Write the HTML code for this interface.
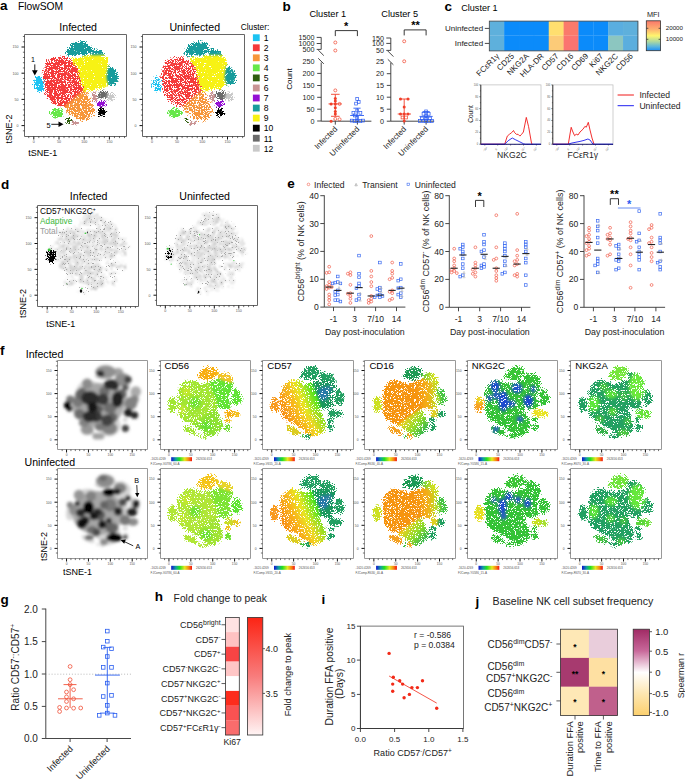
<!DOCTYPE html>
<html><head><meta charset="utf-8"><title>Figure</title>
<style>html,body{margin:0;padding:0;background:#fff;}svg{display:block;}
text{font-family:"Liberation Sans", sans-serif;}</style></head>
<body><svg width="685" height="780" viewBox="0 0 685 780" font-family='"Liberation Sans", sans-serif'>
<defs><filter id="spA" filterUnits="userSpaceOnUse" x="0" y="0" width="685" height="780" color-interpolation-filters="sRGB"><feGaussianBlur in="SourceGraphic" stdDeviation="0.8" result="b"/><feColorMatrix in="b" type="matrix" values="1 0 0 0 0  0 1 0 0 0  0 0 1 0 0  0 0 0 0 1" result="col"/><feTurbulence type="fractalNoise" baseFrequency="1.71" numOctaves="2" seed="4" result="t"/><feColorMatrix in="t" type="matrix" values="0 0 0 0 0  0 0 0 0 0  0 0 0 0 0  1 0 0 0 0" result="tn"/><feComposite in="b" in2="tn" operator="arithmetic" k1="0" k2="7.286" k3="-25" k4="8.314" result="m"/><feComposite in="col" in2="m" operator="in" result="d"/><feComponentTransfer in="b" result="bm"><feFuncA type="linear" slope="20" intercept="-0.4"/></feComponentTransfer><feComposite in="d" in2="bm" operator="in"/></filter><filter id="spA2" filterUnits="userSpaceOnUse" x="0" y="0" width="685" height="780" color-interpolation-filters="sRGB"><feGaussianBlur in="SourceGraphic" stdDeviation="0.8" result="b"/><feColorMatrix in="b" type="matrix" values="1 0 0 0 0  0 1 0 0 0  0 0 1 0 0  0 0 0 0 1" result="col"/><feTurbulence type="fractalNoise" baseFrequency="1.71" numOctaves="2" seed="9" result="t"/><feColorMatrix in="t" type="matrix" values="0 0 0 0 0  0 0 0 0 0  0 0 0 0 0  1 0 0 0 0" result="tn"/><feComposite in="b" in2="tn" operator="arithmetic" k1="0" k2="7.964" k3="-25" k4="10.161" result="m"/><feComposite in="col" in2="m" operator="in" result="d"/><feComponentTransfer in="b" result="bm"><feFuncA type="linear" slope="20" intercept="-0.4"/></feComponentTransfer><feComposite in="d" in2="bm" operator="in"/></filter><filter id="spA3" filterUnits="userSpaceOnUse" x="0" y="0" width="685" height="780" color-interpolation-filters="sRGB"><feGaussianBlur in="SourceGraphic" stdDeviation="0.8" result="b"/><feColorMatrix in="b" type="matrix" values="1 0 0 0 0  0 1 0 0 0  0 0 1 0 0  0 0 0 0 1" result="col"/><feTurbulence type="fractalNoise" baseFrequency="1.71" numOctaves="2" seed="6" result="t"/><feColorMatrix in="t" type="matrix" values="0 0 0 0 0  0 0 0 0 0  0 0 0 0 0  1 0 0 0 0" result="tn"/><feComposite in="b" in2="tn" operator="arithmetic" k1="0" k2="6.429" k3="-25" k4="8.071" result="m"/><feComposite in="col" in2="m" operator="in" result="d"/><feComponentTransfer in="b" result="bm"><feFuncA type="linear" slope="20" intercept="-0.4"/></feComponentTransfer><feComposite in="d" in2="bm" operator="in"/></filter><filter id="spF" filterUnits="userSpaceOnUse" x="0" y="0" width="685" height="780" color-interpolation-filters="sRGB"><feGaussianBlur in="SourceGraphic" stdDeviation="0.8" result="b"/><feColorMatrix in="b" type="matrix" values="1 0 0 0 0  0 1 0 0 0  0 0 1 0 0  0 0 0 0 1" result="col"/><feTurbulence type="fractalNoise" baseFrequency="1.71" numOctaves="2" seed="7" result="t"/><feColorMatrix in="t" type="matrix" values="0 0 0 0 0  0 0 0 0 0  0 0 0 0 0  1 0 0 0 0" result="tn"/><feComposite in="b" in2="tn" operator="arithmetic" k1="0" k2="7.286" k3="-25" k4="8.789" result="m"/><feComposite in="col" in2="m" operator="in" result="d"/><feComponentTransfer in="b" result="bm"><feFuncA type="linear" slope="20" intercept="-0.4"/></feComponentTransfer><feComposite in="d" in2="bm" operator="in"/></filter><filter id="spF2" filterUnits="userSpaceOnUse" x="0" y="0" width="685" height="780" color-interpolation-filters="sRGB"><feGaussianBlur in="SourceGraphic" stdDeviation="0.8" result="b"/><feColorMatrix in="b" type="matrix" values="1 0 0 0 0  0 1 0 0 0  0 0 1 0 0  0 0 0 0 1" result="col"/><feTurbulence type="fractalNoise" baseFrequency="1.71" numOctaves="2" seed="8" result="t"/><feColorMatrix in="t" type="matrix" values="0 0 0 0 0  0 0 0 0 0  0 0 0 0 0  1 0 0 0 0" result="tn"/><feComposite in="b" in2="tn" operator="arithmetic" k1="0" k2="7.000" k3="-25" k4="10.450" result="m"/><feComposite in="col" in2="m" operator="in" result="d"/><feComponentTransfer in="b" result="bm"><feFuncA type="linear" slope="20" intercept="-0.4"/></feComponentTransfer><feComposite in="d" in2="bm" operator="in"/></filter><filter id="spD" filterUnits="userSpaceOnUse" x="0" y="0" width="685" height="780" color-interpolation-filters="sRGB"><feGaussianBlur in="SourceGraphic" stdDeviation="0.8" result="b"/><feColorMatrix in="b" type="matrix" values="1 0 0 0 0  0 1 0 0 0  0 0 1 0 0  0 0 0 0 1" result="col"/><feTurbulence type="fractalNoise" baseFrequency="1.71" numOctaves="2" seed="11" result="t"/><feColorMatrix in="t" type="matrix" values="0 0 0 0 0  0 0 0 0 0  0 0 0 0 0  1 0 0 0 0" result="tn"/><feComposite in="b" in2="tn" operator="arithmetic" k1="0" k2="4.786" k3="-25" k4="7.089" result="m"/><feComposite in="col" in2="m" operator="in" result="d"/><feComponentTransfer in="b" result="bm"><feFuncA type="linear" slope="20" intercept="-0.4"/></feComponentTransfer><feComposite in="d" in2="bm" operator="in"/><feGaussianBlur stdDeviation="0.9"/></filter><filter id="spD2" filterUnits="userSpaceOnUse" x="0" y="0" width="685" height="780" color-interpolation-filters="sRGB"><feGaussianBlur in="SourceGraphic" stdDeviation="0.8" result="b"/><feColorMatrix in="b" type="matrix" values="1 0 0 0 0  0 1 0 0 0  0 0 1 0 0  0 0 0 0 1" result="col"/><feTurbulence type="fractalNoise" baseFrequency="1.71" numOctaves="2" seed="13" result="t"/><feColorMatrix in="t" type="matrix" values="0 0 0 0 0  0 0 0 0 0  0 0 0 0 0  1 0 0 0 0" result="tn"/><feComposite in="b" in2="tn" operator="arithmetic" k1="0" k2="1.536" k3="-25" k4="6.989" result="m"/><feComposite in="col" in2="m" operator="in" result="d"/><feComponentTransfer in="b" result="bm"><feFuncA type="linear" slope="20" intercept="-0.4"/></feComponentTransfer><feComposite in="d" in2="bm" operator="in"/></filter><filter id="spK" filterUnits="userSpaceOnUse" x="0" y="0" width="685" height="780" color-interpolation-filters="sRGB"><feGaussianBlur in="SourceGraphic" stdDeviation="0.8" result="b"/><feColorMatrix in="b" type="matrix" values="1 0 0 0 0  0 1 0 0 0  0 0 1 0 0  0 0 0 0 1" result="col"/><feTurbulence type="fractalNoise" baseFrequency="1.71" numOctaves="2" seed="2" result="t"/><feColorMatrix in="t" type="matrix" values="0 0 0 0 0  0 0 0 0 0  0 0 0 0 0  1 0 0 0 0" result="tn"/><feComposite in="b" in2="tn" operator="arithmetic" k1="0" k2="9.250" k3="-25" k4="8.200" result="m"/><feComposite in="col" in2="m" operator="in" result="d"/><feComponentTransfer in="b" result="bm"><feFuncA type="linear" slope="20" intercept="-0.4"/></feComponentTransfer><feComposite in="d" in2="bm" operator="in"/></filter><filter id="spK2" filterUnits="userSpaceOnUse" x="0" y="0" width="685" height="780" color-interpolation-filters="sRGB"><feGaussianBlur in="SourceGraphic" stdDeviation="0.8" result="b"/><feColorMatrix in="b" type="matrix" values="1 0 0 0 0  0 1 0 0 0  0 0 1 0 0  0 0 0 0 1" result="col"/><feTurbulence type="fractalNoise" baseFrequency="1.71" numOctaves="2" seed="5" result="t"/><feColorMatrix in="t" type="matrix" values="0 0 0 0 0  0 0 0 0 0  0 0 0 0 0  1 0 0 0 0" result="tn"/><feComposite in="b" in2="tn" operator="arithmetic" k1="0" k2="6.714" k3="-25" k4="6.511" result="m"/><feComposite in="col" in2="m" operator="in" result="d"/><feComponentTransfer in="b" result="bm"><feFuncA type="linear" slope="20" intercept="-0.4"/></feComponentTransfer><feComposite in="d" in2="bm" operator="in"/></filter><filter id="blurD" x="-10%" y="-10%" width="120%" height="120%"><feGaussianBlur stdDeviation="1.5"/></filter><filter id="blurT" x="-50%" y="-50%" width="200%" height="200%"><feGaussianBlur stdDeviation="2.2"/></filter><linearGradient id="gMFI" x1="0" y1="0" x2="0" y2="1"><stop offset="0" stop-color="#fa786a"/><stop offset="0.28" stop-color="#fdb070"/><stop offset="0.5" stop-color="#fff56e"/><stop offset="0.7" stop-color="#acd8a0"/><stop offset="0.86" stop-color="#5cb6dc"/><stop offset="1" stop-color="#1a8ef8"/></linearGradient><linearGradient id="gCD57a" gradientUnits="userSpaceOnUse" x1="20" y1="70" x2="100" y2="105"><stop offset="0" stop-color="#f88e14"/><stop offset="0.35" stop-color="#f8b81c"/><stop offset="0.6" stop-color="#e8e620"/><stop offset="1" stop-color="#3ee21e"/></linearGradient><linearGradient id="gCD57b" gradientUnits="userSpaceOnUse" x1="65" y1="25" x2="120" y2="55"><stop offset="0" stop-color="#f8a416"/><stop offset="0.45" stop-color="#f0d820"/><stop offset="1" stop-color="#70e020"/></linearGradient><linearGradient id="gCD16a" gradientUnits="userSpaceOnUse" x1="95" y1="100" x2="145" y2="100"><stop offset="0" stop-color="#f6940f"/><stop offset="0.55" stop-color="#f4ae18"/><stop offset="1" stop-color="#b8e022"/></linearGradient><linearGradient id="gCD16b" gradientUnits="userSpaceOnUse" x1="75" y1="50" x2="118" y2="15"><stop offset="0" stop-color="#e8d020"/><stop offset="0.5" stop-color="#90dc28"/><stop offset="1" stop-color="#28b050"/></linearGradient><linearGradient id="gCD16c" gradientUnits="userSpaceOnUse" x1="108" y1="140" x2="134" y2="135"><stop offset="0" stop-color="#50cc3c"/><stop offset="1" stop-color="#d0e020"/></linearGradient><linearGradient id="gFJ" x1="0" y1="0" x2="1" y2="0"><stop offset="0" stop-color="#1010d0"/><stop offset="0.22" stop-color="#10a0a0"/><stop offset="0.4" stop-color="#20e020"/><stop offset="0.65" stop-color="#e8e820"/><stop offset="0.85" stop-color="#f88010"/><stop offset="1" stop-color="#f01010"/></linearGradient><clipPath id="tclip" clipPathUnits="userSpaceOnUse"><path d="M39.0,127.8C41.0,128.8 49.0,129.3 51.0,129.2C53.0,129.1 60.8,126.9 63.0,126.3C65.2,125.7 75.5,121.7 78.0,121.5C80.5,121.3 91.2,125.4 93.0,124.0C94.8,122.6 98.8,107.9 100.0,105.0C101.2,102.1 107.1,91.9 108.0,89.0C108.9,86.1 111.0,71.9 111.0,70.0C111.0,68.1 109.3,67.4 108.0,66.6C106.7,65.8 97.3,61.4 95.0,60.0C92.7,58.6 82.4,51.7 80.0,50.0C77.6,48.3 68.1,41.5 66.0,40.0C63.9,38.5 57.0,32.2 55.0,32.0C53.0,31.8 44.0,36.6 42.0,37.5C40.0,38.4 33.0,42.0 31.5,43.0C30.0,44.0 24.9,48.1 24.0,49.6C23.1,51.1 21.2,58.9 21.0,61.0C20.8,63.1 21.1,72.6 21.0,75.2C20.9,77.8 19.5,89.6 19.5,92.2C19.5,94.8 20.4,104.3 21.0,106.4C21.6,108.5 25.5,116.0 27.0,117.8C28.5,119.6 37.0,126.8 39.0,127.8Z"/><path d="M55.0,32.0C55.2,33.2 63.9,38.5 66.0,40.0C68.1,41.5 77.6,48.3 80.0,50.0C82.4,51.7 92.7,58.6 95.0,60.0C97.3,61.4 106.6,66.3 108.0,66.6C109.4,66.8 111.3,64.1 112.0,63.0C112.7,61.9 115.2,54.8 116.0,53.0C116.8,51.2 120.3,42.9 121.0,41.0C121.7,39.1 124.6,31.5 124.5,29.7C124.4,27.9 121.1,20.5 120.0,19.0C118.9,17.5 112.8,12.6 111.0,11.6C109.2,10.6 100.9,7.6 99.0,7.3C97.1,7.0 89.9,7.7 88.0,8.5C86.1,9.3 78.0,15.5 76.0,17.0C74.0,18.5 65.8,24.8 64.0,26.0C62.2,27.2 54.8,30.8 55.0,32.0Z"/><path d="M93.0,124.9C93.7,126.9 106.4,128.4 108.0,129.2C109.6,130.0 110.6,134.1 112.0,134.0C113.4,133.9 122.7,128.8 125.0,128.0C127.3,127.2 138.2,124.1 140.0,124.0C141.8,123.9 145.5,127.5 146.0,127.0C146.5,126.5 146.0,120.0 145.5,117.8C145.0,115.5 140.5,102.4 140.0,100.0C139.5,97.6 138.8,91.5 139.0,89.4C139.2,87.3 142.2,76.8 142.0,75.0C141.8,73.2 138.3,68.8 137.0,68.0C135.7,67.2 127.8,66.0 126.0,66.0C124.2,66.0 116.2,67.7 115.0,68.0C113.8,68.3 111.6,68.2 111.0,70.0C110.4,71.8 108.9,86.1 108.0,89.0C107.1,91.9 101.2,102.0 100.0,105.0C98.8,108.0 92.3,122.9 93.0,124.9Z"/><path d="M64.5,137.7C64.8,140.1 69.2,144.6 72.0,147.7C74.8,150.8 77.8,154.3 81.0,156.2C84.2,158.1 87.5,159.0 91.5,159.0C95.5,159.0 101.8,158.3 105.0,156.2C108.2,154.1 110.8,149.5 111.0,146.3C111.2,143.1 108.0,139.6 106.0,137.0C104.0,134.4 102.7,132.2 99.0,131.0C95.3,129.8 88.8,129.2 84.0,129.5C79.2,129.8 73.2,131.6 70.0,133.0C66.8,134.4 64.2,135.2 64.5,137.7Z"/><path d="M109.0,145.0C109.8,146.7 113.7,144.4 117.0,144.4C120.3,144.4 125.0,146.1 129.0,145.0C133.0,143.9 138.0,140.6 141.0,137.7C144.0,134.8 147.2,130.1 147.0,127.8C146.8,125.5 143.7,124.0 140.0,124.0C136.3,124.0 129.7,126.3 125.0,128.0C120.3,129.7 114.7,131.2 112.0,134.0C109.3,136.8 108.2,143.3 109.0,145.0Z"/><path d="M148.0,109.3C150.7,112.1 155.9,109.2 159.0,106.4C162.1,103.6 166.0,96.9 166.5,92.2C167.0,87.5 164.9,80.8 162.0,78.0C159.1,75.2 152.2,73.3 149.0,75.2C145.8,77.1 143.2,83.7 143.0,89.4C142.8,95.1 145.3,106.5 148.0,109.3Z"/></clipPath><clipPath id="tclipS" clipPathUnits="userSpaceOnUse"><path d="M-1.0,78.0C-0.7,80.7 -0.2,84.7 1.0,87.0C2.2,89.3 4.3,91.3 6.0,92.0C7.7,92.7 9.5,92.3 11.0,91.0C12.5,89.7 14.2,87.2 15.0,84.0C15.8,80.8 16.3,75.5 16.0,72.0C15.7,68.5 14.5,64.8 13.0,63.0C11.5,61.2 9.0,60.8 7.0,61.0C5.0,61.2 2.3,62.3 1.0,64.0C-0.3,65.7 -0.7,68.7 -1.0,71.0C-1.3,73.3 -1.3,75.3 -1.0,78.0Z"/><path d="M130.0,57.0a9.0,7.5 0 1,0 18.0,0a9.0,7.5 0 1,0 -18.0,0Z"/><path d="M145.5,56.0a8.0,6.5 0 1,0 16.0,0a8.0,6.5 0 1,0 -16.0,0Z"/><path d="M128.0,43.0a6.0,4.5 0 1,0 12.0,0a6.0,4.5 0 1,0 -12.0,0Z"/><path d="M129.0,27.0a6.0,7.0 0 1,0 12.0,0a6.0,7.0 0 1,0 -12.0,0Z"/><path d="M76.5,7.5a5.5,4.2 0 1,0 11.0,0a5.5,4.2 0 1,0 -11.0,0Z"/><path d="M63.5,13.2C63.8,13.9 63.8,14.8 63.3,15.8C62.9,16.7 62.1,17.9 61.0,18.9C59.9,20.0 58.4,21.2 56.8,22.3C55.2,23.3 53.3,24.4 51.5,25.3C49.6,26.1 47.5,26.9 45.7,27.4C43.9,28.0 42.0,28.4 40.5,28.5C39.0,28.6 37.5,28.5 36.5,28.3C35.5,28.0 34.8,27.4 34.5,26.8C34.2,26.1 34.2,25.2 34.7,24.2C35.1,23.3 35.9,22.1 37.0,21.1C38.1,20.0 39.6,18.8 41.2,17.7C42.8,16.7 44.7,15.6 46.5,14.7C48.4,13.9 50.5,13.1 52.3,12.6C54.1,12.0 56.0,11.6 57.5,11.5C59.0,11.4 60.5,11.5 61.5,11.7C62.5,12.0 63.2,12.6 63.5,13.2Z"/><path d="M68.3,8.5a3.2,3.2 0 1,0 6.4,0a3.2,3.2 0 1,0 -6.4,0Z"/></clipPath><linearGradient id="gFold" x1="0" y1="0" x2="0" y2="1"><stop offset="0" stop-color="#fc2414"/><stop offset="0.5" stop-color="#f87c7c"/><stop offset="1" stop-color="#fff4f4"/></linearGradient><linearGradient id="gSp" x1="0" y1="0" x2="0" y2="1"><stop offset="0" stop-color="#a02a64"/><stop offset="0.25" stop-color="#c8689a"/><stop offset="0.5" stop-color="#ffffff"/><stop offset="0.75" stop-color="#fde6b0"/><stop offset="1" stop-color="#fcd06e"/></linearGradient></defs>
<rect width="685" height="780" fill="#fff"/>
<text x="0.00" y="10.30" font-size="13.5" font-weight="bold">a</text>
<text x="18.00" y="10.30" font-size="10.3">FlowSOM</text>
<text x="59.30" y="30.60" font-size="10.6">Infected</text>
<g filter="url(#spA)"><g transform="translate(33.80,125.60) scale(0.5040,-0.5240)">
<path d="M26.4,123.3C27.6,124.6 33.5,126.5 35.0,127.0C36.5,127.5 42.5,129.2 44.6,129.5C46.7,129.8 58.0,131.1 60.2,130.8C62.4,130.5 69.0,126.7 70.7,125.8C72.4,124.9 79.6,121.0 81.1,119.5C82.6,118.0 88.0,110.4 88.9,108.2C89.8,106.0 91.0,95.7 91.5,93.2C92.0,90.7 94.7,80.4 95.4,78.2C96.1,76.0 100.2,68.6 99.4,66.9C98.6,65.2 88.7,59.9 86.3,58.1C83.9,56.3 72.9,47.5 70.7,45.6C68.5,43.7 62.2,36.1 60.2,35.5C58.2,34.9 49.4,37.3 47.2,38.1C45.0,38.9 36.0,43.9 34.2,45.6C32.4,47.3 26.1,56.2 25.1,58.1C24.1,60.0 22.8,66.0 22.4,68.1C22.0,70.2 20.1,80.7 19.8,83.2C19.5,85.7 18.4,95.9 18.5,98.2C18.6,100.5 20.4,108.7 21.1,110.8C21.8,112.9 25.2,122.0 26.4,123.3Z" fill="#f53a3a" opacity="1"/>
<path d="M60.2,35.5C60.6,37.0 68.5,43.7 70.7,45.6C72.9,47.5 83.9,56.3 86.3,58.1C88.7,59.9 98.1,66.3 99.4,66.9C100.7,67.5 101.3,66.3 102.0,65.6C102.7,64.9 106.1,59.8 107.2,58.1C108.3,56.4 113.9,47.7 115.0,45.6C116.1,43.5 119.8,34.9 120.2,33.0C120.6,31.1 121.1,24.7 120.2,23.0C119.3,21.3 111.5,14.2 109.8,13.0C108.1,11.8 101.4,9.2 99.4,9.2C97.4,9.2 88.5,12.1 86.3,13.0C84.1,13.9 75.0,19.2 73.3,20.5C71.6,21.8 66.6,26.8 65.5,28.0C64.4,29.2 59.8,34.0 60.2,35.5Z" fill="#f7963a" opacity="1"/>
</g></g>
<g filter="url(#spA2)"><g transform="translate(33.80,125.60) scale(0.5040,-0.5240)">
<path d="M65.5,139.6C65.5,141.9 68.1,145.5 70.7,148.4C73.3,151.3 76.8,155.2 81.1,157.1C85.4,159.0 91.9,160.2 96.7,159.6C101.5,159.0 107.2,156.1 109.8,153.4C112.4,150.7 113.7,146.2 112.4,143.3C111.1,140.4 106.8,137.1 102.0,135.8C97.2,134.6 88.9,136.0 83.7,135.8C78.5,135.6 73.7,134.0 70.7,134.6C67.7,135.2 65.5,137.3 65.5,139.6Z" fill="#179c9c" opacity="1"/>
<path d="M112.0,141.0C112.3,142.4 112.3,144.2 115.0,144.6C117.7,145.0 124.1,144.6 128.0,143.3C131.9,142.1 137.3,139.0 138.4,137.1C139.5,135.2 137.5,132.7 134.5,132.1C131.5,131.5 123.8,132.7 120.2,133.3C116.6,134.0 114.4,134.7 113.0,136.0C111.6,137.3 111.7,139.6 112.0,141.0Z" fill="#179c9c" opacity="1"/>
<path d="M75.9,128.3C76.8,129.0 88.7,127.9 91.5,128.3C94.3,128.7 106.3,132.8 109.8,133.3C113.3,133.8 130.4,134.8 133.2,134.6C136.0,134.4 142.6,132.6 143.7,130.8C144.8,129.0 146.3,116.4 146.3,113.3C146.3,110.2 143.7,95.9 143.7,93.2C143.7,90.5 146.7,82.4 146.3,80.7C145.9,79.0 140.8,74.0 138.4,73.1C136.0,72.2 120.4,69.8 117.6,69.4C114.8,69.0 106.0,68.3 104.5,68.1C103.0,67.9 100.2,66.1 99.4,66.9C98.6,67.7 96.1,76.0 95.4,78.2C94.7,80.4 92.0,90.7 91.5,93.2C91.0,95.7 89.8,106.0 88.9,108.2C88.0,110.4 82.2,117.8 81.1,119.5C80.0,121.2 75.0,127.6 75.9,128.3Z" fill="#f7f214" opacity="1"/>
<path d="M148.9,113.3C151.1,113.7 156.5,109.0 159.3,105.7C162.1,102.4 165.4,97.4 165.8,93.2C166.2,89.0 164.3,83.2 161.9,80.7C159.5,78.2 154.3,77.0 151.5,78.2C148.7,79.5 145.9,84.0 145.0,88.2C144.1,92.4 145.7,99.0 146.3,103.2C147.0,107.4 146.7,112.9 148.9,113.3Z" fill="#179c9c" opacity="1"/>
<path d="M4.2,90.7C5.9,93.6 8.5,93.6 10.7,93.2C12.9,92.8 15.9,91.1 17.2,88.2C18.5,85.3 18.9,79.6 18.5,75.6C18.1,71.6 16.6,65.7 14.6,64.4C12.7,63.2 9.2,66.2 6.8,68.1C4.4,70.0 0.7,71.8 0.3,75.6C-0.1,79.4 2.5,87.8 4.2,90.7Z" fill="#1cc3f2" opacity="1"/>
<path d="M127.2,58.1a10.0,7.2 0 1,0 20.0,0a10.0,7.2 0 1,0 -20.0,0Z" fill="#6a6a6a" opacity="1"/>
<path d="M144.8,55.6a8.0,6.0 0 1,0 16.0,0a8.0,6.0 0 1,0 -16.0,0Z" fill="#c9c9c9" opacity="1"/>
<path d="M127.0,41.8a7.5,5.0 0 1,0 15.0,0a7.5,5.0 0 1,0 -15.0,0Z" fill="#9410d4" opacity="1"/>
<path d="M128.3,25.5a7.0,7.5 0 1,0 14.0,0a7.0,7.5 0 1,0 -14.0,0Z" fill="#000000" opacity="1"/>
<path d="M116.5,55.0a3.5,8.0 0 1,0 7.0,0a3.5,8.0 0 1,0 -7.0,0ZM75.6,5.5a6.0,3.0 0 1,0 12.0,0a6.0,3.0 0 1,0 -12.0,0Z" fill="#c99494" opacity="1"/>
<path d="M32.9,24.3a13.0,7.5 0 1,0 26.0,0a13.0,7.5 0 1,0 -26.0,0Z" fill="#66e84a" opacity="1"/>
<path d="M64.9,9.2a4.5,4.5 0 1,0 9.0,0a4.5,4.5 0 1,0 -9.0,0Z" fill="#2e5e0e" opacity="1"/>
</g></g>
<path d="M24.5,34.5 H126.5 V136.5 H24.5 Z" fill="none" stroke="#666" stroke-width="1"/>
<line x1="22.90" y1="130.84" x2="24.50" y2="130.84" stroke="#111" stroke-width="0.6"/>
<line x1="21.50" y1="125.60" x2="24.50" y2="125.60" stroke="#111" stroke-width="1"/>
<text x="18.50" y="126.90" font-size="3.6" text-anchor="end" fill="#555">0</text>
<line x1="22.90" y1="120.36" x2="24.50" y2="120.36" stroke="#111" stroke-width="0.6"/>
<line x1="22.90" y1="115.12" x2="24.50" y2="115.12" stroke="#111" stroke-width="0.6"/>
<line x1="22.90" y1="109.88" x2="24.50" y2="109.88" stroke="#111" stroke-width="0.6"/>
<line x1="22.90" y1="104.64" x2="24.50" y2="104.64" stroke="#111" stroke-width="0.6"/>
<line x1="21.50" y1="99.40" x2="24.50" y2="99.40" stroke="#111" stroke-width="1"/>
<text x="18.50" y="100.70" font-size="3.6" text-anchor="end" fill="#555">50</text>
<line x1="22.90" y1="94.16" x2="24.50" y2="94.16" stroke="#111" stroke-width="0.6"/>
<line x1="22.90" y1="88.92" x2="24.50" y2="88.92" stroke="#111" stroke-width="0.6"/>
<line x1="22.90" y1="83.68" x2="24.50" y2="83.68" stroke="#111" stroke-width="0.6"/>
<line x1="22.90" y1="78.44" x2="24.50" y2="78.44" stroke="#111" stroke-width="0.6"/>
<line x1="21.50" y1="73.20" x2="24.50" y2="73.20" stroke="#111" stroke-width="1"/>
<text x="18.50" y="74.50" font-size="3.6" text-anchor="end" fill="#555">100</text>
<line x1="22.90" y1="67.96" x2="24.50" y2="67.96" stroke="#111" stroke-width="0.6"/>
<line x1="22.90" y1="62.72" x2="24.50" y2="62.72" stroke="#111" stroke-width="0.6"/>
<line x1="22.90" y1="57.48" x2="24.50" y2="57.48" stroke="#111" stroke-width="0.6"/>
<line x1="22.90" y1="52.24" x2="24.50" y2="52.24" stroke="#111" stroke-width="0.6"/>
<line x1="21.50" y1="47.00" x2="24.50" y2="47.00" stroke="#111" stroke-width="1"/>
<text x="18.50" y="48.30" font-size="3.6" text-anchor="end" fill="#555">150</text>
<line x1="22.90" y1="41.76" x2="24.50" y2="41.76" stroke="#111" stroke-width="0.6"/>
<line x1="22.90" y1="36.52" x2="24.50" y2="36.52" stroke="#111" stroke-width="0.6"/>
<line x1="28.76" y1="136.50" x2="28.76" y2="138.10" stroke="#111" stroke-width="0.6"/>
<line x1="33.80" y1="136.50" x2="33.80" y2="139.50" stroke="#111" stroke-width="1"/>
<text x="33.80" y="143.10" font-size="3.6" text-anchor="middle" fill="#555">0</text>
<line x1="38.84" y1="136.50" x2="38.84" y2="138.10" stroke="#111" stroke-width="0.6"/>
<line x1="43.88" y1="136.50" x2="43.88" y2="138.10" stroke="#111" stroke-width="0.6"/>
<line x1="48.92" y1="136.50" x2="48.92" y2="138.10" stroke="#111" stroke-width="0.6"/>
<line x1="53.96" y1="136.50" x2="53.96" y2="138.10" stroke="#111" stroke-width="0.6"/>
<line x1="59.00" y1="136.50" x2="59.00" y2="139.50" stroke="#111" stroke-width="1"/>
<text x="59.00" y="143.10" font-size="3.6" text-anchor="middle" fill="#555">50</text>
<line x1="64.04" y1="136.50" x2="64.04" y2="138.10" stroke="#111" stroke-width="0.6"/>
<line x1="69.08" y1="136.50" x2="69.08" y2="138.10" stroke="#111" stroke-width="0.6"/>
<line x1="74.12" y1="136.50" x2="74.12" y2="138.10" stroke="#111" stroke-width="0.6"/>
<line x1="79.16" y1="136.50" x2="79.16" y2="138.10" stroke="#111" stroke-width="0.6"/>
<line x1="84.20" y1="136.50" x2="84.20" y2="139.50" stroke="#111" stroke-width="1"/>
<text x="84.20" y="143.10" font-size="3.6" text-anchor="middle" fill="#555">100</text>
<line x1="89.24" y1="136.50" x2="89.24" y2="138.10" stroke="#111" stroke-width="0.6"/>
<line x1="94.28" y1="136.50" x2="94.28" y2="138.10" stroke="#111" stroke-width="0.6"/>
<line x1="99.32" y1="136.50" x2="99.32" y2="138.10" stroke="#111" stroke-width="0.6"/>
<line x1="104.36" y1="136.50" x2="104.36" y2="138.10" stroke="#111" stroke-width="0.6"/>
<line x1="109.40" y1="136.50" x2="109.40" y2="139.50" stroke="#111" stroke-width="1"/>
<text x="109.40" y="143.10" font-size="3.6" text-anchor="middle" fill="#555">150</text>
<line x1="114.44" y1="136.50" x2="114.44" y2="138.10" stroke="#111" stroke-width="0.6"/>
<line x1="119.48" y1="136.50" x2="119.48" y2="138.10" stroke="#111" stroke-width="0.6"/>
<line x1="124.52" y1="136.50" x2="124.52" y2="138.10" stroke="#111" stroke-width="0.6"/>
<text x="169.40" y="30.60" font-size="10.6">Uninfected</text>
<g filter="url(#spA3)"><g transform="translate(151.90,125.60) scale(0.5040,-0.5240)">
<path d="M26.4,123.3C27.6,124.6 33.5,126.5 35.0,127.0C36.5,127.5 42.5,129.2 44.6,129.5C46.7,129.8 58.0,131.1 60.2,130.8C62.4,130.5 69.0,126.7 70.7,125.8C72.4,124.9 79.6,121.0 81.1,119.5C82.6,118.0 88.0,110.4 88.9,108.2C89.8,106.0 91.0,95.7 91.5,93.2C92.0,90.7 94.7,80.4 95.4,78.2C96.1,76.0 100.2,68.6 99.4,66.9C98.6,65.2 88.7,59.9 86.3,58.1C83.9,56.3 72.9,47.5 70.7,45.6C68.5,43.7 62.2,36.1 60.2,35.5C58.2,34.9 49.4,37.3 47.2,38.1C45.0,38.9 36.0,43.9 34.2,45.6C32.4,47.3 26.1,56.2 25.1,58.1C24.1,60.0 22.8,66.0 22.4,68.1C22.0,70.2 20.1,80.7 19.8,83.2C19.5,85.7 18.4,95.9 18.5,98.2C18.6,100.5 20.4,108.7 21.1,110.8C21.8,112.9 25.2,122.0 26.4,123.3Z" fill="#f53a3a" opacity="1"/>
<path d="M60.2,35.5C60.6,37.0 68.5,43.7 70.7,45.6C72.9,47.5 83.9,56.3 86.3,58.1C88.7,59.9 98.1,66.3 99.4,66.9C100.7,67.5 101.3,66.3 102.0,65.6C102.7,64.9 106.1,59.8 107.2,58.1C108.3,56.4 113.9,47.7 115.0,45.6C116.1,43.5 119.8,34.9 120.2,33.0C120.6,31.1 121.1,24.7 120.2,23.0C119.3,21.3 111.5,14.2 109.8,13.0C108.1,11.8 101.4,9.2 99.4,9.2C97.4,9.2 88.5,12.1 86.3,13.0C84.1,13.9 75.0,19.2 73.3,20.5C71.6,21.8 66.6,26.8 65.5,28.0C64.4,29.2 59.8,34.0 60.2,35.5Z" fill="#f7963a" opacity="1"/>
</g></g>
<g filter="url(#spA2)"><g transform="translate(151.90,125.60) scale(0.5040,-0.5240)">
<path d="M65.5,139.6C65.5,141.9 68.1,145.5 70.7,148.4C73.3,151.3 76.8,155.2 81.1,157.1C85.4,159.0 91.9,160.2 96.7,159.6C101.5,159.0 107.2,156.1 109.8,153.4C112.4,150.7 113.7,146.2 112.4,143.3C111.1,140.4 106.8,137.1 102.0,135.8C97.2,134.6 88.9,136.0 83.7,135.8C78.5,135.6 73.7,134.0 70.7,134.6C67.7,135.2 65.5,137.3 65.5,139.6Z" fill="#179c9c" opacity="1"/>
<path d="M112.0,141.0C112.3,142.4 112.3,144.2 115.0,144.6C117.7,145.0 124.1,144.6 128.0,143.3C131.9,142.1 137.3,139.0 138.4,137.1C139.5,135.2 137.5,132.7 134.5,132.1C131.5,131.5 123.8,132.7 120.2,133.3C116.6,134.0 114.4,134.7 113.0,136.0C111.6,137.3 111.7,139.6 112.0,141.0Z" fill="#179c9c" opacity="1"/>
<path d="M75.9,128.3C76.8,129.0 88.7,127.9 91.5,128.3C94.3,128.7 106.3,132.8 109.8,133.3C113.3,133.8 130.4,134.8 133.2,134.6C136.0,134.4 142.6,132.6 143.7,130.8C144.8,129.0 146.3,116.4 146.3,113.3C146.3,110.2 143.7,95.9 143.7,93.2C143.7,90.5 146.7,82.4 146.3,80.7C145.9,79.0 140.8,74.0 138.4,73.1C136.0,72.2 120.4,69.8 117.6,69.4C114.8,69.0 106.0,68.3 104.5,68.1C103.0,67.9 100.2,66.1 99.4,66.9C98.6,67.7 96.1,76.0 95.4,78.2C94.7,80.4 92.0,90.7 91.5,93.2C91.0,95.7 89.8,106.0 88.9,108.2C88.0,110.4 82.2,117.8 81.1,119.5C80.0,121.2 75.0,127.6 75.9,128.3Z" fill="#f7f214" opacity="1"/>
<path d="M148.9,113.3C151.1,113.7 156.5,109.0 159.3,105.7C162.1,102.4 165.4,97.4 165.8,93.2C166.2,89.0 164.3,83.2 161.9,80.7C159.5,78.2 154.3,77.0 151.5,78.2C148.7,79.5 145.9,84.0 145.0,88.2C144.1,92.4 145.7,99.0 146.3,103.2C147.0,107.4 146.7,112.9 148.9,113.3Z" fill="#179c9c" opacity="1"/>
<path d="M4.2,90.7C5.9,93.6 8.5,93.6 10.7,93.2C12.9,92.8 15.9,91.1 17.2,88.2C18.5,85.3 18.9,79.6 18.5,75.6C18.1,71.6 16.6,65.7 14.6,64.4C12.7,63.2 9.2,66.2 6.8,68.1C4.4,70.0 0.7,71.8 0.3,75.6C-0.1,79.4 2.5,87.8 4.2,90.7Z" fill="#1cc3f2" opacity="0.45"/>
<path d="M127.2,58.1a10.0,7.2 0 1,0 20.0,0a10.0,7.2 0 1,0 -20.0,0Z" fill="#6a6a6a" opacity="1"/>
<path d="M144.8,55.6a8.0,6.0 0 1,0 16.0,0a8.0,6.0 0 1,0 -16.0,0Z" fill="#c9c9c9" opacity="1"/>
<path d="M127.0,41.8a7.5,5.0 0 1,0 15.0,0a7.5,5.0 0 1,0 -15.0,0Z" fill="#9410d4" opacity="1"/>
<path d="M128.3,25.5a7.0,7.5 0 1,0 14.0,0a7.0,7.5 0 1,0 -14.0,0Z" fill="#000000" opacity="1"/>
<path d="M116.5,55.0a3.5,8.0 0 1,0 7.0,0a3.5,8.0 0 1,0 -7.0,0ZM75.6,5.5a6.0,3.0 0 1,0 12.0,0a6.0,3.0 0 1,0 -12.0,0Z" fill="#c99494" opacity="1"/>
<path d="M32.9,24.3a13.0,7.5 0 1,0 26.0,0a13.0,7.5 0 1,0 -26.0,0Z" fill="#66e84a" opacity="1"/>
<path d="M64.9,9.2a4.5,4.5 0 1,0 9.0,0a4.5,4.5 0 1,0 -9.0,0Z" fill="#2e5e0e" opacity="0.3"/>
</g></g>
<path d="M142.5,34.5 H244.5 V136.5 H142.5 Z" fill="none" stroke="#666" stroke-width="1"/>
<line x1="140.90" y1="130.84" x2="142.50" y2="130.84" stroke="#111" stroke-width="0.6"/>
<line x1="139.50" y1="125.60" x2="142.50" y2="125.60" stroke="#111" stroke-width="1"/>
<text x="136.50" y="126.90" font-size="3.6" text-anchor="end" fill="#555">0</text>
<line x1="140.90" y1="120.36" x2="142.50" y2="120.36" stroke="#111" stroke-width="0.6"/>
<line x1="140.90" y1="115.12" x2="142.50" y2="115.12" stroke="#111" stroke-width="0.6"/>
<line x1="140.90" y1="109.88" x2="142.50" y2="109.88" stroke="#111" stroke-width="0.6"/>
<line x1="140.90" y1="104.64" x2="142.50" y2="104.64" stroke="#111" stroke-width="0.6"/>
<line x1="139.50" y1="99.40" x2="142.50" y2="99.40" stroke="#111" stroke-width="1"/>
<text x="136.50" y="100.70" font-size="3.6" text-anchor="end" fill="#555">50</text>
<line x1="140.90" y1="94.16" x2="142.50" y2="94.16" stroke="#111" stroke-width="0.6"/>
<line x1="140.90" y1="88.92" x2="142.50" y2="88.92" stroke="#111" stroke-width="0.6"/>
<line x1="140.90" y1="83.68" x2="142.50" y2="83.68" stroke="#111" stroke-width="0.6"/>
<line x1="140.90" y1="78.44" x2="142.50" y2="78.44" stroke="#111" stroke-width="0.6"/>
<line x1="139.50" y1="73.20" x2="142.50" y2="73.20" stroke="#111" stroke-width="1"/>
<text x="136.50" y="74.50" font-size="3.6" text-anchor="end" fill="#555">100</text>
<line x1="140.90" y1="67.96" x2="142.50" y2="67.96" stroke="#111" stroke-width="0.6"/>
<line x1="140.90" y1="62.72" x2="142.50" y2="62.72" stroke="#111" stroke-width="0.6"/>
<line x1="140.90" y1="57.48" x2="142.50" y2="57.48" stroke="#111" stroke-width="0.6"/>
<line x1="140.90" y1="52.24" x2="142.50" y2="52.24" stroke="#111" stroke-width="0.6"/>
<line x1="139.50" y1="47.00" x2="142.50" y2="47.00" stroke="#111" stroke-width="1"/>
<text x="136.50" y="48.30" font-size="3.6" text-anchor="end" fill="#555">150</text>
<line x1="140.90" y1="41.76" x2="142.50" y2="41.76" stroke="#111" stroke-width="0.6"/>
<line x1="140.90" y1="36.52" x2="142.50" y2="36.52" stroke="#111" stroke-width="0.6"/>
<line x1="146.86" y1="136.50" x2="146.86" y2="138.10" stroke="#111" stroke-width="0.6"/>
<line x1="151.90" y1="136.50" x2="151.90" y2="139.50" stroke="#111" stroke-width="1"/>
<text x="151.90" y="143.10" font-size="3.6" text-anchor="middle" fill="#555">0</text>
<line x1="156.94" y1="136.50" x2="156.94" y2="138.10" stroke="#111" stroke-width="0.6"/>
<line x1="161.98" y1="136.50" x2="161.98" y2="138.10" stroke="#111" stroke-width="0.6"/>
<line x1="167.02" y1="136.50" x2="167.02" y2="138.10" stroke="#111" stroke-width="0.6"/>
<line x1="172.06" y1="136.50" x2="172.06" y2="138.10" stroke="#111" stroke-width="0.6"/>
<line x1="177.10" y1="136.50" x2="177.10" y2="139.50" stroke="#111" stroke-width="1"/>
<text x="177.10" y="143.10" font-size="3.6" text-anchor="middle" fill="#555">50</text>
<line x1="182.14" y1="136.50" x2="182.14" y2="138.10" stroke="#111" stroke-width="0.6"/>
<line x1="187.18" y1="136.50" x2="187.18" y2="138.10" stroke="#111" stroke-width="0.6"/>
<line x1="192.22" y1="136.50" x2="192.22" y2="138.10" stroke="#111" stroke-width="0.6"/>
<line x1="197.26" y1="136.50" x2="197.26" y2="138.10" stroke="#111" stroke-width="0.6"/>
<line x1="202.30" y1="136.50" x2="202.30" y2="139.50" stroke="#111" stroke-width="1"/>
<text x="202.30" y="143.10" font-size="3.6" text-anchor="middle" fill="#555">100</text>
<line x1="207.34" y1="136.50" x2="207.34" y2="138.10" stroke="#111" stroke-width="0.6"/>
<line x1="212.38" y1="136.50" x2="212.38" y2="138.10" stroke="#111" stroke-width="0.6"/>
<line x1="217.42" y1="136.50" x2="217.42" y2="138.10" stroke="#111" stroke-width="0.6"/>
<line x1="222.46" y1="136.50" x2="222.46" y2="138.10" stroke="#111" stroke-width="0.6"/>
<line x1="227.50" y1="136.50" x2="227.50" y2="139.50" stroke="#111" stroke-width="1"/>
<text x="227.50" y="143.10" font-size="3.6" text-anchor="middle" fill="#555">150</text>
<line x1="232.54" y1="136.50" x2="232.54" y2="138.10" stroke="#111" stroke-width="0.6"/>
<line x1="237.58" y1="136.50" x2="237.58" y2="138.10" stroke="#111" stroke-width="0.6"/>
<line x1="242.62" y1="136.50" x2="242.62" y2="138.10" stroke="#111" stroke-width="0.6"/>
<text x="31.00" y="62.20" font-size="7.2">1</text>
<line x1="34.80" y1="64.40" x2="34.80" y2="71.00" stroke="#000" stroke-width="0.9"/>
<path d="M32,70.3 L37.7,70.3 L34.8,75.5 Z" fill="#000"/>
<text x="46.40" y="127.60" font-size="7.4">5</text>
<line x1="51.30" y1="124.30" x2="59.00" y2="124.30" stroke="#000" stroke-width="0.9"/>
<path d="M58.5,121.5 L58.5,127.1 L63.5,124.3 Z" fill="#000"/>
<text x="12.30" y="143.50" font-size="9" transform="rotate(-90 12.30 143.50)">tSNE-2</text>
<text x="28.20" y="155.60" font-size="9">tSNE-1</text>
<text x="240.70" y="29.80" font-size="8.3">Cluster:</text>
<rect x="252.90" y="34.30" width="6.80" height="6.80" fill="#1cc3f2"/>
<text x="263.70" y="41.00" font-size="8.6">1</text>
<rect x="252.90" y="44.35" width="6.80" height="6.80" fill="#f53a3a"/>
<text x="263.70" y="51.05" font-size="8.6">2</text>
<rect x="252.90" y="54.40" width="6.80" height="6.80" fill="#f7963a"/>
<text x="263.70" y="61.10" font-size="8.6">3</text>
<rect x="252.90" y="64.45" width="6.80" height="6.80" fill="#66e84a"/>
<text x="263.70" y="71.15" font-size="8.6">4</text>
<rect x="252.90" y="74.50" width="6.80" height="6.80" fill="#2e5e0e"/>
<text x="263.70" y="81.20" font-size="8.6">5</text>
<rect x="252.90" y="84.55" width="6.80" height="6.80" fill="#c99494"/>
<text x="263.70" y="91.25" font-size="8.6">6</text>
<rect x="252.90" y="94.60" width="6.80" height="6.80" fill="#9410d4"/>
<text x="263.70" y="101.30" font-size="8.6">7</text>
<rect x="252.90" y="104.65" width="6.80" height="6.80" fill="#179c9c"/>
<text x="263.70" y="111.35" font-size="8.6">8</text>
<rect x="252.90" y="114.70" width="6.80" height="6.80" fill="#f7f214"/>
<text x="263.70" y="121.40" font-size="8.6">9</text>
<rect x="252.90" y="124.75" width="6.80" height="6.80" fill="#000000"/>
<text x="263.70" y="131.45" font-size="8.6">10</text>
<rect x="252.90" y="134.80" width="6.80" height="6.80" fill="#6a6a6a"/>
<text x="263.70" y="141.50" font-size="8.6">11</text>
<rect x="252.90" y="144.85" width="6.80" height="6.80" fill="#c9c9c9"/>
<text x="263.70" y="151.55" font-size="8.6">12</text>
<text x="282.50" y="10.50" font-size="13.5" font-weight="bold">b</text>
<text x="309.40" y="16.80" font-size="9.2">Cluster 1</text>
<text x="381.30" y="17.20" font-size="9.2">Cluster 5</text>
<text x="292.30" y="79.00" font-size="8" text-anchor="middle" transform="rotate(-90 292.30 79.00)">Count</text>
<line x1="321.20" y1="37.40" x2="321.20" y2="49.40" stroke="#333" stroke-width="0.9"/>
<line x1="316.70" y1="37.40" x2="321.20" y2="37.40" stroke="#333" stroke-width="0.9"/>
<text x="314.40" y="39.90" font-size="7.2" text-anchor="end" fill="#222">1500</text>
<line x1="316.70" y1="43.50" x2="321.20" y2="43.50" stroke="#333" stroke-width="0.9"/>
<text x="314.40" y="46.00" font-size="7.2" text-anchor="end" fill="#222">1000</text>
<line x1="316.70" y1="49.40" x2="321.20" y2="49.40" stroke="#333" stroke-width="0.9"/>
<text x="314.40" y="51.90" font-size="7.2" text-anchor="end" fill="#222">500</text>
<line x1="318.20" y1="50.00" x2="323.80" y2="55.60" stroke="#333" stroke-width="0.9"/>
<line x1="318.20" y1="58.30" x2="323.80" y2="63.80" stroke="#333" stroke-width="0.9"/>
<line x1="321.20" y1="62.50" x2="321.20" y2="121.20" stroke="#333" stroke-width="0.9"/>
<text x="314.40" y="63.60" font-size="7.2" text-anchor="end" fill="#222">250</text>
<line x1="317.20" y1="73.40" x2="321.20" y2="73.40" stroke="#333" stroke-width="0.9"/>
<text x="314.40" y="75.90" font-size="7.2" text-anchor="end" fill="#222">200</text>
<line x1="317.20" y1="85.50" x2="321.20" y2="85.50" stroke="#333" stroke-width="0.9"/>
<text x="314.40" y="88.00" font-size="7.2" text-anchor="end" fill="#222">150</text>
<line x1="317.20" y1="97.30" x2="321.20" y2="97.30" stroke="#333" stroke-width="0.9"/>
<text x="314.40" y="99.80" font-size="7.2" text-anchor="end" fill="#222">100</text>
<line x1="317.20" y1="109.20" x2="321.20" y2="109.20" stroke="#333" stroke-width="0.9"/>
<text x="314.40" y="111.70" font-size="7.2" text-anchor="end" fill="#222">50</text>
<line x1="317.20" y1="121.00" x2="321.20" y2="121.00" stroke="#333" stroke-width="0.9"/>
<text x="314.40" y="123.50" font-size="7.2" text-anchor="end" fill="#222">0</text>
<line x1="321.20" y1="121.20" x2="371.40" y2="121.20" stroke="#333" stroke-width="0.9"/>
<line x1="335.30" y1="121.20" x2="335.30" y2="124.60" stroke="#333" stroke-width="0.9"/>
<line x1="357.40" y1="121.20" x2="357.40" y2="124.60" stroke="#333" stroke-width="0.9"/>
<text x="337.80" y="129.60" font-size="8" text-anchor="end" fill="#222" transform="rotate(-45 337.80 129.60)">Infected</text>
<text x="359.90" y="129.60" font-size="8" text-anchor="end" fill="#222" transform="rotate(-45 359.90 129.60)">Uninfected</text>
<path d="M335.3,36.1 V30.6 H357.4 V36.1" fill="none" stroke="#222" stroke-width="0.9"/>
<line x1="390.80" y1="38.00" x2="390.80" y2="50.40" stroke="#333" stroke-width="0.9"/>
<line x1="386.30" y1="38.00" x2="390.80" y2="38.00" stroke="#333" stroke-width="0.9"/>
<text x="384.00" y="40.50" font-size="7.2" text-anchor="end" fill="#222">150</text>
<line x1="386.30" y1="43.40" x2="390.80" y2="43.40" stroke="#333" stroke-width="0.9"/>
<text x="384.00" y="45.90" font-size="7.2" text-anchor="end" fill="#222">100</text>
<line x1="386.30" y1="50.40" x2="390.80" y2="50.40" stroke="#333" stroke-width="0.9"/>
<text x="384.00" y="52.90" font-size="7.2" text-anchor="end" fill="#222">50</text>
<line x1="387.80" y1="51.00" x2="393.40" y2="56.60" stroke="#333" stroke-width="0.9"/>
<line x1="387.80" y1="59.30" x2="393.40" y2="64.80" stroke="#333" stroke-width="0.9"/>
<line x1="390.80" y1="62.70" x2="390.80" y2="121.20" stroke="#333" stroke-width="0.9"/>
<text x="384.00" y="63.80" font-size="7.2" text-anchor="end" fill="#222">25</text>
<line x1="386.80" y1="73.70" x2="390.80" y2="73.70" stroke="#333" stroke-width="0.9"/>
<text x="384.00" y="76.20" font-size="7.2" text-anchor="end" fill="#222">20</text>
<line x1="386.80" y1="85.40" x2="390.80" y2="85.40" stroke="#333" stroke-width="0.9"/>
<text x="384.00" y="87.90" font-size="7.2" text-anchor="end" fill="#222">15</text>
<line x1="386.80" y1="97.20" x2="390.80" y2="97.20" stroke="#333" stroke-width="0.9"/>
<text x="384.00" y="99.70" font-size="7.2" text-anchor="end" fill="#222">10</text>
<line x1="386.80" y1="109.20" x2="390.80" y2="109.20" stroke="#333" stroke-width="0.9"/>
<text x="384.00" y="111.70" font-size="7.2" text-anchor="end" fill="#222">5</text>
<line x1="386.80" y1="121.20" x2="390.80" y2="121.20" stroke="#333" stroke-width="0.9"/>
<text x="384.00" y="123.70" font-size="7.2" text-anchor="end" fill="#222">0</text>
<line x1="390.80" y1="121.20" x2="434.20" y2="121.20" stroke="#333" stroke-width="0.9"/>
<line x1="404.20" y1="121.20" x2="404.20" y2="124.60" stroke="#333" stroke-width="0.9"/>
<line x1="426.10" y1="121.20" x2="426.10" y2="124.60" stroke="#333" stroke-width="0.9"/>
<text x="406.70" y="129.60" font-size="8" text-anchor="end" fill="#222" transform="rotate(-45 406.70 129.60)">Infected</text>
<text x="428.60" y="129.60" font-size="8" text-anchor="end" fill="#222" transform="rotate(-45 428.60 129.60)">Uninfected</text>
<path d="M404.2,35.4 V29.9 H426.1 V35.4" fill="none" stroke="#222" stroke-width="0.9"/>
<text x="346.20" y="30.35" font-size="11" text-anchor="middle" font-weight="bold">*</text>
<text x="415.50" y="29.45" font-size="11" text-anchor="middle" font-weight="bold">**</text>
<circle cx="335.30" cy="42.50" r="1.5" fill="none" stroke="#f0402a" stroke-width="0.7"/>
<circle cx="335.30" cy="50.50" r="1.5" fill="none" stroke="#f0402a" stroke-width="0.7"/>
<circle cx="335.30" cy="90.40" r="1.5" fill="none" stroke="#f0402a" stroke-width="0.7"/>
<circle cx="335.30" cy="98.60" r="1.5" fill="#f0402a"/>
<circle cx="335.30" cy="100.90" r="1.5" fill="#f0402a"/>
<circle cx="335.30" cy="103.90" r="1.5" fill="#f0402a"/>
<circle cx="335.30" cy="107.80" r="1.5" fill="#f0402a"/>
<circle cx="335.30" cy="111.40" r="1.5" fill="#f0402a"/>
<circle cx="335.30" cy="114.00" r="1.5" fill="#f0402a"/>
<circle cx="331.10" cy="103.90" r="1.5" fill="#f0402a"/>
<circle cx="339.60" cy="103.90" r="1.5" fill="none" stroke="#f0402a" stroke-width="0.7"/>
<circle cx="331.10" cy="121.20" r="1.5" fill="#f0402a"/>
<circle cx="335.30" cy="118.90" r="1.5" fill="none" stroke="#f0402a" stroke-width="0.7"/>
<circle cx="339.60" cy="119.30" r="1.5" fill="none" stroke="#f0402a" stroke-width="0.7"/>
<line x1="335.30" y1="94.30" x2="335.30" y2="116.30" stroke="#f0402a" stroke-width="0.9"/>
<line x1="331.00" y1="94.30" x2="339.60" y2="94.30" stroke="#f0402a" stroke-width="0.9"/>
<line x1="331.00" y1="116.30" x2="339.60" y2="116.30" stroke="#f0402a" stroke-width="0.9"/>
<line x1="328.50" y1="103.90" x2="341.60" y2="103.90" stroke="#f0402a" stroke-width="0.9"/>
<rect x="355.80" y="97.60" width="2.8" height="2.8" fill="none" stroke="#2a5af0" stroke-width="0.7"/>
<rect x="357.30" y="100.50" width="2.8" height="2.8" fill="none" stroke="#2a5af0" stroke-width="0.7"/>
<rect x="354.70" y="102.20" width="2.8" height="2.8" fill="none" stroke="#2a5af0" stroke-width="0.7"/>
<rect x="352.00" y="111.40" width="2.8" height="2.8" fill="none" stroke="#2a5af0" stroke-width="0.7"/>
<rect x="359.00" y="111.40" width="2.8" height="2.8" fill="none" stroke="#2a5af0" stroke-width="0.7"/>
<rect x="355.80" y="116.30" width="2.8" height="2.8" fill="none" stroke="#2a5af0" stroke-width="0.7"/>
<rect x="350.30" y="119.20" width="2.8" height="2.8" fill="none" stroke="#2a5af0" stroke-width="0.7"/>
<rect x="353.20" y="119.60" width="2.8" height="2.8" fill="none" stroke="#2a5af0" stroke-width="0.7"/>
<rect x="355.80" y="119.60" width="2.8" height="2.8" fill="none" stroke="#2a5af0" stroke-width="0.7"/>
<rect x="359.00" y="119.60" width="2.8" height="2.8" fill="none" stroke="#2a5af0" stroke-width="0.7"/>
<rect x="361.60" y="119.20" width="2.8" height="2.8" fill="none" stroke="#2a5af0" stroke-width="0.7"/>
<rect x="355.80" y="109.10" width="2.8" height="2.8" fill="none" stroke="#2a5af0" stroke-width="0.7"/>
<rect x="353.60" y="114.10" width="2.8" height="2.8" fill="none" stroke="#2a5af0" stroke-width="0.7"/>
<line x1="357.30" y1="108.20" x2="357.30" y2="121.00" stroke="#2a5af0" stroke-width="0.9"/>
<line x1="353.40" y1="108.20" x2="360.60" y2="108.20" stroke="#2a5af0" stroke-width="0.9"/>
<line x1="350.20" y1="115.50" x2="364.00" y2="115.50" stroke="#2a5af0" stroke-width="0.9"/>
<circle cx="404.20" cy="41.30" r="1.5" fill="none" stroke="#f0402a" stroke-width="0.7"/>
<circle cx="404.20" cy="61.30" r="1.5" fill="none" stroke="#f0402a" stroke-width="0.7"/>
<circle cx="400.50" cy="99.00" r="1.5" fill="#f0402a"/>
<circle cx="408.00" cy="99.00" r="1.5" fill="#f0402a"/>
<circle cx="404.20" cy="107.00" r="1.5" fill="#f0402a"/>
<circle cx="400.50" cy="114.00" r="1.5" fill="#f0402a"/>
<circle cx="408.00" cy="114.00" r="1.5" fill="#f0402a"/>
<circle cx="404.20" cy="114.00" r="1.5" fill="#f0402a"/>
<rect x="401.10" y="116.10" width="2.8" height="2.8" fill="none" stroke="#f0402a" stroke-width="0.7"/>
<rect x="404.60" y="116.10" width="2.8" height="2.8" fill="none" stroke="#f0402a" stroke-width="0.7"/>
<circle cx="404.20" cy="121.00" r="1.5" fill="#f0402a"/>
<line x1="404.20" y1="99.00" x2="404.20" y2="121.00" stroke="#f0402a" stroke-width="0.9"/>
<line x1="399.20" y1="99.00" x2="409.40" y2="99.00" stroke="#f0402a" stroke-width="0.9"/>
<line x1="397.70" y1="114.00" x2="411.00" y2="114.00" stroke="#f0402a" stroke-width="0.9"/>
<rect x="424.70" y="110.00" width="2.8" height="2.8" fill="none" stroke="#2a5af0" stroke-width="0.7"/>
<rect x="422.10" y="112.40" width="2.8" height="2.8" fill="none" stroke="#2a5af0" stroke-width="0.7"/>
<rect x="427.30" y="112.40" width="2.8" height="2.8" fill="none" stroke="#2a5af0" stroke-width="0.7"/>
<rect x="424.70" y="114.80" width="2.8" height="2.8" fill="none" stroke="#2a5af0" stroke-width="0.7"/>
<rect x="420.60" y="117.10" width="2.8" height="2.8" fill="none" stroke="#2a5af0" stroke-width="0.7"/>
<rect x="428.60" y="117.10" width="2.8" height="2.8" fill="none" stroke="#2a5af0" stroke-width="0.7"/>
<rect x="418.60" y="119.60" width="2.8" height="2.8" fill="none" stroke="#2a5af0" stroke-width="0.7"/>
<rect x="421.90" y="119.60" width="2.8" height="2.8" fill="none" stroke="#2a5af0" stroke-width="0.7"/>
<rect x="424.70" y="119.60" width="2.8" height="2.8" fill="none" stroke="#2a5af0" stroke-width="0.7"/>
<rect x="427.60" y="119.60" width="2.8" height="2.8" fill="none" stroke="#2a5af0" stroke-width="0.7"/>
<rect x="430.60" y="119.60" width="2.8" height="2.8" fill="none" stroke="#2a5af0" stroke-width="0.7"/>
<rect x="424.70" y="117.10" width="2.8" height="2.8" fill="none" stroke="#2a5af0" stroke-width="0.7"/>
<line x1="426.10" y1="111.40" x2="426.10" y2="121.00" stroke="#2a5af0" stroke-width="0.9"/>
<line x1="422.50" y1="111.60" x2="429.70" y2="111.60" stroke="#2a5af0" stroke-width="0.9"/>
<line x1="419.50" y1="116.40" x2="432.70" y2="116.40" stroke="#2a5af0" stroke-width="0.9"/>
<text x="444.40" y="10.50" font-size="13.5" font-weight="bold">c</text>
<text x="461.20" y="10.90" font-size="9.1">Cluster 1</text>
<rect x="489.30" y="21.10" width="15.16" height="14.70" fill="#5eb0dc"/>
<rect x="489.30" y="35.80" width="15.16" height="15.10" fill="#5eb0dc"/>
<rect x="504.16" y="21.10" width="15.16" height="14.70" fill="#0b8bfa"/>
<rect x="504.16" y="35.80" width="15.16" height="15.10" fill="#0b8bfa"/>
<rect x="519.02" y="21.10" width="15.16" height="14.70" fill="#0b8bfa"/>
<rect x="519.02" y="35.80" width="15.16" height="15.10" fill="#0b8bfa"/>
<rect x="533.88" y="21.10" width="15.16" height="14.70" fill="#0b8bfa"/>
<rect x="533.88" y="35.80" width="15.16" height="15.10" fill="#0b8bfa"/>
<rect x="548.74" y="21.10" width="15.16" height="14.70" fill="#ffdf6f"/>
<rect x="548.74" y="35.80" width="15.16" height="15.10" fill="#fccb78"/>
<rect x="563.60" y="21.10" width="15.16" height="14.70" fill="#fa7a6b"/>
<rect x="563.60" y="35.80" width="15.16" height="15.10" fill="#fb7470"/>
<rect x="578.46" y="21.10" width="15.16" height="14.70" fill="#0b8bfa"/>
<rect x="578.46" y="35.80" width="15.16" height="15.10" fill="#0b8bfa"/>
<rect x="593.32" y="21.10" width="15.16" height="14.70" fill="#0b8bfa"/>
<rect x="593.32" y="35.80" width="15.16" height="15.10" fill="#0b8bfa"/>
<rect x="608.18" y="21.10" width="15.16" height="14.70" fill="#5aaee0"/>
<rect x="608.18" y="35.80" width="15.16" height="15.10" fill="#8cc6c0"/>
<rect x="623.04" y="21.10" width="15.16" height="14.70" fill="#5eb0dc"/>
<rect x="623.04" y="35.80" width="15.16" height="15.10" fill="#5aaede"/>
<rect x="489.30" y="21.10" width="148.60" height="29.80" fill="none" stroke="#444" stroke-width="0.8"/>
<line x1="484.80" y1="28.40" x2="489.30" y2="28.40" stroke="#333" stroke-width="0.9"/>
<line x1="484.80" y1="43.40" x2="489.30" y2="43.40" stroke="#333" stroke-width="0.9"/>
<text x="483.20" y="31.20" font-size="8" text-anchor="end" fill="#222">Uninfected</text>
<text x="483.20" y="46.30" font-size="8" text-anchor="end" fill="#222">Infected</text>
<text x="499.73" y="56.60" font-size="8" text-anchor="end" fill="#222" transform="rotate(-45 499.73 56.60)">FCεR1γ</text>
<text x="514.59" y="56.60" font-size="8" text-anchor="end" fill="#222" transform="rotate(-45 514.59 56.60)">CD25</text>
<text x="529.45" y="56.60" font-size="8" text-anchor="end" fill="#222" transform="rotate(-45 529.45 56.60)">NKG2A</text>
<text x="544.31" y="56.60" font-size="8" text-anchor="end" fill="#222" transform="rotate(-45 544.31 56.60)">HLA-DR</text>
<text x="559.17" y="56.60" font-size="8" text-anchor="end" fill="#222" transform="rotate(-45 559.17 56.60)">CD57</text>
<text x="574.03" y="56.60" font-size="8" text-anchor="end" fill="#222" transform="rotate(-45 574.03 56.60)">CD16</text>
<text x="588.89" y="56.60" font-size="8" text-anchor="end" fill="#222" transform="rotate(-45 588.89 56.60)">CD69</text>
<text x="603.75" y="56.60" font-size="8" text-anchor="end" fill="#222" transform="rotate(-45 603.75 56.60)">Ki67</text>
<text x="618.61" y="56.60" font-size="8" text-anchor="end" fill="#222" transform="rotate(-45 618.61 56.60)">NKG2C</text>
<text x="633.47" y="56.60" font-size="8" text-anchor="end" fill="#222" transform="rotate(-45 633.47 56.60)">CD56</text>
<text x="646.90" y="17.40" font-size="7.3" fill="#222">MFI</text>
<rect x="646.30" y="20.80" width="14.30" height="29.90" fill="url(#gMFI)" stroke="#333" stroke-width="0.8"/>
<line x1="646.30" y1="28.30" x2="648.30" y2="28.30" stroke="#333" stroke-width="0.8"/>
<line x1="658.60" y1="28.30" x2="660.60" y2="28.30" stroke="#333" stroke-width="0.8"/>
<line x1="646.30" y1="39.30" x2="648.30" y2="39.30" stroke="#333" stroke-width="0.8"/>
<line x1="658.60" y1="39.30" x2="660.60" y2="39.30" stroke="#333" stroke-width="0.8"/>
<text x="665.80" y="30.20" font-size="6.2" fill="#222">20000</text>
<text x="665.80" y="41.20" font-size="6.2" fill="#222">10000</text>
<rect x="480.80" y="84.90" width="60.20" height="59.30" fill="none" stroke="#bbb" stroke-width="0.7"/>
<line x1="480.80" y1="84.90" x2="480.80" y2="144.40" stroke="#111" stroke-width="0.8"/>
<line x1="479.20" y1="144.20" x2="480.80" y2="144.20" stroke="#222" stroke-width="0.5"/>
<text x="478.20" y="145.10" font-size="2.6" text-anchor="end" fill="#555">0</text>
<line x1="479.90" y1="138.27" x2="480.80" y2="138.27" stroke="#222" stroke-width="0.5"/>
<line x1="479.20" y1="132.34" x2="480.80" y2="132.34" stroke="#222" stroke-width="0.5"/>
<text x="478.20" y="133.24" font-size="2.6" text-anchor="end" fill="#555">20</text>
<line x1="479.90" y1="126.41" x2="480.80" y2="126.41" stroke="#222" stroke-width="0.5"/>
<line x1="479.20" y1="120.48" x2="480.80" y2="120.48" stroke="#222" stroke-width="0.5"/>
<text x="478.20" y="121.38" font-size="2.6" text-anchor="end" fill="#555">40</text>
<line x1="479.90" y1="114.55" x2="480.80" y2="114.55" stroke="#222" stroke-width="0.5"/>
<line x1="479.20" y1="108.62" x2="480.80" y2="108.62" stroke="#222" stroke-width="0.5"/>
<text x="478.20" y="109.52" font-size="2.6" text-anchor="end" fill="#555">60</text>
<line x1="479.90" y1="102.69" x2="480.80" y2="102.69" stroke="#222" stroke-width="0.5"/>
<line x1="479.20" y1="96.76" x2="480.80" y2="96.76" stroke="#222" stroke-width="0.5"/>
<text x="478.20" y="97.66" font-size="2.6" text-anchor="end" fill="#555">80</text>
<line x1="479.90" y1="90.83" x2="480.80" y2="90.83" stroke="#222" stroke-width="0.5"/>
<line x1="479.20" y1="84.90" x2="480.80" y2="84.90" stroke="#222" stroke-width="0.5"/>
<text x="478.20" y="85.80" font-size="2.6" text-anchor="end" fill="#555">100</text>
<line x1="484.80" y1="144.20" x2="484.80" y2="145.60" stroke="#222" stroke-width="0.5"/>
<line x1="489.10" y1="144.20" x2="489.10" y2="145.00" stroke="#222" stroke-width="0.5"/>
<line x1="493.40" y1="144.20" x2="493.40" y2="145.00" stroke="#222" stroke-width="0.5"/>
<line x1="497.70" y1="144.20" x2="497.70" y2="145.60" stroke="#222" stroke-width="0.5"/>
<line x1="502.00" y1="144.20" x2="502.00" y2="145.00" stroke="#222" stroke-width="0.5"/>
<line x1="506.30" y1="144.20" x2="506.30" y2="145.00" stroke="#222" stroke-width="0.5"/>
<line x1="510.60" y1="144.20" x2="510.60" y2="145.60" stroke="#222" stroke-width="0.5"/>
<line x1="514.90" y1="144.20" x2="514.90" y2="145.00" stroke="#222" stroke-width="0.5"/>
<line x1="519.20" y1="144.20" x2="519.20" y2="145.00" stroke="#222" stroke-width="0.5"/>
<line x1="523.50" y1="144.20" x2="523.50" y2="145.60" stroke="#222" stroke-width="0.5"/>
<line x1="527.80" y1="144.20" x2="527.80" y2="145.00" stroke="#222" stroke-width="0.5"/>
<line x1="532.10" y1="144.20" x2="532.10" y2="145.00" stroke="#222" stroke-width="0.5"/>
<line x1="536.40" y1="144.20" x2="536.40" y2="145.60" stroke="#222" stroke-width="0.5"/>
<line x1="540.70" y1="144.20" x2="540.70" y2="145.00" stroke="#222" stroke-width="0.5"/>
<text x="485.80" y="150.00" font-size="2.8" text-anchor="middle" fill="#555" transform="rotate(-45 485.80 150.00)">-10³</text>
<text x="496.80" y="150.00" font-size="2.8" text-anchor="middle" fill="#555" transform="rotate(-45 496.80 150.00)">0</text>
<text x="506.80" y="150.00" font-size="2.8" text-anchor="middle" fill="#555" transform="rotate(-45 506.80 150.00)">10³</text>
<text x="523.80" y="150.00" font-size="2.8" text-anchor="middle" fill="#555" transform="rotate(-45 523.80 150.00)">10⁴</text>
<text x="535.80" y="150.00" font-size="2.8" text-anchor="middle" fill="#555" transform="rotate(-45 535.80 150.00)">10⁵</text>
<path d="M480.8,144.2 L504.7,144.2 L507.3,136.1 L509.4,134.3 L511.7,132.6 L513.5,130.5 L514.6,132.6 L516.4,134.3 L518.1,134.3 L519.9,136.1 L521.6,134.3 L523.4,132.0 L526.3,117.4 L528.6,126.7 L531.6,143.7 L532.5,144.2" fill="none" stroke="#f01818" stroke-width="0.9" stroke-linejoin="round"/>
<path d="M480.8,144.2 L504.7,144.2 L508.2,140.7 L512.3,138.0 L515.2,139.6 L519.9,141.9 L523.4,143.7 L525.1,144.2 L540.9,144.2" fill="none" stroke="#2020f0" stroke-width="0.9" stroke-linejoin="round"/>
<line x1="480.80" y1="144.30" x2="541.00" y2="144.30" stroke="#10106a" stroke-width="0.9"/>
<text x="497.10" y="158.10" font-size="8.6" fill="#222">NKG2C</text>
<rect x="552.80" y="84.90" width="60.20" height="59.30" fill="none" stroke="#bbb" stroke-width="0.7"/>
<line x1="552.80" y1="84.90" x2="552.80" y2="144.40" stroke="#111" stroke-width="0.8"/>
<line x1="551.20" y1="144.20" x2="552.80" y2="144.20" stroke="#222" stroke-width="0.5"/>
<text x="550.20" y="145.10" font-size="2.6" text-anchor="end" fill="#555">0</text>
<line x1="551.90" y1="138.27" x2="552.80" y2="138.27" stroke="#222" stroke-width="0.5"/>
<line x1="551.20" y1="132.34" x2="552.80" y2="132.34" stroke="#222" stroke-width="0.5"/>
<text x="550.20" y="133.24" font-size="2.6" text-anchor="end" fill="#555">20</text>
<line x1="551.90" y1="126.41" x2="552.80" y2="126.41" stroke="#222" stroke-width="0.5"/>
<line x1="551.20" y1="120.48" x2="552.80" y2="120.48" stroke="#222" stroke-width="0.5"/>
<text x="550.20" y="121.38" font-size="2.6" text-anchor="end" fill="#555">40</text>
<line x1="551.90" y1="114.55" x2="552.80" y2="114.55" stroke="#222" stroke-width="0.5"/>
<line x1="551.20" y1="108.62" x2="552.80" y2="108.62" stroke="#222" stroke-width="0.5"/>
<text x="550.20" y="109.52" font-size="2.6" text-anchor="end" fill="#555">60</text>
<line x1="551.90" y1="102.69" x2="552.80" y2="102.69" stroke="#222" stroke-width="0.5"/>
<line x1="551.20" y1="96.76" x2="552.80" y2="96.76" stroke="#222" stroke-width="0.5"/>
<text x="550.20" y="97.66" font-size="2.6" text-anchor="end" fill="#555">80</text>
<line x1="551.90" y1="90.83" x2="552.80" y2="90.83" stroke="#222" stroke-width="0.5"/>
<line x1="551.20" y1="84.90" x2="552.80" y2="84.90" stroke="#222" stroke-width="0.5"/>
<text x="550.20" y="85.80" font-size="2.6" text-anchor="end" fill="#555">100</text>
<line x1="556.80" y1="144.20" x2="556.80" y2="145.60" stroke="#222" stroke-width="0.5"/>
<line x1="561.10" y1="144.20" x2="561.10" y2="145.00" stroke="#222" stroke-width="0.5"/>
<line x1="565.40" y1="144.20" x2="565.40" y2="145.00" stroke="#222" stroke-width="0.5"/>
<line x1="569.70" y1="144.20" x2="569.70" y2="145.60" stroke="#222" stroke-width="0.5"/>
<line x1="574.00" y1="144.20" x2="574.00" y2="145.00" stroke="#222" stroke-width="0.5"/>
<line x1="578.30" y1="144.20" x2="578.30" y2="145.00" stroke="#222" stroke-width="0.5"/>
<line x1="582.60" y1="144.20" x2="582.60" y2="145.60" stroke="#222" stroke-width="0.5"/>
<line x1="586.90" y1="144.20" x2="586.90" y2="145.00" stroke="#222" stroke-width="0.5"/>
<line x1="591.20" y1="144.20" x2="591.20" y2="145.00" stroke="#222" stroke-width="0.5"/>
<line x1="595.50" y1="144.20" x2="595.50" y2="145.60" stroke="#222" stroke-width="0.5"/>
<line x1="599.80" y1="144.20" x2="599.80" y2="145.00" stroke="#222" stroke-width="0.5"/>
<line x1="604.10" y1="144.20" x2="604.10" y2="145.00" stroke="#222" stroke-width="0.5"/>
<line x1="608.40" y1="144.20" x2="608.40" y2="145.60" stroke="#222" stroke-width="0.5"/>
<line x1="612.70" y1="144.20" x2="612.70" y2="145.00" stroke="#222" stroke-width="0.5"/>
<text x="557.80" y="150.00" font-size="2.8" text-anchor="middle" fill="#555" transform="rotate(-45 557.80 150.00)">-10³</text>
<text x="568.80" y="150.00" font-size="2.8" text-anchor="middle" fill="#555" transform="rotate(-45 568.80 150.00)">0</text>
<text x="578.80" y="150.00" font-size="2.8" text-anchor="middle" fill="#555" transform="rotate(-45 578.80 150.00)">10³</text>
<text x="595.80" y="150.00" font-size="2.8" text-anchor="middle" fill="#555" transform="rotate(-45 595.80 150.00)">10⁴</text>
<text x="607.80" y="150.00" font-size="2.8" text-anchor="middle" fill="#555" transform="rotate(-45 607.80 150.00)">10⁵</text>
<path d="M552.8,144.2 L568.3,144.2 L570.0,134.0 L571.2,127.3 L572.5,131.0 L574.6,135.7 L576.2,134.2 L578.0,135.0 L580.0,132.0 L583.0,129.2 L584.9,126.4 L586.3,127.2 L588.3,122.3 L590.0,130.0 L592.0,138.0 L594.0,144.2" fill="none" stroke="#f01818" stroke-width="0.9" stroke-linejoin="round"/>
<path d="M552.8,144.2 L567.8,144.2 L572.0,143.0 L576.0,142.2 L580.0,141.4 L584.0,140.4 L587.9,139.0 L590.0,140.0 L593.0,144.2 L613.0,144.2" fill="none" stroke="#2020f0" stroke-width="0.9" stroke-linejoin="round"/>
<line x1="552.80" y1="144.30" x2="613.00" y2="144.30" stroke="#10106a" stroke-width="0.9"/>
<text x="567.50" y="158.10" font-size="8.6" fill="#222">FCεR1γ</text>
<text x="473.20" y="114.00" font-size="6.6" text-anchor="middle" fill="#222" transform="rotate(-90 473.20 114.00)">Count</text>
<line x1="617.60" y1="95.00" x2="633.90" y2="95.00" stroke="#f01818" stroke-width="1"/>
<line x1="617.60" y1="105.70" x2="633.90" y2="105.70" stroke="#2020f0" stroke-width="1"/>
<text x="639.40" y="98.10" font-size="8.6" fill="#222">Infected</text>
<text x="639.40" y="108.80" font-size="8.6" fill="#222">Uninfected</text>
<text x="1.00" y="188.90" font-size="13.5" font-weight="bold">d</text>
<text x="69.80" y="200.40" font-size="10.6">Infected</text>
<g filter="url(#spD)"><g transform="translate(47.20,295.20) scale(0.4900,-0.5170)" fill="#b6b6b6">
<path d="M65.5,139.6C65.5,141.9 68.1,145.5 70.7,148.4C73.3,151.3 76.8,155.2 81.1,157.1C85.4,159.0 91.9,160.2 96.7,159.6C101.5,159.0 107.2,156.1 109.8,153.4C112.4,150.7 113.7,146.2 112.4,143.3C111.1,140.4 106.8,137.1 102.0,135.8C97.2,134.6 88.9,136.0 83.7,135.8C78.5,135.6 73.7,134.0 70.7,134.6C67.7,135.2 65.5,137.3 65.5,139.6Z"/>
<path d="M112.0,141.0C112.3,142.4 112.3,144.2 115.0,144.6C117.7,145.0 124.1,144.6 128.0,143.3C131.9,142.1 137.3,139.0 138.4,137.1C139.5,135.2 137.5,132.7 134.5,132.1C131.5,131.5 123.8,132.7 120.2,133.3C116.6,134.0 114.4,134.7 113.0,136.0C111.6,137.3 111.7,139.6 112.0,141.0Z"/>
<path d="M75.9,128.3C76.8,129.0 88.7,127.9 91.5,128.3C94.3,128.7 106.3,132.8 109.8,133.3C113.3,133.8 130.4,134.8 133.2,134.6C136.0,134.4 142.6,132.6 143.7,130.8C144.8,129.0 146.3,116.4 146.3,113.3C146.3,110.2 143.7,95.9 143.7,93.2C143.7,90.5 146.7,82.4 146.3,80.7C145.9,79.0 140.8,74.0 138.4,73.1C136.0,72.2 120.4,69.8 117.6,69.4C114.8,69.0 106.0,68.3 104.5,68.1C103.0,67.9 100.2,66.1 99.4,66.9C98.6,67.7 96.1,76.0 95.4,78.2C94.7,80.4 92.0,90.7 91.5,93.2C91.0,95.7 89.8,106.0 88.9,108.2C88.0,110.4 82.2,117.8 81.1,119.5C80.0,121.2 75.0,127.6 75.9,128.3Z"/>
<path d="M148.9,113.3C151.1,113.7 156.5,109.0 159.3,105.7C162.1,102.4 165.4,97.4 165.8,93.2C166.2,89.0 164.3,83.2 161.9,80.7C159.5,78.2 154.3,77.0 151.5,78.2C148.7,79.5 145.9,84.0 145.0,88.2C144.1,92.4 145.7,99.0 146.3,103.2C147.0,107.4 146.7,112.9 148.9,113.3Z"/>
<path d="M26.4,123.3C27.6,124.6 33.5,126.5 35.0,127.0C36.5,127.5 42.5,129.2 44.6,129.5C46.7,129.8 58.0,131.1 60.2,130.8C62.4,130.5 69.0,126.7 70.7,125.8C72.4,124.9 79.6,121.0 81.1,119.5C82.6,118.0 88.0,110.4 88.9,108.2C89.8,106.0 91.0,95.7 91.5,93.2C92.0,90.7 94.7,80.4 95.4,78.2C96.1,76.0 100.2,68.6 99.4,66.9C98.6,65.2 88.7,59.9 86.3,58.1C83.9,56.3 72.9,47.5 70.7,45.6C68.5,43.7 62.2,36.1 60.2,35.5C58.2,34.9 49.4,37.3 47.2,38.1C45.0,38.9 36.0,43.9 34.2,45.6C32.4,47.3 26.1,56.2 25.1,58.1C24.1,60.0 22.8,66.0 22.4,68.1C22.0,70.2 20.1,80.7 19.8,83.2C19.5,85.7 18.4,95.9 18.5,98.2C18.6,100.5 20.4,108.7 21.1,110.8C21.8,112.9 25.2,122.0 26.4,123.3Z"/>
<path d="M60.2,35.5C60.6,37.0 68.5,43.7 70.7,45.6C72.9,47.5 83.9,56.3 86.3,58.1C88.7,59.9 98.1,66.3 99.4,66.9C100.7,67.5 101.3,66.3 102.0,65.6C102.7,64.9 106.1,59.8 107.2,58.1C108.3,56.4 113.9,47.7 115.0,45.6C116.1,43.5 119.8,34.9 120.2,33.0C120.6,31.1 121.1,24.7 120.2,23.0C119.3,21.3 111.5,14.2 109.8,13.0C108.1,11.8 101.4,9.2 99.4,9.2C97.4,9.2 88.5,12.1 86.3,13.0C84.1,13.9 75.0,19.2 73.3,20.5C71.6,21.8 66.6,26.8 65.5,28.0C64.4,29.2 59.8,34.0 60.2,35.5Z"/>
<path d="M4.2,90.7C5.9,93.6 8.5,93.6 10.7,93.2C12.9,92.8 15.9,91.1 17.2,88.2C18.5,85.3 18.9,79.6 18.5,75.6C18.1,71.6 16.6,65.7 14.6,64.4C12.7,63.2 9.2,66.2 6.8,68.1C4.4,70.0 0.7,71.8 0.3,75.6C-0.1,79.4 2.5,87.8 4.2,90.7Z"/>
<path d="M127.2,58.1a10.0,7.2 0 1,0 20.0,0a10.0,7.2 0 1,0 -20.0,0Z"/>
<path d="M144.8,55.6a8.0,6.0 0 1,0 16.0,0a8.0,6.0 0 1,0 -16.0,0Z"/>
<path d="M127.0,41.8a7.5,5.0 0 1,0 15.0,0a7.5,5.0 0 1,0 -15.0,0Z"/>
<path d="M128.3,25.5a7.0,7.5 0 1,0 14.0,0a7.0,7.5 0 1,0 -14.0,0Z"/>
<path d="M116.5,55.0a3.5,8.0 0 1,0 7.0,0a3.5,8.0 0 1,0 -7.0,0ZM75.6,5.5a6.0,3.0 0 1,0 12.0,0a6.0,3.0 0 1,0 -12.0,0Z"/>
<path d="M32.9,24.3a13.0,7.5 0 1,0 26.0,0a13.0,7.5 0 1,0 -26.0,0Z"/>
<path d="M64.9,9.2a4.5,4.5 0 1,0 9.0,0a4.5,4.5 0 1,0 -9.0,0Z"/>
</g></g>
<g filter="url(#spD2)"><g transform="translate(47.20,295.20) scale(0.4900,-0.5170)" fill="#a8a8a8">
<path d="M65.5,139.6C65.5,141.9 68.1,145.5 70.7,148.4C73.3,151.3 76.8,155.2 81.1,157.1C85.4,159.0 91.9,160.2 96.7,159.6C101.5,159.0 107.2,156.1 109.8,153.4C112.4,150.7 113.7,146.2 112.4,143.3C111.1,140.4 106.8,137.1 102.0,135.8C97.2,134.6 88.9,136.0 83.7,135.8C78.5,135.6 73.7,134.0 70.7,134.6C67.7,135.2 65.5,137.3 65.5,139.6Z"/>
<path d="M112.0,141.0C112.3,142.4 112.3,144.2 115.0,144.6C117.7,145.0 124.1,144.6 128.0,143.3C131.9,142.1 137.3,139.0 138.4,137.1C139.5,135.2 137.5,132.7 134.5,132.1C131.5,131.5 123.8,132.7 120.2,133.3C116.6,134.0 114.4,134.7 113.0,136.0C111.6,137.3 111.7,139.6 112.0,141.0Z"/>
<path d="M75.9,128.3C76.8,129.0 88.7,127.9 91.5,128.3C94.3,128.7 106.3,132.8 109.8,133.3C113.3,133.8 130.4,134.8 133.2,134.6C136.0,134.4 142.6,132.6 143.7,130.8C144.8,129.0 146.3,116.4 146.3,113.3C146.3,110.2 143.7,95.9 143.7,93.2C143.7,90.5 146.7,82.4 146.3,80.7C145.9,79.0 140.8,74.0 138.4,73.1C136.0,72.2 120.4,69.8 117.6,69.4C114.8,69.0 106.0,68.3 104.5,68.1C103.0,67.9 100.2,66.1 99.4,66.9C98.6,67.7 96.1,76.0 95.4,78.2C94.7,80.4 92.0,90.7 91.5,93.2C91.0,95.7 89.8,106.0 88.9,108.2C88.0,110.4 82.2,117.8 81.1,119.5C80.0,121.2 75.0,127.6 75.9,128.3Z"/>
<path d="M148.9,113.3C151.1,113.7 156.5,109.0 159.3,105.7C162.1,102.4 165.4,97.4 165.8,93.2C166.2,89.0 164.3,83.2 161.9,80.7C159.5,78.2 154.3,77.0 151.5,78.2C148.7,79.5 145.9,84.0 145.0,88.2C144.1,92.4 145.7,99.0 146.3,103.2C147.0,107.4 146.7,112.9 148.9,113.3Z"/>
<path d="M26.4,123.3C27.6,124.6 33.5,126.5 35.0,127.0C36.5,127.5 42.5,129.2 44.6,129.5C46.7,129.8 58.0,131.1 60.2,130.8C62.4,130.5 69.0,126.7 70.7,125.8C72.4,124.9 79.6,121.0 81.1,119.5C82.6,118.0 88.0,110.4 88.9,108.2C89.8,106.0 91.0,95.7 91.5,93.2C92.0,90.7 94.7,80.4 95.4,78.2C96.1,76.0 100.2,68.6 99.4,66.9C98.6,65.2 88.7,59.9 86.3,58.1C83.9,56.3 72.9,47.5 70.7,45.6C68.5,43.7 62.2,36.1 60.2,35.5C58.2,34.9 49.4,37.3 47.2,38.1C45.0,38.9 36.0,43.9 34.2,45.6C32.4,47.3 26.1,56.2 25.1,58.1C24.1,60.0 22.8,66.0 22.4,68.1C22.0,70.2 20.1,80.7 19.8,83.2C19.5,85.7 18.4,95.9 18.5,98.2C18.6,100.5 20.4,108.7 21.1,110.8C21.8,112.9 25.2,122.0 26.4,123.3Z"/>
<path d="M60.2,35.5C60.6,37.0 68.5,43.7 70.7,45.6C72.9,47.5 83.9,56.3 86.3,58.1C88.7,59.9 98.1,66.3 99.4,66.9C100.7,67.5 101.3,66.3 102.0,65.6C102.7,64.9 106.1,59.8 107.2,58.1C108.3,56.4 113.9,47.7 115.0,45.6C116.1,43.5 119.8,34.9 120.2,33.0C120.6,31.1 121.1,24.7 120.2,23.0C119.3,21.3 111.5,14.2 109.8,13.0C108.1,11.8 101.4,9.2 99.4,9.2C97.4,9.2 88.5,12.1 86.3,13.0C84.1,13.9 75.0,19.2 73.3,20.5C71.6,21.8 66.6,26.8 65.5,28.0C64.4,29.2 59.8,34.0 60.2,35.5Z"/>
<path d="M4.2,90.7C5.9,93.6 8.5,93.6 10.7,93.2C12.9,92.8 15.9,91.1 17.2,88.2C18.5,85.3 18.9,79.6 18.5,75.6C18.1,71.6 16.6,65.7 14.6,64.4C12.7,63.2 9.2,66.2 6.8,68.1C4.4,70.0 0.7,71.8 0.3,75.6C-0.1,79.4 2.5,87.8 4.2,90.7Z"/>
<path d="M127.2,58.1a10.0,7.2 0 1,0 20.0,0a10.0,7.2 0 1,0 -20.0,0Z"/>
<path d="M144.8,55.6a8.0,6.0 0 1,0 16.0,0a8.0,6.0 0 1,0 -16.0,0Z"/>
<path d="M127.0,41.8a7.5,5.0 0 1,0 15.0,0a7.5,5.0 0 1,0 -15.0,0Z"/>
<path d="M128.3,25.5a7.0,7.5 0 1,0 14.0,0a7.0,7.5 0 1,0 -14.0,0Z"/>
<path d="M116.5,55.0a3.5,8.0 0 1,0 7.0,0a3.5,8.0 0 1,0 -7.0,0ZM75.6,5.5a6.0,3.0 0 1,0 12.0,0a6.0,3.0 0 1,0 -12.0,0Z"/>
<path d="M32.9,24.3a13.0,7.5 0 1,0 26.0,0a13.0,7.5 0 1,0 -26.0,0Z"/>
<path d="M64.9,9.2a4.5,4.5 0 1,0 9.0,0a4.5,4.5 0 1,0 -9.0,0Z"/>
</g></g>
<g filter="url(#spK)"><g transform="translate(47.20,295.20) scale(0.4900,-0.5170)"><path d="M-1.0,76.0a9.0,13.0 0 1,0 18.0,0a9.0,13.0 0 1,0 -18.0,0Z" fill="#000"/></g></g>
<g transform="translate(47.20,295.20) scale(0.4900,-0.5170)">
<path d="M1.0,88.0a3.0,2.5 0 1,0 6.0,0a3.0,2.5 0 1,0 -6.0,0Z" fill="#3cc83c"/>
<path d="M66.5,8.0a2.5,3.5 0 1,0 5.0,0a2.5,3.5 0 1,0 -5.0,0Z" fill="#111"/>
<path d="M69.4,13.0a1.6,1.6 0 1,0 3.2,0a1.6,1.6 0 1,0 -3.2,0Z" fill="#3cc83c"/>
<path d="M76.0,120.0a2.0,1.4 0 1,0 4.0,0a2.0,1.4 0 1,0 -4.0,0Z" fill="#3cc83c"/>
<path d="M80.8,121.0a1.2,1.2 0 1,0 2.4,0a1.2,1.2 0 1,0 -2.4,0Z" fill="#111"/>
<path d="M38.8,22.0a1.2,1.2 0 1,0 2.4,0a1.2,1.2 0 1,0 -2.4,0Z" fill="#2a6a2a"/>
</g>
<path d="M37.5,205.5 H138.5 V306.5 H37.5 Z" fill="none" stroke="#666" stroke-width="1"/>
<line x1="35.90" y1="300.37" x2="37.50" y2="300.37" stroke="#111" stroke-width="0.6"/>
<line x1="34.50" y1="295.20" x2="37.50" y2="295.20" stroke="#111" stroke-width="1"/>
<text x="31.50" y="296.50" font-size="3.6" text-anchor="end" fill="#555">0</text>
<line x1="35.90" y1="290.03" x2="37.50" y2="290.03" stroke="#111" stroke-width="0.6"/>
<line x1="35.90" y1="284.86" x2="37.50" y2="284.86" stroke="#111" stroke-width="0.6"/>
<line x1="35.90" y1="279.69" x2="37.50" y2="279.69" stroke="#111" stroke-width="0.6"/>
<line x1="35.90" y1="274.52" x2="37.50" y2="274.52" stroke="#111" stroke-width="0.6"/>
<line x1="34.50" y1="269.35" x2="37.50" y2="269.35" stroke="#111" stroke-width="1"/>
<text x="31.50" y="270.65" font-size="3.6" text-anchor="end" fill="#555">50</text>
<line x1="35.90" y1="264.18" x2="37.50" y2="264.18" stroke="#111" stroke-width="0.6"/>
<line x1="35.90" y1="259.01" x2="37.50" y2="259.01" stroke="#111" stroke-width="0.6"/>
<line x1="35.90" y1="253.84" x2="37.50" y2="253.84" stroke="#111" stroke-width="0.6"/>
<line x1="35.90" y1="248.67" x2="37.50" y2="248.67" stroke="#111" stroke-width="0.6"/>
<line x1="34.50" y1="243.50" x2="37.50" y2="243.50" stroke="#111" stroke-width="1"/>
<text x="31.50" y="244.80" font-size="3.6" text-anchor="end" fill="#555">100</text>
<line x1="35.90" y1="238.33" x2="37.50" y2="238.33" stroke="#111" stroke-width="0.6"/>
<line x1="35.90" y1="233.16" x2="37.50" y2="233.16" stroke="#111" stroke-width="0.6"/>
<line x1="35.90" y1="227.99" x2="37.50" y2="227.99" stroke="#111" stroke-width="0.6"/>
<line x1="35.90" y1="222.82" x2="37.50" y2="222.82" stroke="#111" stroke-width="0.6"/>
<line x1="34.50" y1="217.65" x2="37.50" y2="217.65" stroke="#111" stroke-width="1"/>
<text x="31.50" y="218.95" font-size="3.6" text-anchor="end" fill="#555">150</text>
<line x1="35.90" y1="212.48" x2="37.50" y2="212.48" stroke="#111" stroke-width="0.6"/>
<line x1="35.90" y1="207.31" x2="37.50" y2="207.31" stroke="#111" stroke-width="0.6"/>
<line x1="42.30" y1="306.50" x2="42.30" y2="308.10" stroke="#111" stroke-width="0.6"/>
<line x1="47.20" y1="306.50" x2="47.20" y2="309.50" stroke="#111" stroke-width="1"/>
<text x="47.20" y="313.10" font-size="3.6" text-anchor="middle" fill="#555">0</text>
<line x1="52.10" y1="306.50" x2="52.10" y2="308.10" stroke="#111" stroke-width="0.6"/>
<line x1="57.00" y1="306.50" x2="57.00" y2="308.10" stroke="#111" stroke-width="0.6"/>
<line x1="61.90" y1="306.50" x2="61.90" y2="308.10" stroke="#111" stroke-width="0.6"/>
<line x1="66.80" y1="306.50" x2="66.80" y2="308.10" stroke="#111" stroke-width="0.6"/>
<line x1="71.70" y1="306.50" x2="71.70" y2="309.50" stroke="#111" stroke-width="1"/>
<text x="71.70" y="313.10" font-size="3.6" text-anchor="middle" fill="#555">50</text>
<line x1="76.60" y1="306.50" x2="76.60" y2="308.10" stroke="#111" stroke-width="0.6"/>
<line x1="81.50" y1="306.50" x2="81.50" y2="308.10" stroke="#111" stroke-width="0.6"/>
<line x1="86.40" y1="306.50" x2="86.40" y2="308.10" stroke="#111" stroke-width="0.6"/>
<line x1="91.30" y1="306.50" x2="91.30" y2="308.10" stroke="#111" stroke-width="0.6"/>
<line x1="96.20" y1="306.50" x2="96.20" y2="309.50" stroke="#111" stroke-width="1"/>
<text x="96.20" y="313.10" font-size="3.6" text-anchor="middle" fill="#555">100</text>
<line x1="101.10" y1="306.50" x2="101.10" y2="308.10" stroke="#111" stroke-width="0.6"/>
<line x1="106.00" y1="306.50" x2="106.00" y2="308.10" stroke="#111" stroke-width="0.6"/>
<line x1="110.90" y1="306.50" x2="110.90" y2="308.10" stroke="#111" stroke-width="0.6"/>
<line x1="115.80" y1="306.50" x2="115.80" y2="308.10" stroke="#111" stroke-width="0.6"/>
<line x1="120.70" y1="306.50" x2="120.70" y2="309.50" stroke="#111" stroke-width="1"/>
<text x="120.70" y="313.10" font-size="3.6" text-anchor="middle" fill="#555">150</text>
<line x1="125.60" y1="306.50" x2="125.60" y2="308.10" stroke="#111" stroke-width="0.6"/>
<line x1="130.50" y1="306.50" x2="130.50" y2="308.10" stroke="#111" stroke-width="0.6"/>
<line x1="135.40" y1="306.50" x2="135.40" y2="308.10" stroke="#111" stroke-width="0.6"/>
<text x="179.30" y="200.40" font-size="10.6">Uninfected</text>
<g filter="url(#spD)"><g transform="translate(165.30,295.20) scale(0.4900,-0.5170)" fill="#b6b6b6">
<path d="M65.5,139.6C65.5,141.9 68.1,145.5 70.7,148.4C73.3,151.3 76.8,155.2 81.1,157.1C85.4,159.0 91.9,160.2 96.7,159.6C101.5,159.0 107.2,156.1 109.8,153.4C112.4,150.7 113.7,146.2 112.4,143.3C111.1,140.4 106.8,137.1 102.0,135.8C97.2,134.6 88.9,136.0 83.7,135.8C78.5,135.6 73.7,134.0 70.7,134.6C67.7,135.2 65.5,137.3 65.5,139.6Z"/>
<path d="M112.0,141.0C112.3,142.4 112.3,144.2 115.0,144.6C117.7,145.0 124.1,144.6 128.0,143.3C131.9,142.1 137.3,139.0 138.4,137.1C139.5,135.2 137.5,132.7 134.5,132.1C131.5,131.5 123.8,132.7 120.2,133.3C116.6,134.0 114.4,134.7 113.0,136.0C111.6,137.3 111.7,139.6 112.0,141.0Z"/>
<path d="M75.9,128.3C76.8,129.0 88.7,127.9 91.5,128.3C94.3,128.7 106.3,132.8 109.8,133.3C113.3,133.8 130.4,134.8 133.2,134.6C136.0,134.4 142.6,132.6 143.7,130.8C144.8,129.0 146.3,116.4 146.3,113.3C146.3,110.2 143.7,95.9 143.7,93.2C143.7,90.5 146.7,82.4 146.3,80.7C145.9,79.0 140.8,74.0 138.4,73.1C136.0,72.2 120.4,69.8 117.6,69.4C114.8,69.0 106.0,68.3 104.5,68.1C103.0,67.9 100.2,66.1 99.4,66.9C98.6,67.7 96.1,76.0 95.4,78.2C94.7,80.4 92.0,90.7 91.5,93.2C91.0,95.7 89.8,106.0 88.9,108.2C88.0,110.4 82.2,117.8 81.1,119.5C80.0,121.2 75.0,127.6 75.9,128.3Z"/>
<path d="M148.9,113.3C151.1,113.7 156.5,109.0 159.3,105.7C162.1,102.4 165.4,97.4 165.8,93.2C166.2,89.0 164.3,83.2 161.9,80.7C159.5,78.2 154.3,77.0 151.5,78.2C148.7,79.5 145.9,84.0 145.0,88.2C144.1,92.4 145.7,99.0 146.3,103.2C147.0,107.4 146.7,112.9 148.9,113.3Z"/>
<path d="M26.4,123.3C27.6,124.6 33.5,126.5 35.0,127.0C36.5,127.5 42.5,129.2 44.6,129.5C46.7,129.8 58.0,131.1 60.2,130.8C62.4,130.5 69.0,126.7 70.7,125.8C72.4,124.9 79.6,121.0 81.1,119.5C82.6,118.0 88.0,110.4 88.9,108.2C89.8,106.0 91.0,95.7 91.5,93.2C92.0,90.7 94.7,80.4 95.4,78.2C96.1,76.0 100.2,68.6 99.4,66.9C98.6,65.2 88.7,59.9 86.3,58.1C83.9,56.3 72.9,47.5 70.7,45.6C68.5,43.7 62.2,36.1 60.2,35.5C58.2,34.9 49.4,37.3 47.2,38.1C45.0,38.9 36.0,43.9 34.2,45.6C32.4,47.3 26.1,56.2 25.1,58.1C24.1,60.0 22.8,66.0 22.4,68.1C22.0,70.2 20.1,80.7 19.8,83.2C19.5,85.7 18.4,95.9 18.5,98.2C18.6,100.5 20.4,108.7 21.1,110.8C21.8,112.9 25.2,122.0 26.4,123.3Z"/>
<path d="M60.2,35.5C60.6,37.0 68.5,43.7 70.7,45.6C72.9,47.5 83.9,56.3 86.3,58.1C88.7,59.9 98.1,66.3 99.4,66.9C100.7,67.5 101.3,66.3 102.0,65.6C102.7,64.9 106.1,59.8 107.2,58.1C108.3,56.4 113.9,47.7 115.0,45.6C116.1,43.5 119.8,34.9 120.2,33.0C120.6,31.1 121.1,24.7 120.2,23.0C119.3,21.3 111.5,14.2 109.8,13.0C108.1,11.8 101.4,9.2 99.4,9.2C97.4,9.2 88.5,12.1 86.3,13.0C84.1,13.9 75.0,19.2 73.3,20.5C71.6,21.8 66.6,26.8 65.5,28.0C64.4,29.2 59.8,34.0 60.2,35.5Z"/>
<path d="M4.2,90.7C5.9,93.6 8.5,93.6 10.7,93.2C12.9,92.8 15.9,91.1 17.2,88.2C18.5,85.3 18.9,79.6 18.5,75.6C18.1,71.6 16.6,65.7 14.6,64.4C12.7,63.2 9.2,66.2 6.8,68.1C4.4,70.0 0.7,71.8 0.3,75.6C-0.1,79.4 2.5,87.8 4.2,90.7Z"/>
<path d="M127.2,58.1a10.0,7.2 0 1,0 20.0,0a10.0,7.2 0 1,0 -20.0,0Z"/>
<path d="M144.8,55.6a8.0,6.0 0 1,0 16.0,0a8.0,6.0 0 1,0 -16.0,0Z"/>
<path d="M127.0,41.8a7.5,5.0 0 1,0 15.0,0a7.5,5.0 0 1,0 -15.0,0Z"/>
<path d="M128.3,25.5a7.0,7.5 0 1,0 14.0,0a7.0,7.5 0 1,0 -14.0,0Z"/>
<path d="M116.5,55.0a3.5,8.0 0 1,0 7.0,0a3.5,8.0 0 1,0 -7.0,0ZM75.6,5.5a6.0,3.0 0 1,0 12.0,0a6.0,3.0 0 1,0 -12.0,0Z"/>
<path d="M32.9,24.3a13.0,7.5 0 1,0 26.0,0a13.0,7.5 0 1,0 -26.0,0Z"/>
<path d="M64.9,9.2a4.5,4.5 0 1,0 9.0,0a4.5,4.5 0 1,0 -9.0,0Z"/>
</g></g>
<g filter="url(#spD2)"><g transform="translate(165.30,295.20) scale(0.4900,-0.5170)" fill="#a8a8a8">
<path d="M65.5,139.6C65.5,141.9 68.1,145.5 70.7,148.4C73.3,151.3 76.8,155.2 81.1,157.1C85.4,159.0 91.9,160.2 96.7,159.6C101.5,159.0 107.2,156.1 109.8,153.4C112.4,150.7 113.7,146.2 112.4,143.3C111.1,140.4 106.8,137.1 102.0,135.8C97.2,134.6 88.9,136.0 83.7,135.8C78.5,135.6 73.7,134.0 70.7,134.6C67.7,135.2 65.5,137.3 65.5,139.6Z"/>
<path d="M112.0,141.0C112.3,142.4 112.3,144.2 115.0,144.6C117.7,145.0 124.1,144.6 128.0,143.3C131.9,142.1 137.3,139.0 138.4,137.1C139.5,135.2 137.5,132.7 134.5,132.1C131.5,131.5 123.8,132.7 120.2,133.3C116.6,134.0 114.4,134.7 113.0,136.0C111.6,137.3 111.7,139.6 112.0,141.0Z"/>
<path d="M75.9,128.3C76.8,129.0 88.7,127.9 91.5,128.3C94.3,128.7 106.3,132.8 109.8,133.3C113.3,133.8 130.4,134.8 133.2,134.6C136.0,134.4 142.6,132.6 143.7,130.8C144.8,129.0 146.3,116.4 146.3,113.3C146.3,110.2 143.7,95.9 143.7,93.2C143.7,90.5 146.7,82.4 146.3,80.7C145.9,79.0 140.8,74.0 138.4,73.1C136.0,72.2 120.4,69.8 117.6,69.4C114.8,69.0 106.0,68.3 104.5,68.1C103.0,67.9 100.2,66.1 99.4,66.9C98.6,67.7 96.1,76.0 95.4,78.2C94.7,80.4 92.0,90.7 91.5,93.2C91.0,95.7 89.8,106.0 88.9,108.2C88.0,110.4 82.2,117.8 81.1,119.5C80.0,121.2 75.0,127.6 75.9,128.3Z"/>
<path d="M148.9,113.3C151.1,113.7 156.5,109.0 159.3,105.7C162.1,102.4 165.4,97.4 165.8,93.2C166.2,89.0 164.3,83.2 161.9,80.7C159.5,78.2 154.3,77.0 151.5,78.2C148.7,79.5 145.9,84.0 145.0,88.2C144.1,92.4 145.7,99.0 146.3,103.2C147.0,107.4 146.7,112.9 148.9,113.3Z"/>
<path d="M26.4,123.3C27.6,124.6 33.5,126.5 35.0,127.0C36.5,127.5 42.5,129.2 44.6,129.5C46.7,129.8 58.0,131.1 60.2,130.8C62.4,130.5 69.0,126.7 70.7,125.8C72.4,124.9 79.6,121.0 81.1,119.5C82.6,118.0 88.0,110.4 88.9,108.2C89.8,106.0 91.0,95.7 91.5,93.2C92.0,90.7 94.7,80.4 95.4,78.2C96.1,76.0 100.2,68.6 99.4,66.9C98.6,65.2 88.7,59.9 86.3,58.1C83.9,56.3 72.9,47.5 70.7,45.6C68.5,43.7 62.2,36.1 60.2,35.5C58.2,34.9 49.4,37.3 47.2,38.1C45.0,38.9 36.0,43.9 34.2,45.6C32.4,47.3 26.1,56.2 25.1,58.1C24.1,60.0 22.8,66.0 22.4,68.1C22.0,70.2 20.1,80.7 19.8,83.2C19.5,85.7 18.4,95.9 18.5,98.2C18.6,100.5 20.4,108.7 21.1,110.8C21.8,112.9 25.2,122.0 26.4,123.3Z"/>
<path d="M60.2,35.5C60.6,37.0 68.5,43.7 70.7,45.6C72.9,47.5 83.9,56.3 86.3,58.1C88.7,59.9 98.1,66.3 99.4,66.9C100.7,67.5 101.3,66.3 102.0,65.6C102.7,64.9 106.1,59.8 107.2,58.1C108.3,56.4 113.9,47.7 115.0,45.6C116.1,43.5 119.8,34.9 120.2,33.0C120.6,31.1 121.1,24.7 120.2,23.0C119.3,21.3 111.5,14.2 109.8,13.0C108.1,11.8 101.4,9.2 99.4,9.2C97.4,9.2 88.5,12.1 86.3,13.0C84.1,13.9 75.0,19.2 73.3,20.5C71.6,21.8 66.6,26.8 65.5,28.0C64.4,29.2 59.8,34.0 60.2,35.5Z"/>
<path d="M4.2,90.7C5.9,93.6 8.5,93.6 10.7,93.2C12.9,92.8 15.9,91.1 17.2,88.2C18.5,85.3 18.9,79.6 18.5,75.6C18.1,71.6 16.6,65.7 14.6,64.4C12.7,63.2 9.2,66.2 6.8,68.1C4.4,70.0 0.7,71.8 0.3,75.6C-0.1,79.4 2.5,87.8 4.2,90.7Z"/>
<path d="M127.2,58.1a10.0,7.2 0 1,0 20.0,0a10.0,7.2 0 1,0 -20.0,0Z"/>
<path d="M144.8,55.6a8.0,6.0 0 1,0 16.0,0a8.0,6.0 0 1,0 -16.0,0Z"/>
<path d="M127.0,41.8a7.5,5.0 0 1,0 15.0,0a7.5,5.0 0 1,0 -15.0,0Z"/>
<path d="M128.3,25.5a7.0,7.5 0 1,0 14.0,0a7.0,7.5 0 1,0 -14.0,0Z"/>
<path d="M116.5,55.0a3.5,8.0 0 1,0 7.0,0a3.5,8.0 0 1,0 -7.0,0ZM75.6,5.5a6.0,3.0 0 1,0 12.0,0a6.0,3.0 0 1,0 -12.0,0Z"/>
<path d="M32.9,24.3a13.0,7.5 0 1,0 26.0,0a13.0,7.5 0 1,0 -26.0,0Z"/>
<path d="M64.9,9.2a4.5,4.5 0 1,0 9.0,0a4.5,4.5 0 1,0 -9.0,0Z"/>
</g></g>
<g filter="url(#spK2)"><g transform="translate(165.30,295.20) scale(0.4900,-0.5170)"><path d="M1.0,79.0a7.0,11.0 0 1,0 14.0,0a7.0,11.0 0 1,0 -14.0,0Z" fill="#000"/></g></g>
<g transform="translate(165.30,295.20) scale(0.4900,-0.5170)">
<path d="M2.5,90.0a2.5,2.0 0 1,0 5.0,0a2.5,2.0 0 1,0 -5.0,0Z" fill="#3cc83c"/>
<path d="M66.5,6.0a1.5,2.5 0 1,0 3.0,0a1.5,2.5 0 1,0 -3.0,0Z" fill="#111"/>
<path d="M38.8,20.0a1.2,1.2 0 1,0 2.4,0a1.2,1.2 0 1,0 -2.4,0Z" fill="#2a6a2a"/>
<path d="M68.8,117.0a1.2,1.2 0 1,0 2.4,0a1.2,1.2 0 1,0 -2.4,0Z" fill="#3cc83c"/>
<path d="M138.8,67.0a1.2,1.2 0 1,0 2.4,0a1.2,1.2 0 1,0 -2.4,0Z" fill="#3cc83c"/>
<path d="M10.8,60.0a1.2,1.2 0 1,0 2.4,0a1.2,1.2 0 1,0 -2.4,0Z" fill="#3cc83c"/>
</g>
<path d="M156.5,205.5 H257.5 V305.5 H156.5 Z" fill="none" stroke="#666" stroke-width="1"/>
<line x1="154.90" y1="300.37" x2="156.50" y2="300.37" stroke="#111" stroke-width="0.6"/>
<line x1="153.50" y1="295.20" x2="156.50" y2="295.20" stroke="#111" stroke-width="1"/>
<text x="150.50" y="296.50" font-size="3.6" text-anchor="end" fill="#555">0</text>
<line x1="154.90" y1="290.03" x2="156.50" y2="290.03" stroke="#111" stroke-width="0.6"/>
<line x1="154.90" y1="284.86" x2="156.50" y2="284.86" stroke="#111" stroke-width="0.6"/>
<line x1="154.90" y1="279.69" x2="156.50" y2="279.69" stroke="#111" stroke-width="0.6"/>
<line x1="154.90" y1="274.52" x2="156.50" y2="274.52" stroke="#111" stroke-width="0.6"/>
<line x1="153.50" y1="269.35" x2="156.50" y2="269.35" stroke="#111" stroke-width="1"/>
<text x="150.50" y="270.65" font-size="3.6" text-anchor="end" fill="#555">50</text>
<line x1="154.90" y1="264.18" x2="156.50" y2="264.18" stroke="#111" stroke-width="0.6"/>
<line x1="154.90" y1="259.01" x2="156.50" y2="259.01" stroke="#111" stroke-width="0.6"/>
<line x1="154.90" y1="253.84" x2="156.50" y2="253.84" stroke="#111" stroke-width="0.6"/>
<line x1="154.90" y1="248.67" x2="156.50" y2="248.67" stroke="#111" stroke-width="0.6"/>
<line x1="153.50" y1="243.50" x2="156.50" y2="243.50" stroke="#111" stroke-width="1"/>
<text x="150.50" y="244.80" font-size="3.6" text-anchor="end" fill="#555">100</text>
<line x1="154.90" y1="238.33" x2="156.50" y2="238.33" stroke="#111" stroke-width="0.6"/>
<line x1="154.90" y1="233.16" x2="156.50" y2="233.16" stroke="#111" stroke-width="0.6"/>
<line x1="154.90" y1="227.99" x2="156.50" y2="227.99" stroke="#111" stroke-width="0.6"/>
<line x1="154.90" y1="222.82" x2="156.50" y2="222.82" stroke="#111" stroke-width="0.6"/>
<line x1="153.50" y1="217.65" x2="156.50" y2="217.65" stroke="#111" stroke-width="1"/>
<text x="150.50" y="218.95" font-size="3.6" text-anchor="end" fill="#555">150</text>
<line x1="154.90" y1="212.48" x2="156.50" y2="212.48" stroke="#111" stroke-width="0.6"/>
<line x1="154.90" y1="207.31" x2="156.50" y2="207.31" stroke="#111" stroke-width="0.6"/>
<line x1="160.40" y1="305.50" x2="160.40" y2="307.10" stroke="#111" stroke-width="0.6"/>
<line x1="165.30" y1="305.50" x2="165.30" y2="308.50" stroke="#111" stroke-width="1"/>
<text x="165.30" y="312.10" font-size="3.6" text-anchor="middle" fill="#555">0</text>
<line x1="170.20" y1="305.50" x2="170.20" y2="307.10" stroke="#111" stroke-width="0.6"/>
<line x1="175.10" y1="305.50" x2="175.10" y2="307.10" stroke="#111" stroke-width="0.6"/>
<line x1="180.00" y1="305.50" x2="180.00" y2="307.10" stroke="#111" stroke-width="0.6"/>
<line x1="184.90" y1="305.50" x2="184.90" y2="307.10" stroke="#111" stroke-width="0.6"/>
<line x1="189.80" y1="305.50" x2="189.80" y2="308.50" stroke="#111" stroke-width="1"/>
<text x="189.80" y="312.10" font-size="3.6" text-anchor="middle" fill="#555">50</text>
<line x1="194.70" y1="305.50" x2="194.70" y2="307.10" stroke="#111" stroke-width="0.6"/>
<line x1="199.60" y1="305.50" x2="199.60" y2="307.10" stroke="#111" stroke-width="0.6"/>
<line x1="204.50" y1="305.50" x2="204.50" y2="307.10" stroke="#111" stroke-width="0.6"/>
<line x1="209.40" y1="305.50" x2="209.40" y2="307.10" stroke="#111" stroke-width="0.6"/>
<line x1="214.30" y1="305.50" x2="214.30" y2="308.50" stroke="#111" stroke-width="1"/>
<text x="214.30" y="312.10" font-size="3.6" text-anchor="middle" fill="#555">100</text>
<line x1="219.20" y1="305.50" x2="219.20" y2="307.10" stroke="#111" stroke-width="0.6"/>
<line x1="224.10" y1="305.50" x2="224.10" y2="307.10" stroke="#111" stroke-width="0.6"/>
<line x1="229.00" y1="305.50" x2="229.00" y2="307.10" stroke="#111" stroke-width="0.6"/>
<line x1="233.90" y1="305.50" x2="233.90" y2="307.10" stroke="#111" stroke-width="0.6"/>
<line x1="238.80" y1="305.50" x2="238.80" y2="308.50" stroke="#111" stroke-width="1"/>
<text x="238.80" y="312.10" font-size="3.6" text-anchor="middle" fill="#555">150</text>
<line x1="243.70" y1="305.50" x2="243.70" y2="307.10" stroke="#111" stroke-width="0.6"/>
<line x1="248.60" y1="305.50" x2="248.60" y2="307.10" stroke="#111" stroke-width="0.6"/>
<line x1="253.50" y1="305.50" x2="253.50" y2="307.10" stroke="#111" stroke-width="0.6"/>
<text x="40.00" y="214.20" font-size="8.3">CD57<tspan font-size="5" dy="-3">+</tspan><tspan dy="3">NKG2C</tspan><tspan font-size="5" dy="-3">+</tspan></text>
<text x="40.00" y="224.40" font-size="8.3" fill="#3cb83c">Adaptive</text>
<text x="40.00" y="234.20" font-size="8.3" fill="#999">Total</text>
<text x="25.60" y="318.00" font-size="9" transform="rotate(-90 25.60 318.00)">tSNE-2</text>
<text x="46.30" y="327.20" font-size="9">tSNE-1</text>
<text x="287.30" y="188.20" font-size="13.5" font-weight="bold">e</text>
<circle cx="308.50" cy="184.40" r="1.3" fill="none" stroke="#f05a48" stroke-width="0.6"/>
<text x="314.00" y="187.50" font-size="8.6" fill="#222">Infected</text>
<path d="M356.10,183.40 L357.30,185.80 L354.90,185.80 Z" fill="none" stroke="#999" stroke-width="0.6"/>
<text x="362.20" y="187.50" font-size="8.6" fill="#222">Transient</text>
<rect x="407.05" y="183.15" width="2.5" height="2.5" fill="none" stroke="#3a6af0" stroke-width="0.6"/>
<text x="414.80" y="187.50" font-size="8.6" fill="#222">Uninfected</text>
<line x1="324.30" y1="195.30" x2="324.30" y2="307.10" stroke="#333" stroke-width="0.9"/>
<line x1="324.30" y1="307.10" x2="405.40" y2="307.10" stroke="#333" stroke-width="0.9"/>
<line x1="320.30" y1="307.10" x2="324.30" y2="307.10" stroke="#333" stroke-width="0.9"/>
<text x="318.70" y="310.10" font-size="8.6" text-anchor="end" fill="#222">0</text>
<line x1="320.30" y1="279.25" x2="324.30" y2="279.25" stroke="#333" stroke-width="0.9"/>
<text x="318.70" y="282.25" font-size="8.6" text-anchor="end" fill="#222">10</text>
<line x1="320.30" y1="251.40" x2="324.30" y2="251.40" stroke="#333" stroke-width="0.9"/>
<text x="318.70" y="254.40" font-size="8.6" text-anchor="end" fill="#222">20</text>
<line x1="320.30" y1="223.55" x2="324.30" y2="223.55" stroke="#333" stroke-width="0.9"/>
<text x="318.70" y="226.55" font-size="8.6" text-anchor="end" fill="#222">30</text>
<line x1="320.30" y1="195.70" x2="324.30" y2="195.70" stroke="#333" stroke-width="0.9"/>
<text x="318.70" y="198.70" font-size="8.6" text-anchor="end" fill="#222">40</text>
<line x1="333.50" y1="307.10" x2="333.50" y2="311.10" stroke="#333" stroke-width="0.9"/>
<text x="333.50" y="322.10" font-size="8.5" text-anchor="middle" fill="#222">-1</text>
<line x1="354.70" y1="307.10" x2="354.70" y2="311.10" stroke="#333" stroke-width="0.9"/>
<text x="354.70" y="322.10" font-size="8.5" text-anchor="middle" fill="#222">3</text>
<line x1="375.60" y1="307.10" x2="375.60" y2="311.10" stroke="#333" stroke-width="0.9"/>
<text x="375.60" y="322.10" font-size="8.5" text-anchor="middle" fill="#222">7/10</text>
<line x1="396.50" y1="307.10" x2="396.50" y2="311.10" stroke="#333" stroke-width="0.9"/>
<text x="396.50" y="322.10" font-size="8.5" text-anchor="middle" fill="#222">14</text>
<text x="364.85" y="334.80" font-size="8.8" text-anchor="middle" fill="#222">Day post-inoculation</text>
<text x="303.60" y="251.40" font-size="8.9" text-anchor="middle" fill="#222" transform="rotate(-90 303.60 251.40)">CD56<tspan font-size="6.6" dy="-3.3">bright</tspan><tspan dy="3.3"> (% of NK cells)</tspan></text>
<circle cx="329.20" cy="266.72" r="1.4" fill="none" stroke="#f05a48" stroke-width="0.7"/>
<circle cx="329.20" cy="272.29" r="1.4" fill="none" stroke="#f05a48" stroke-width="0.7"/>
<circle cx="326.60" cy="272.84" r="1.4" fill="none" stroke="#f05a48" stroke-width="0.7"/>
<circle cx="329.20" cy="282.04" r="1.4" fill="none" stroke="#f05a48" stroke-width="0.7"/>
<circle cx="329.20" cy="284.82" r="1.4" fill="none" stroke="#f05a48" stroke-width="0.7"/>
<circle cx="326.60" cy="286.21" r="1.4" fill="none" stroke="#f05a48" stroke-width="0.7"/>
<circle cx="331.80" cy="287.05" r="1.4" fill="none" stroke="#f05a48" stroke-width="0.7"/>
<circle cx="329.20" cy="287.61" r="1.4" fill="none" stroke="#f05a48" stroke-width="0.7"/>
<circle cx="326.60" cy="289.00" r="1.4" fill="none" stroke="#f05a48" stroke-width="0.7"/>
<circle cx="329.20" cy="294.57" r="1.4" fill="none" stroke="#f05a48" stroke-width="0.7"/>
<circle cx="329.20" cy="297.35" r="1.4" fill="none" stroke="#f05a48" stroke-width="0.7"/>
<circle cx="329.20" cy="300.14" r="1.4" fill="none" stroke="#f05a48" stroke-width="0.7"/>
<circle cx="329.20" cy="304.31" r="1.4" fill="none" stroke="#f05a48" stroke-width="0.7"/>
<rect x="336.50" y="275.17" width="2.6" height="2.6" fill="none" stroke="#3a6af0" stroke-width="0.7"/>
<rect x="336.50" y="280.74" width="2.6" height="2.6" fill="none" stroke="#3a6af0" stroke-width="0.7"/>
<rect x="333.90" y="281.29" width="2.6" height="2.6" fill="none" stroke="#3a6af0" stroke-width="0.7"/>
<rect x="339.10" y="282.13" width="2.6" height="2.6" fill="none" stroke="#3a6af0" stroke-width="0.7"/>
<rect x="331.30" y="282.13" width="2.6" height="2.6" fill="none" stroke="#3a6af0" stroke-width="0.7"/>
<rect x="336.50" y="289.09" width="2.6" height="2.6" fill="none" stroke="#3a6af0" stroke-width="0.7"/>
<rect x="333.90" y="290.48" width="2.6" height="2.6" fill="none" stroke="#3a6af0" stroke-width="0.7"/>
<rect x="336.50" y="293.27" width="2.6" height="2.6" fill="none" stroke="#3a6af0" stroke-width="0.7"/>
<rect x="333.90" y="293.82" width="2.6" height="2.6" fill="none" stroke="#3a6af0" stroke-width="0.7"/>
<rect x="336.50" y="298.84" width="2.6" height="2.6" fill="none" stroke="#3a6af0" stroke-width="0.7"/>
<rect x="333.90" y="298.84" width="2.6" height="2.6" fill="none" stroke="#3a6af0" stroke-width="0.7"/>
<rect x="339.10" y="300.23" width="2.6" height="2.6" fill="none" stroke="#3a6af0" stroke-width="0.7"/>
<path d="M339.00,281.49 L340.10,283.69 L337.90,283.69 Z" fill="none" stroke="#aaa" stroke-width="0.5"/>
<path d="M339.00,286.50 L340.10,288.71 L337.90,288.71 Z" fill="none" stroke="#aaa" stroke-width="0.5"/>
<line x1="325.50" y1="287.05" x2="332.70" y2="287.05" stroke="#222" stroke-width="1.1"/>
<line x1="334.30" y1="290.39" x2="341.50" y2="290.39" stroke="#222" stroke-width="1.1"/>
<circle cx="350.40" cy="272.29" r="1.4" fill="none" stroke="#f05a48" stroke-width="0.7"/>
<circle cx="347.80" cy="273.68" r="1.4" fill="none" stroke="#f05a48" stroke-width="0.7"/>
<circle cx="350.40" cy="275.07" r="1.4" fill="none" stroke="#f05a48" stroke-width="0.7"/>
<circle cx="350.40" cy="284.82" r="1.4" fill="none" stroke="#f05a48" stroke-width="0.7"/>
<circle cx="350.40" cy="293.18" r="1.4" fill="none" stroke="#f05a48" stroke-width="0.7"/>
<circle cx="347.80" cy="293.73" r="1.4" fill="none" stroke="#f05a48" stroke-width="0.7"/>
<circle cx="350.40" cy="295.96" r="1.4" fill="none" stroke="#f05a48" stroke-width="0.7"/>
<circle cx="350.40" cy="298.75" r="1.4" fill="none" stroke="#f05a48" stroke-width="0.7"/>
<circle cx="350.40" cy="302.92" r="1.4" fill="none" stroke="#f05a48" stroke-width="0.7"/>
<rect x="357.70" y="254.28" width="2.6" height="2.6" fill="none" stroke="#3a6af0" stroke-width="0.7"/>
<rect x="357.70" y="272.38" width="2.6" height="2.6" fill="none" stroke="#3a6af0" stroke-width="0.7"/>
<rect x="357.70" y="276.00" width="2.6" height="2.6" fill="none" stroke="#3a6af0" stroke-width="0.7"/>
<rect x="357.70" y="282.13" width="2.6" height="2.6" fill="none" stroke="#3a6af0" stroke-width="0.7"/>
<rect x="357.70" y="284.91" width="2.6" height="2.6" fill="none" stroke="#3a6af0" stroke-width="0.7"/>
<rect x="355.10" y="286.86" width="2.6" height="2.6" fill="none" stroke="#3a6af0" stroke-width="0.7"/>
<rect x="357.70" y="293.27" width="2.6" height="2.6" fill="none" stroke="#3a6af0" stroke-width="0.7"/>
<rect x="357.70" y="297.44" width="2.6" height="2.6" fill="none" stroke="#3a6af0" stroke-width="0.7"/>
<rect x="355.10" y="298.84" width="2.6" height="2.6" fill="none" stroke="#3a6af0" stroke-width="0.7"/>
<path d="M360.20,292.07 L361.30,294.28 L359.10,294.28 Z" fill="none" stroke="#aaa" stroke-width="0.5"/>
<path d="M360.20,299.04 L361.30,301.24 L359.10,301.24 Z" fill="none" stroke="#aaa" stroke-width="0.5"/>
<line x1="346.70" y1="293.18" x2="353.90" y2="293.18" stroke="#222" stroke-width="1.1"/>
<line x1="355.50" y1="287.61" x2="362.70" y2="287.61" stroke="#222" stroke-width="1.1"/>
<circle cx="371.30" cy="236.08" r="1.4" fill="none" stroke="#f05a48" stroke-width="0.7"/>
<circle cx="371.30" cy="270.89" r="1.4" fill="none" stroke="#f05a48" stroke-width="0.7"/>
<circle cx="371.30" cy="276.47" r="1.4" fill="none" stroke="#f05a48" stroke-width="0.7"/>
<circle cx="371.30" cy="282.04" r="1.4" fill="none" stroke="#f05a48" stroke-width="0.7"/>
<circle cx="371.30" cy="286.21" r="1.4" fill="none" stroke="#f05a48" stroke-width="0.7"/>
<circle cx="371.30" cy="295.96" r="1.4" fill="none" stroke="#f05a48" stroke-width="0.7"/>
<circle cx="371.30" cy="298.75" r="1.4" fill="none" stroke="#f05a48" stroke-width="0.7"/>
<circle cx="368.70" cy="300.14" r="1.4" fill="none" stroke="#f05a48" stroke-width="0.7"/>
<circle cx="371.30" cy="301.53" r="1.4" fill="none" stroke="#f05a48" stroke-width="0.7"/>
<circle cx="368.70" cy="302.92" r="1.4" fill="none" stroke="#f05a48" stroke-width="0.7"/>
<rect x="378.60" y="261.24" width="2.6" height="2.6" fill="none" stroke="#3a6af0" stroke-width="0.7"/>
<rect x="378.60" y="286.31" width="2.6" height="2.6" fill="none" stroke="#3a6af0" stroke-width="0.7"/>
<rect x="376.00" y="287.70" width="2.6" height="2.6" fill="none" stroke="#3a6af0" stroke-width="0.7"/>
<rect x="378.60" y="289.09" width="2.6" height="2.6" fill="none" stroke="#3a6af0" stroke-width="0.7"/>
<rect x="378.60" y="293.27" width="2.6" height="2.6" fill="none" stroke="#3a6af0" stroke-width="0.7"/>
<rect x="376.00" y="294.10" width="2.6" height="2.6" fill="none" stroke="#3a6af0" stroke-width="0.7"/>
<rect x="381.20" y="294.66" width="2.6" height="2.6" fill="none" stroke="#3a6af0" stroke-width="0.7"/>
<rect x="378.60" y="296.05" width="2.6" height="2.6" fill="none" stroke="#3a6af0" stroke-width="0.7"/>
<rect x="373.40" y="296.05" width="2.6" height="2.6" fill="none" stroke="#3a6af0" stroke-width="0.7"/>
<path d="M381.10,286.50 L382.20,288.71 L380.00,288.71 Z" fill="none" stroke="#aaa" stroke-width="0.5"/>
<path d="M381.10,290.68 L382.20,292.88 L380.00,292.88 Z" fill="none" stroke="#aaa" stroke-width="0.5"/>
<line x1="367.60" y1="295.96" x2="374.80" y2="295.96" stroke="#222" stroke-width="1.1"/>
<line x1="376.40" y1="295.12" x2="383.60" y2="295.12" stroke="#222" stroke-width="1.1"/>
<circle cx="392.20" cy="262.54" r="1.4" fill="none" stroke="#f05a48" stroke-width="0.7"/>
<circle cx="392.20" cy="270.89" r="1.4" fill="none" stroke="#f05a48" stroke-width="0.7"/>
<circle cx="392.20" cy="273.68" r="1.4" fill="none" stroke="#f05a48" stroke-width="0.7"/>
<circle cx="392.20" cy="277.86" r="1.4" fill="none" stroke="#f05a48" stroke-width="0.7"/>
<circle cx="389.60" cy="279.25" r="1.4" fill="none" stroke="#f05a48" stroke-width="0.7"/>
<circle cx="392.20" cy="290.39" r="1.4" fill="none" stroke="#f05a48" stroke-width="0.7"/>
<circle cx="389.60" cy="291.78" r="1.4" fill="none" stroke="#f05a48" stroke-width="0.7"/>
<circle cx="392.20" cy="293.18" r="1.4" fill="none" stroke="#f05a48" stroke-width="0.7"/>
<circle cx="392.20" cy="298.75" r="1.4" fill="none" stroke="#f05a48" stroke-width="0.7"/>
<circle cx="389.60" cy="300.14" r="1.4" fill="none" stroke="#f05a48" stroke-width="0.7"/>
<rect x="399.50" y="262.63" width="2.6" height="2.6" fill="none" stroke="#3a6af0" stroke-width="0.7"/>
<rect x="399.50" y="277.95" width="2.6" height="2.6" fill="none" stroke="#3a6af0" stroke-width="0.7"/>
<rect x="396.90" y="279.34" width="2.6" height="2.6" fill="none" stroke="#3a6af0" stroke-width="0.7"/>
<rect x="399.50" y="286.31" width="2.6" height="2.6" fill="none" stroke="#3a6af0" stroke-width="0.7"/>
<rect x="396.90" y="286.86" width="2.6" height="2.6" fill="none" stroke="#3a6af0" stroke-width="0.7"/>
<rect x="399.50" y="291.88" width="2.6" height="2.6" fill="none" stroke="#3a6af0" stroke-width="0.7"/>
<rect x="396.90" y="293.27" width="2.6" height="2.6" fill="none" stroke="#3a6af0" stroke-width="0.7"/>
<rect x="399.50" y="296.05" width="2.6" height="2.6" fill="none" stroke="#3a6af0" stroke-width="0.7"/>
<path d="M402.00,289.29 L403.10,291.49 L400.90,291.49 Z" fill="none" stroke="#aaa" stroke-width="0.5"/>
<path d="M402.00,294.86 L403.10,297.06 L400.90,297.06 Z" fill="none" stroke="#aaa" stroke-width="0.5"/>
<line x1="388.50" y1="290.39" x2="395.70" y2="290.39" stroke="#222" stroke-width="1.1"/>
<line x1="397.30" y1="288.16" x2="404.50" y2="288.16" stroke="#222" stroke-width="1.1"/>
<line x1="449.30" y1="195.30" x2="449.30" y2="307.30" stroke="#333" stroke-width="0.9"/>
<line x1="449.30" y1="307.30" x2="530.40" y2="307.30" stroke="#333" stroke-width="0.9"/>
<line x1="445.30" y1="307.30" x2="449.30" y2="307.30" stroke="#333" stroke-width="0.9"/>
<text x="443.70" y="310.30" font-size="8.6" text-anchor="end" fill="#222">0</text>
<line x1="445.30" y1="279.40" x2="449.30" y2="279.40" stroke="#333" stroke-width="0.9"/>
<text x="443.70" y="282.40" font-size="8.6" text-anchor="end" fill="#222">20</text>
<line x1="445.30" y1="251.50" x2="449.30" y2="251.50" stroke="#333" stroke-width="0.9"/>
<text x="443.70" y="254.50" font-size="8.6" text-anchor="end" fill="#222">40</text>
<line x1="445.30" y1="223.60" x2="449.30" y2="223.60" stroke="#333" stroke-width="0.9"/>
<text x="443.70" y="226.60" font-size="8.6" text-anchor="end" fill="#222">60</text>
<line x1="445.30" y1="195.70" x2="449.30" y2="195.70" stroke="#333" stroke-width="0.9"/>
<text x="443.70" y="198.70" font-size="8.6" text-anchor="end" fill="#222">80</text>
<line x1="458.50" y1="307.30" x2="458.50" y2="311.30" stroke="#333" stroke-width="0.9"/>
<text x="458.50" y="322.10" font-size="8.5" text-anchor="middle" fill="#222">-1</text>
<line x1="479.70" y1="307.30" x2="479.70" y2="311.30" stroke="#333" stroke-width="0.9"/>
<text x="479.70" y="322.10" font-size="8.5" text-anchor="middle" fill="#222">3</text>
<line x1="500.60" y1="307.30" x2="500.60" y2="311.30" stroke="#333" stroke-width="0.9"/>
<text x="500.60" y="322.10" font-size="8.5" text-anchor="middle" fill="#222">7/10</text>
<line x1="521.50" y1="307.30" x2="521.50" y2="311.30" stroke="#333" stroke-width="0.9"/>
<text x="521.50" y="322.10" font-size="8.5" text-anchor="middle" fill="#222">14</text>
<text x="489.85" y="334.80" font-size="8.8" text-anchor="middle" fill="#222">Day post-inoculation</text>
<text x="428.60" y="251.40" font-size="8.9" text-anchor="middle" fill="#222" transform="rotate(-90 428.60 251.40)">CD56<tspan font-size="6.6" dy="-3.3">dim</tspan><tspan dy="3.3"> CD57</tspan><tspan font-size="6.6" dy="-3.3">-</tspan><tspan dy="3.3"> (% of NK cells)</tspan></text>
<circle cx="454.20" cy="248.71" r="1.4" fill="none" stroke="#f05a48" stroke-width="0.7"/>
<circle cx="454.20" cy="258.48" r="1.4" fill="none" stroke="#f05a48" stroke-width="0.7"/>
<circle cx="454.20" cy="261.26" r="1.4" fill="none" stroke="#f05a48" stroke-width="0.7"/>
<circle cx="454.20" cy="265.45" r="1.4" fill="none" stroke="#f05a48" stroke-width="0.7"/>
<circle cx="454.20" cy="268.24" r="1.4" fill="none" stroke="#f05a48" stroke-width="0.7"/>
<circle cx="451.60" cy="269.63" r="1.4" fill="none" stroke="#f05a48" stroke-width="0.7"/>
<circle cx="454.20" cy="271.03" r="1.4" fill="none" stroke="#f05a48" stroke-width="0.7"/>
<circle cx="451.60" cy="272.43" r="1.4" fill="none" stroke="#f05a48" stroke-width="0.7"/>
<circle cx="456.80" cy="273.12" r="1.4" fill="none" stroke="#f05a48" stroke-width="0.7"/>
<rect x="461.50" y="243.22" width="2.6" height="2.6" fill="none" stroke="#3a6af0" stroke-width="0.7"/>
<rect x="461.50" y="246.01" width="2.6" height="2.6" fill="none" stroke="#3a6af0" stroke-width="0.7"/>
<rect x="458.90" y="247.41" width="2.6" height="2.6" fill="none" stroke="#3a6af0" stroke-width="0.7"/>
<rect x="461.50" y="250.20" width="2.6" height="2.6" fill="none" stroke="#3a6af0" stroke-width="0.7"/>
<rect x="461.50" y="252.99" width="2.6" height="2.6" fill="none" stroke="#3a6af0" stroke-width="0.7"/>
<rect x="461.50" y="257.18" width="2.6" height="2.6" fill="none" stroke="#3a6af0" stroke-width="0.7"/>
<rect x="461.50" y="262.75" width="2.6" height="2.6" fill="none" stroke="#3a6af0" stroke-width="0.7"/>
<rect x="461.50" y="266.94" width="2.6" height="2.6" fill="none" stroke="#3a6af0" stroke-width="0.7"/>
<rect x="461.50" y="273.92" width="2.6" height="2.6" fill="none" stroke="#3a6af0" stroke-width="0.7"/>
<rect x="458.90" y="275.31" width="2.6" height="2.6" fill="none" stroke="#3a6af0" stroke-width="0.7"/>
<path d="M464.00,275.51 L465.10,277.71 L462.90,277.71 Z" fill="none" stroke="#aaa" stroke-width="0.5"/>
<path d="M464.00,271.32 L465.10,273.53 L462.90,273.53 Z" fill="none" stroke="#aaa" stroke-width="0.5"/>
<line x1="450.50" y1="268.24" x2="457.70" y2="268.24" stroke="#222" stroke-width="1.1"/>
<line x1="459.30" y1="254.99" x2="466.50" y2="254.99" stroke="#222" stroke-width="1.1"/>
<circle cx="475.40" cy="247.31" r="1.4" fill="none" stroke="#f05a48" stroke-width="0.7"/>
<circle cx="475.40" cy="262.66" r="1.4" fill="none" stroke="#f05a48" stroke-width="0.7"/>
<circle cx="475.40" cy="265.45" r="1.4" fill="none" stroke="#f05a48" stroke-width="0.7"/>
<circle cx="475.40" cy="268.24" r="1.4" fill="none" stroke="#f05a48" stroke-width="0.7"/>
<circle cx="472.80" cy="269.63" r="1.4" fill="none" stroke="#f05a48" stroke-width="0.7"/>
<circle cx="475.40" cy="272.43" r="1.4" fill="none" stroke="#f05a48" stroke-width="0.7"/>
<circle cx="472.80" cy="273.82" r="1.4" fill="none" stroke="#f05a48" stroke-width="0.7"/>
<circle cx="475.40" cy="276.61" r="1.4" fill="none" stroke="#f05a48" stroke-width="0.7"/>
<rect x="482.70" y="233.46" width="2.6" height="2.6" fill="none" stroke="#3a6af0" stroke-width="0.7"/>
<rect x="482.70" y="240.44" width="2.6" height="2.6" fill="none" stroke="#3a6af0" stroke-width="0.7"/>
<rect x="482.70" y="243.22" width="2.6" height="2.6" fill="none" stroke="#3a6af0" stroke-width="0.7"/>
<rect x="482.70" y="248.80" width="2.6" height="2.6" fill="none" stroke="#3a6af0" stroke-width="0.7"/>
<rect x="480.10" y="250.20" width="2.6" height="2.6" fill="none" stroke="#3a6af0" stroke-width="0.7"/>
<rect x="482.70" y="255.78" width="2.6" height="2.6" fill="none" stroke="#3a6af0" stroke-width="0.7"/>
<rect x="482.70" y="262.75" width="2.6" height="2.6" fill="none" stroke="#3a6af0" stroke-width="0.7"/>
<rect x="480.10" y="264.15" width="2.6" height="2.6" fill="none" stroke="#3a6af0" stroke-width="0.7"/>
<rect x="482.70" y="265.55" width="2.6" height="2.6" fill="none" stroke="#3a6af0" stroke-width="0.7"/>
<rect x="480.10" y="266.94" width="2.6" height="2.6" fill="none" stroke="#3a6af0" stroke-width="0.7"/>
<path d="M485.20,257.38 L486.30,259.58 L484.10,259.58 Z" fill="none" stroke="#aaa" stroke-width="0.5"/>
<path d="M485.20,254.59 L486.30,256.79 L484.10,256.79 Z" fill="none" stroke="#aaa" stroke-width="0.5"/>
<line x1="471.70" y1="268.24" x2="478.90" y2="268.24" stroke="#222" stroke-width="1.1"/>
<line x1="480.50" y1="254.29" x2="487.70" y2="254.29" stroke="#222" stroke-width="1.1"/>
<circle cx="496.30" cy="215.23" r="1.4" fill="none" stroke="#f05a48" stroke-width="0.7"/>
<circle cx="496.30" cy="247.31" r="1.4" fill="none" stroke="#f05a48" stroke-width="0.7"/>
<circle cx="496.30" cy="258.48" r="1.4" fill="none" stroke="#f05a48" stroke-width="0.7"/>
<circle cx="493.70" cy="259.87" r="1.4" fill="none" stroke="#f05a48" stroke-width="0.7"/>
<circle cx="496.30" cy="268.24" r="1.4" fill="none" stroke="#f05a48" stroke-width="0.7"/>
<circle cx="496.30" cy="271.03" r="1.4" fill="none" stroke="#f05a48" stroke-width="0.7"/>
<circle cx="496.30" cy="275.22" r="1.4" fill="none" stroke="#f05a48" stroke-width="0.7"/>
<circle cx="496.30" cy="278.00" r="1.4" fill="none" stroke="#f05a48" stroke-width="0.7"/>
<circle cx="496.30" cy="280.80" r="1.4" fill="none" stroke="#f05a48" stroke-width="0.7"/>
<rect x="503.60" y="241.83" width="2.6" height="2.6" fill="none" stroke="#3a6af0" stroke-width="0.7"/>
<rect x="503.60" y="244.62" width="2.6" height="2.6" fill="none" stroke="#3a6af0" stroke-width="0.7"/>
<rect x="503.60" y="247.41" width="2.6" height="2.6" fill="none" stroke="#3a6af0" stroke-width="0.7"/>
<rect x="503.60" y="250.20" width="2.6" height="2.6" fill="none" stroke="#3a6af0" stroke-width="0.7"/>
<rect x="503.60" y="254.38" width="2.6" height="2.6" fill="none" stroke="#3a6af0" stroke-width="0.7"/>
<rect x="503.60" y="259.96" width="2.6" height="2.6" fill="none" stroke="#3a6af0" stroke-width="0.7"/>
<rect x="503.60" y="264.15" width="2.6" height="2.6" fill="none" stroke="#3a6af0" stroke-width="0.7"/>
<rect x="503.60" y="271.12" width="2.6" height="2.6" fill="none" stroke="#3a6af0" stroke-width="0.7"/>
<rect x="501.00" y="272.52" width="2.6" height="2.6" fill="none" stroke="#3a6af0" stroke-width="0.7"/>
<path d="M506.10,255.98 L507.20,258.18 L505.00,258.18 Z" fill="none" stroke="#aaa" stroke-width="0.5"/>
<path d="M506.10,264.35 L507.20,266.55 L505.00,266.55 Z" fill="none" stroke="#aaa" stroke-width="0.5"/>
<line x1="492.60" y1="268.24" x2="499.80" y2="268.24" stroke="#222" stroke-width="1.1"/>
<line x1="501.40" y1="256.38" x2="508.60" y2="256.38" stroke="#222" stroke-width="1.1"/>
<circle cx="517.20" cy="213.83" r="1.4" fill="none" stroke="#f05a48" stroke-width="0.7"/>
<circle cx="517.20" cy="250.10" r="1.4" fill="none" stroke="#f05a48" stroke-width="0.7"/>
<circle cx="517.20" cy="255.69" r="1.4" fill="none" stroke="#f05a48" stroke-width="0.7"/>
<circle cx="517.20" cy="259.87" r="1.4" fill="none" stroke="#f05a48" stroke-width="0.7"/>
<circle cx="514.60" cy="261.26" r="1.4" fill="none" stroke="#f05a48" stroke-width="0.7"/>
<circle cx="517.20" cy="264.06" r="1.4" fill="none" stroke="#f05a48" stroke-width="0.7"/>
<circle cx="514.60" cy="265.45" r="1.4" fill="none" stroke="#f05a48" stroke-width="0.7"/>
<circle cx="517.20" cy="273.82" r="1.4" fill="none" stroke="#f05a48" stroke-width="0.7"/>
<circle cx="514.60" cy="275.22" r="1.4" fill="none" stroke="#f05a48" stroke-width="0.7"/>
<circle cx="517.20" cy="276.61" r="1.4" fill="none" stroke="#f05a48" stroke-width="0.7"/>
<rect x="524.50" y="240.44" width="2.6" height="2.6" fill="none" stroke="#3a6af0" stroke-width="0.7"/>
<rect x="524.50" y="243.22" width="2.6" height="2.6" fill="none" stroke="#3a6af0" stroke-width="0.7"/>
<rect x="524.50" y="246.01" width="2.6" height="2.6" fill="none" stroke="#3a6af0" stroke-width="0.7"/>
<rect x="524.50" y="250.20" width="2.6" height="2.6" fill="none" stroke="#3a6af0" stroke-width="0.7"/>
<rect x="524.50" y="257.18" width="2.6" height="2.6" fill="none" stroke="#3a6af0" stroke-width="0.7"/>
<rect x="524.50" y="261.36" width="2.6" height="2.6" fill="none" stroke="#3a6af0" stroke-width="0.7"/>
<rect x="524.50" y="273.92" width="2.6" height="2.6" fill="none" stroke="#3a6af0" stroke-width="0.7"/>
<rect x="524.50" y="283.68" width="2.6" height="2.6" fill="none" stroke="#3a6af0" stroke-width="0.7"/>
<path d="M527.00,247.61 L528.10,249.81 L525.90,249.81 Z" fill="none" stroke="#aaa" stroke-width="0.5"/>
<path d="M527.00,253.19 L528.10,255.39 L525.90,255.39 Z" fill="none" stroke="#aaa" stroke-width="0.5"/>
<line x1="513.50" y1="264.06" x2="520.70" y2="264.06" stroke="#222" stroke-width="1.1"/>
<line x1="522.30" y1="253.59" x2="529.50" y2="253.59" stroke="#222" stroke-width="1.1"/>
<line x1="584.00" y1="195.30" x2="584.00" y2="307.30" stroke="#333" stroke-width="0.9"/>
<line x1="584.00" y1="307.30" x2="665.10" y2="307.30" stroke="#333" stroke-width="0.9"/>
<line x1="580.00" y1="307.30" x2="584.00" y2="307.30" stroke="#333" stroke-width="0.9"/>
<text x="578.40" y="310.30" font-size="8.6" text-anchor="end" fill="#222">0</text>
<line x1="580.00" y1="279.40" x2="584.00" y2="279.40" stroke="#333" stroke-width="0.9"/>
<text x="578.40" y="282.40" font-size="8.6" text-anchor="end" fill="#222">20</text>
<line x1="580.00" y1="251.50" x2="584.00" y2="251.50" stroke="#333" stroke-width="0.9"/>
<text x="578.40" y="254.50" font-size="8.6" text-anchor="end" fill="#222">40</text>
<line x1="580.00" y1="223.60" x2="584.00" y2="223.60" stroke="#333" stroke-width="0.9"/>
<text x="578.40" y="226.60" font-size="8.6" text-anchor="end" fill="#222">60</text>
<line x1="580.00" y1="195.70" x2="584.00" y2="195.70" stroke="#333" stroke-width="0.9"/>
<text x="578.40" y="198.70" font-size="8.6" text-anchor="end" fill="#222">80</text>
<line x1="593.40" y1="307.30" x2="593.40" y2="311.30" stroke="#333" stroke-width="0.9"/>
<text x="593.40" y="322.10" font-size="8.5" text-anchor="middle" fill="#222">-1</text>
<line x1="614.40" y1="307.30" x2="614.40" y2="311.30" stroke="#333" stroke-width="0.9"/>
<text x="614.40" y="322.10" font-size="8.5" text-anchor="middle" fill="#222">3</text>
<line x1="634.90" y1="307.30" x2="634.90" y2="311.30" stroke="#333" stroke-width="0.9"/>
<text x="634.90" y="322.10" font-size="8.5" text-anchor="middle" fill="#222">7/10</text>
<line x1="655.90" y1="307.30" x2="655.90" y2="311.30" stroke="#333" stroke-width="0.9"/>
<text x="655.90" y="322.10" font-size="8.5" text-anchor="middle" fill="#222">14</text>
<text x="624.55" y="334.80" font-size="8.8" text-anchor="middle" fill="#222">Day post-inoculation</text>
<text x="563.40" y="251.40" font-size="8.9" text-anchor="middle" fill="#222" transform="rotate(-90 563.40 251.40)">CD56<tspan font-size="6.6" dy="-3.3">dim</tspan><tspan dy="3.3"> CD57</tspan><tspan font-size="6.6" dy="-3.3">+</tspan><tspan dy="3.3"> (% of NK cells)</tspan></text>
<circle cx="589.10" cy="227.78" r="1.4" fill="none" stroke="#f05a48" stroke-width="0.7"/>
<circle cx="589.10" cy="230.57" r="1.4" fill="none" stroke="#f05a48" stroke-width="0.7"/>
<circle cx="589.10" cy="234.76" r="1.4" fill="none" stroke="#f05a48" stroke-width="0.7"/>
<circle cx="586.50" cy="236.16" r="1.4" fill="none" stroke="#f05a48" stroke-width="0.7"/>
<circle cx="589.10" cy="238.94" r="1.4" fill="none" stroke="#f05a48" stroke-width="0.7"/>
<circle cx="589.10" cy="241.74" r="1.4" fill="none" stroke="#f05a48" stroke-width="0.7"/>
<circle cx="586.50" cy="243.13" r="1.4" fill="none" stroke="#f05a48" stroke-width="0.7"/>
<circle cx="589.10" cy="245.92" r="1.4" fill="none" stroke="#f05a48" stroke-width="0.7"/>
<circle cx="589.10" cy="248.71" r="1.4" fill="none" stroke="#f05a48" stroke-width="0.7"/>
<circle cx="586.50" cy="250.10" r="1.4" fill="none" stroke="#f05a48" stroke-width="0.7"/>
<circle cx="589.10" cy="254.29" r="1.4" fill="none" stroke="#f05a48" stroke-width="0.7"/>
<circle cx="586.50" cy="255.69" r="1.4" fill="none" stroke="#f05a48" stroke-width="0.7"/>
<rect x="596.40" y="219.51" width="2.6" height="2.6" fill="none" stroke="#3a6af0" stroke-width="0.7"/>
<rect x="596.40" y="225.09" width="2.6" height="2.6" fill="none" stroke="#3a6af0" stroke-width="0.7"/>
<rect x="596.40" y="229.27" width="2.6" height="2.6" fill="none" stroke="#3a6af0" stroke-width="0.7"/>
<rect x="596.40" y="236.25" width="2.6" height="2.6" fill="none" stroke="#3a6af0" stroke-width="0.7"/>
<rect x="596.40" y="241.83" width="2.6" height="2.6" fill="none" stroke="#3a6af0" stroke-width="0.7"/>
<rect x="596.40" y="257.18" width="2.6" height="2.6" fill="none" stroke="#3a6af0" stroke-width="0.7"/>
<rect x="596.40" y="259.96" width="2.6" height="2.6" fill="none" stroke="#3a6af0" stroke-width="0.7"/>
<rect x="596.40" y="262.75" width="2.6" height="2.6" fill="none" stroke="#3a6af0" stroke-width="0.7"/>
<rect x="593.80" y="264.15" width="2.6" height="2.6" fill="none" stroke="#3a6af0" stroke-width="0.7"/>
<rect x="596.40" y="271.12" width="2.6" height="2.6" fill="none" stroke="#3a6af0" stroke-width="0.7"/>
<path d="M598.90,223.90 L600.00,226.09 L597.80,226.09 Z" fill="none" stroke="#aaa" stroke-width="0.5"/>
<path d="M598.90,271.32 L600.00,273.53 L597.80,273.53 Z" fill="none" stroke="#aaa" stroke-width="0.5"/>
<line x1="585.40" y1="242.43" x2="592.60" y2="242.43" stroke="#222" stroke-width="1.1"/>
<line x1="594.20" y1="250.10" x2="601.40" y2="250.10" stroke="#222" stroke-width="1.1"/>
<circle cx="610.10" cy="227.78" r="1.4" fill="none" stroke="#f05a48" stroke-width="0.7"/>
<circle cx="610.10" cy="233.37" r="1.4" fill="none" stroke="#f05a48" stroke-width="0.7"/>
<circle cx="607.50" cy="234.76" r="1.4" fill="none" stroke="#f05a48" stroke-width="0.7"/>
<circle cx="610.10" cy="237.55" r="1.4" fill="none" stroke="#f05a48" stroke-width="0.7"/>
<circle cx="607.50" cy="238.94" r="1.4" fill="none" stroke="#f05a48" stroke-width="0.7"/>
<circle cx="610.10" cy="240.34" r="1.4" fill="none" stroke="#f05a48" stroke-width="0.7"/>
<circle cx="610.10" cy="244.53" r="1.4" fill="none" stroke="#f05a48" stroke-width="0.7"/>
<circle cx="610.10" cy="254.29" r="1.4" fill="none" stroke="#f05a48" stroke-width="0.7"/>
<circle cx="607.50" cy="255.69" r="1.4" fill="none" stroke="#f05a48" stroke-width="0.7"/>
<rect x="617.40" y="243.22" width="2.6" height="2.6" fill="none" stroke="#3a6af0" stroke-width="0.7"/>
<rect x="614.80" y="244.62" width="2.6" height="2.6" fill="none" stroke="#3a6af0" stroke-width="0.7"/>
<rect x="617.40" y="247.41" width="2.6" height="2.6" fill="none" stroke="#3a6af0" stroke-width="0.7"/>
<rect x="617.40" y="252.99" width="2.6" height="2.6" fill="none" stroke="#3a6af0" stroke-width="0.7"/>
<rect x="617.40" y="257.18" width="2.6" height="2.6" fill="none" stroke="#3a6af0" stroke-width="0.7"/>
<rect x="614.80" y="258.57" width="2.6" height="2.6" fill="none" stroke="#3a6af0" stroke-width="0.7"/>
<rect x="617.40" y="259.96" width="2.6" height="2.6" fill="none" stroke="#3a6af0" stroke-width="0.7"/>
<rect x="617.40" y="266.94" width="2.6" height="2.6" fill="none" stroke="#3a6af0" stroke-width="0.7"/>
<rect x="614.80" y="268.33" width="2.6" height="2.6" fill="none" stroke="#3a6af0" stroke-width="0.7"/>
<path d="M619.90,247.61 L621.00,249.81 L618.80,249.81 Z" fill="none" stroke="#aaa" stroke-width="0.5"/>
<path d="M619.90,255.98 L621.00,258.18 L618.80,258.18 Z" fill="none" stroke="#aaa" stroke-width="0.5"/>
<line x1="606.40" y1="238.94" x2="613.60" y2="238.94" stroke="#222" stroke-width="1.1"/>
<line x1="615.20" y1="258.48" x2="622.40" y2="258.48" stroke="#222" stroke-width="1.1"/>
<circle cx="630.60" cy="222.20" r="1.4" fill="none" stroke="#f05a48" stroke-width="0.7"/>
<circle cx="630.60" cy="226.39" r="1.4" fill="none" stroke="#f05a48" stroke-width="0.7"/>
<circle cx="630.60" cy="230.57" r="1.4" fill="none" stroke="#f05a48" stroke-width="0.7"/>
<circle cx="630.60" cy="233.37" r="1.4" fill="none" stroke="#f05a48" stroke-width="0.7"/>
<circle cx="630.60" cy="237.55" r="1.4" fill="none" stroke="#f05a48" stroke-width="0.7"/>
<circle cx="628.00" cy="238.94" r="1.4" fill="none" stroke="#f05a48" stroke-width="0.7"/>
<circle cx="630.60" cy="240.34" r="1.4" fill="none" stroke="#f05a48" stroke-width="0.7"/>
<circle cx="630.60" cy="247.31" r="1.4" fill="none" stroke="#f05a48" stroke-width="0.7"/>
<circle cx="630.60" cy="254.29" r="1.4" fill="none" stroke="#f05a48" stroke-width="0.7"/>
<circle cx="630.60" cy="265.45" r="1.4" fill="none" stroke="#f05a48" stroke-width="0.7"/>
<circle cx="630.60" cy="287.77" r="1.4" fill="none" stroke="#f05a48" stroke-width="0.7"/>
<rect x="637.90" y="209.74" width="2.6" height="2.6" fill="none" stroke="#3a6af0" stroke-width="0.7"/>
<rect x="637.90" y="232.06" width="2.6" height="2.6" fill="none" stroke="#3a6af0" stroke-width="0.7"/>
<rect x="637.90" y="239.04" width="2.6" height="2.6" fill="none" stroke="#3a6af0" stroke-width="0.7"/>
<rect x="635.30" y="240.44" width="2.6" height="2.6" fill="none" stroke="#3a6af0" stroke-width="0.7"/>
<rect x="637.90" y="246.01" width="2.6" height="2.6" fill="none" stroke="#3a6af0" stroke-width="0.7"/>
<rect x="637.90" y="250.20" width="2.6" height="2.6" fill="none" stroke="#3a6af0" stroke-width="0.7"/>
<rect x="637.90" y="252.99" width="2.6" height="2.6" fill="none" stroke="#3a6af0" stroke-width="0.7"/>
<rect x="637.90" y="255.78" width="2.6" height="2.6" fill="none" stroke="#3a6af0" stroke-width="0.7"/>
<rect x="637.90" y="258.57" width="2.6" height="2.6" fill="none" stroke="#3a6af0" stroke-width="0.7"/>
<rect x="637.90" y="268.33" width="2.6" height="2.6" fill="none" stroke="#3a6af0" stroke-width="0.7"/>
<path d="M640.40,239.24 L641.50,241.44 L639.30,241.44 Z" fill="none" stroke="#aaa" stroke-width="0.5"/>
<path d="M640.40,250.40 L641.50,252.60 L639.30,252.60 Z" fill="none" stroke="#aaa" stroke-width="0.5"/>
<line x1="626.90" y1="238.25" x2="634.10" y2="238.25" stroke="#222" stroke-width="1.1"/>
<line x1="635.70" y1="252.20" x2="642.90" y2="252.20" stroke="#222" stroke-width="1.1"/>
<circle cx="651.60" cy="225.00" r="1.4" fill="none" stroke="#f05a48" stroke-width="0.7"/>
<circle cx="651.60" cy="227.78" r="1.4" fill="none" stroke="#f05a48" stroke-width="0.7"/>
<circle cx="649.00" cy="229.18" r="1.4" fill="none" stroke="#f05a48" stroke-width="0.7"/>
<circle cx="651.60" cy="237.55" r="1.4" fill="none" stroke="#f05a48" stroke-width="0.7"/>
<circle cx="651.60" cy="241.74" r="1.4" fill="none" stroke="#f05a48" stroke-width="0.7"/>
<circle cx="649.00" cy="243.13" r="1.4" fill="none" stroke="#f05a48" stroke-width="0.7"/>
<circle cx="651.60" cy="247.31" r="1.4" fill="none" stroke="#f05a48" stroke-width="0.7"/>
<circle cx="651.60" cy="252.90" r="1.4" fill="none" stroke="#f05a48" stroke-width="0.7"/>
<circle cx="651.60" cy="257.08" r="1.4" fill="none" stroke="#f05a48" stroke-width="0.7"/>
<circle cx="651.60" cy="261.26" r="1.4" fill="none" stroke="#f05a48" stroke-width="0.7"/>
<circle cx="651.60" cy="284.98" r="1.4" fill="none" stroke="#f05a48" stroke-width="0.7"/>
<rect x="658.90" y="212.53" width="2.6" height="2.6" fill="none" stroke="#3a6af0" stroke-width="0.7"/>
<rect x="658.90" y="236.25" width="2.6" height="2.6" fill="none" stroke="#3a6af0" stroke-width="0.7"/>
<rect x="658.90" y="239.04" width="2.6" height="2.6" fill="none" stroke="#3a6af0" stroke-width="0.7"/>
<rect x="658.90" y="241.83" width="2.6" height="2.6" fill="none" stroke="#3a6af0" stroke-width="0.7"/>
<rect x="658.90" y="250.20" width="2.6" height="2.6" fill="none" stroke="#3a6af0" stroke-width="0.7"/>
<rect x="658.90" y="259.96" width="2.6" height="2.6" fill="none" stroke="#3a6af0" stroke-width="0.7"/>
<rect x="656.30" y="261.36" width="2.6" height="2.6" fill="none" stroke="#3a6af0" stroke-width="0.7"/>
<rect x="658.90" y="265.55" width="2.6" height="2.6" fill="none" stroke="#3a6af0" stroke-width="0.7"/>
<rect x="658.90" y="268.33" width="2.6" height="2.6" fill="none" stroke="#3a6af0" stroke-width="0.7"/>
<path d="M661.40,242.03 L662.50,244.23 L660.30,244.23 Z" fill="none" stroke="#aaa" stroke-width="0.5"/>
<path d="M661.40,258.77 L662.50,260.97 L660.30,260.97 Z" fill="none" stroke="#aaa" stroke-width="0.5"/>
<line x1="647.90" y1="244.53" x2="655.10" y2="244.53" stroke="#222" stroke-width="1.1"/>
<line x1="656.70" y1="252.20" x2="663.90" y2="252.20" stroke="#222" stroke-width="1.1"/>
<path d="M475.5,207 V200.4 H483.8 V207" fill="none" stroke="#222" stroke-width="0.9"/>
<text x="479.60" y="200.25" font-size="11" text-anchor="middle" font-weight="bold">*</text>
<path d="M610.3,204.9 V198.7 H618.5 V204.9" fill="none" stroke="#222" stroke-width="0.9"/>
<text x="614.40" y="197.65" font-size="11" text-anchor="middle" font-weight="bold">**</text>
<line x1="617.90" y1="208.00" x2="640.50" y2="208.00" stroke="#5a82f0" stroke-width="0.9"/>
<text x="629.20" y="207.85" font-size="11" text-anchor="middle" font-weight="bold" fill="#2a5af0">*</text>
<text x="0.00" y="355.20" font-size="13.5" font-weight="bold">f</text>
<text x="25.70" y="357.50" font-size="10.6">Infected</text>
<text x="24.50" y="465.90" font-size="10.6">Uninfected</text>
<g filter="url(#blurD)">
<g transform="translate(66.55,439.80) scale(0.4377,-0.4620)" fill="#d6d6d6">
<path d="M64.5,137.7C64.8,140.1 69.2,144.6 72.0,147.7C74.8,150.8 77.8,154.3 81.0,156.2C84.2,158.1 87.5,159.0 91.5,159.0C95.5,159.0 101.8,158.3 105.0,156.2C108.2,154.1 110.8,149.5 111.0,146.3C111.2,143.1 108.0,139.6 106.0,137.0C104.0,134.4 102.7,132.2 99.0,131.0C95.3,129.8 88.8,129.2 84.0,129.5C79.2,129.8 73.2,131.6 70.0,133.0C66.8,134.4 64.2,135.2 64.5,137.7Z"/>
<path d="M109.0,145.0C109.8,146.7 113.7,144.4 117.0,144.4C120.3,144.4 125.0,146.1 129.0,145.0C133.0,143.9 138.0,140.6 141.0,137.7C144.0,134.8 147.2,130.1 147.0,127.8C146.8,125.5 143.7,124.0 140.0,124.0C136.3,124.0 129.7,126.3 125.0,128.0C120.3,129.7 114.7,131.2 112.0,134.0C109.3,136.8 108.2,143.3 109.0,145.0Z"/>
<path d="M93.0,124.9C93.7,126.9 106.4,128.4 108.0,129.2C109.6,130.0 110.6,134.1 112.0,134.0C113.4,133.9 122.7,128.8 125.0,128.0C127.3,127.2 138.2,124.1 140.0,124.0C141.8,123.9 145.5,127.5 146.0,127.0C146.5,126.5 146.0,120.0 145.5,117.8C145.0,115.5 140.5,102.4 140.0,100.0C139.5,97.6 138.8,91.5 139.0,89.4C139.2,87.3 142.2,76.8 142.0,75.0C141.8,73.2 138.3,68.8 137.0,68.0C135.7,67.2 127.8,66.0 126.0,66.0C124.2,66.0 116.2,67.7 115.0,68.0C113.8,68.3 111.6,68.2 111.0,70.0C110.4,71.8 108.9,86.1 108.0,89.0C107.1,91.9 101.2,102.0 100.0,105.0C98.8,108.0 92.3,122.9 93.0,124.9Z"/>
<path d="M148.0,109.3C150.7,112.1 155.9,109.2 159.0,106.4C162.1,103.6 166.0,96.9 166.5,92.2C167.0,87.5 164.9,80.8 162.0,78.0C159.1,75.2 152.2,73.3 149.0,75.2C145.8,77.1 143.2,83.7 143.0,89.4C142.8,95.1 145.3,106.5 148.0,109.3Z"/>
<path d="M39.0,127.8C41.0,128.8 49.0,129.3 51.0,129.2C53.0,129.1 60.8,126.9 63.0,126.3C65.2,125.7 75.5,121.7 78.0,121.5C80.5,121.3 91.2,125.4 93.0,124.0C94.8,122.6 98.8,107.9 100.0,105.0C101.2,102.1 107.1,91.9 108.0,89.0C108.9,86.1 111.0,71.9 111.0,70.0C111.0,68.1 109.3,67.4 108.0,66.6C106.7,65.8 97.3,61.4 95.0,60.0C92.7,58.6 82.4,51.7 80.0,50.0C77.6,48.3 68.1,41.5 66.0,40.0C63.9,38.5 57.0,32.2 55.0,32.0C53.0,31.8 44.0,36.6 42.0,37.5C40.0,38.4 33.0,42.0 31.5,43.0C30.0,44.0 24.9,48.1 24.0,49.6C23.1,51.1 21.2,58.9 21.0,61.0C20.8,63.1 21.1,72.6 21.0,75.2C20.9,77.8 19.5,89.6 19.5,92.2C19.5,94.8 20.4,104.3 21.0,106.4C21.6,108.5 25.5,116.0 27.0,117.8C28.5,119.6 37.0,126.8 39.0,127.8Z"/>
<path d="M55.0,32.0C55.2,33.2 63.9,38.5 66.0,40.0C68.1,41.5 77.6,48.3 80.0,50.0C82.4,51.7 92.7,58.6 95.0,60.0C97.3,61.4 106.6,66.3 108.0,66.6C109.4,66.8 111.3,64.1 112.0,63.0C112.7,61.9 115.2,54.8 116.0,53.0C116.8,51.2 120.3,42.9 121.0,41.0C121.7,39.1 124.6,31.5 124.5,29.7C124.4,27.9 121.1,20.5 120.0,19.0C118.9,17.5 112.8,12.6 111.0,11.6C109.2,10.6 100.9,7.6 99.0,7.3C97.1,7.0 89.9,7.7 88.0,8.5C86.1,9.3 78.0,15.5 76.0,17.0C74.0,18.5 65.8,24.8 64.0,26.0C62.2,27.2 54.8,30.8 55.0,32.0Z"/>
<path d="M-1.0,78.0C-0.7,80.7 -0.2,84.7 1.0,87.0C2.2,89.3 4.3,91.3 6.0,92.0C7.7,92.7 9.5,92.3 11.0,91.0C12.5,89.7 14.2,87.2 15.0,84.0C15.8,80.8 16.3,75.5 16.0,72.0C15.7,68.5 14.5,64.8 13.0,63.0C11.5,61.2 9.0,60.8 7.0,61.0C5.0,61.2 2.3,62.3 1.0,64.0C-0.3,65.7 -0.7,68.7 -1.0,71.0C-1.3,73.3 -1.3,75.3 -1.0,78.0Z"/>
<path d="M130.0,57.0a9.0,7.5 0 1,0 18.0,0a9.0,7.5 0 1,0 -18.0,0Z"/>
<path d="M145.5,56.0a8.0,6.5 0 1,0 16.0,0a8.0,6.5 0 1,0 -16.0,0Z"/>
<path d="M128.0,43.0a6.0,4.5 0 1,0 12.0,0a6.0,4.5 0 1,0 -12.0,0Z"/>
<path d="M129.0,27.0a6.0,7.0 0 1,0 12.0,0a6.0,7.0 0 1,0 -12.0,0Z"/>
<path d="M76.5,7.5a5.5,4.2 0 1,0 11.0,0a5.5,4.2 0 1,0 -11.0,0Z"/>
<path d="M63.5,13.2C63.8,13.9 63.8,14.8 63.3,15.8C62.9,16.7 62.1,17.9 61.0,18.9C59.9,20.0 58.4,21.2 56.8,22.3C55.2,23.3 53.3,24.4 51.5,25.3C49.6,26.1 47.5,26.9 45.7,27.4C43.9,28.0 42.0,28.4 40.5,28.5C39.0,28.6 37.5,28.5 36.5,28.3C35.5,28.0 34.8,27.4 34.5,26.8C34.2,26.1 34.2,25.2 34.7,24.2C35.1,23.3 35.9,22.1 37.0,21.1C38.1,20.0 39.6,18.8 41.2,17.7C42.8,16.7 44.7,15.6 46.5,14.7C48.4,13.9 50.5,13.1 52.3,12.6C54.1,12.0 56.0,11.6 57.5,11.5C59.0,11.4 60.5,11.5 61.5,11.7C62.5,12.0 63.2,12.6 63.5,13.2Z"/>
<path d="M68.3,8.5a3.2,3.2 0 1,0 6.4,0a3.2,3.2 0 1,0 -6.4,0Z"/>
</g>
<ellipse cx="98" cy="405" rx="26" ry="22" fill="#9a9a9a" opacity="0.8"/>
<ellipse cx="135.8" cy="391.5" rx="5.2" ry="5.2" fill="rgb(170,170,170)"/>
<ellipse cx="100.4" cy="436.2" rx="3.9" ry="3.2" fill="rgb(164,164,164)"/>
<ellipse cx="96.4" cy="436.2" rx="3.9" ry="3.2" fill="rgb(160,160,160)"/>
<ellipse cx="118.0" cy="372.0" rx="5.2" ry="3.9" fill="rgb(160,160,160)"/>
<ellipse cx="87.2" cy="429.6" rx="6.5" ry="5.2" fill="rgb(150,150,150)"/>
<ellipse cx="105.6" cy="371.8" rx="10.4" ry="6.5" fill="rgb(144,144,144)"/>
<ellipse cx="122.7" cy="379.7" rx="7.8" ry="6.5" fill="rgb(140,140,140)"/>
<ellipse cx="87.2" cy="383.6" rx="5.2" ry="5.2" fill="rgb(140,140,140)"/>
<ellipse cx="130.6" cy="403.4" rx="6.5" ry="6.5" fill="rgb(130,130,130)"/>
<ellipse cx="109.6" cy="428.3" rx="7.8" ry="6.5" fill="rgb(130,130,130)"/>
<ellipse cx="134.5" cy="399.4" rx="3.9" ry="3.9" fill="rgb(130,130,130)"/>
<ellipse cx="84.0" cy="423.0" rx="5.2" ry="3.9" fill="rgb(130,130,130)"/>
<ellipse cx="78.0" cy="402.0" rx="5.2" ry="5.2" fill="rgb(120,120,120)"/>
<ellipse cx="70.1" cy="399.4" rx="3.9" ry="3.9" fill="rgb(120,120,120)"/>
<ellipse cx="100.0" cy="427.0" rx="5.2" ry="3.9" fill="rgb(120,120,120)"/>
<ellipse cx="104.3" cy="391.5" rx="5.2" ry="5.2" fill="rgb(109,109,109)"/>
<ellipse cx="82.0" cy="391.5" rx="3.9" ry="3.9" fill="rgb(109,109,109)"/>
<ellipse cx="79.3" cy="413.9" rx="5.2" ry="5.2" fill="rgb(109,109,109)"/>
<ellipse cx="110.0" cy="408.0" rx="6.5" ry="5.2" fill="rgb(109,109,109)"/>
<ellipse cx="121.4" cy="394.2" rx="5.2" ry="5.2" fill="rgb(99,99,99)"/>
<ellipse cx="80.6" cy="394.2" rx="5.2" ry="5.2" fill="rgb(99,99,99)"/>
<ellipse cx="112.2" cy="417.8" rx="5.2" ry="5.2" fill="rgb(99,99,99)"/>
<ellipse cx="125.3" cy="387.6" rx="3.2" ry="3.2" fill="rgb(88,88,88)"/>
<ellipse cx="98.0" cy="409.0" rx="5.2" ry="3.9" fill="rgb(88,88,88)"/>
<ellipse cx="96.4" cy="399.4" rx="5.2" ry="5.2" fill="rgb(77,77,77)"/>
<ellipse cx="128.0" cy="379.7" rx="3.6" ry="3.6" fill="rgb(66,66,66)"/>
<ellipse cx="107.0" cy="420.4" rx="5.8" ry="5.8" fill="rgb(66,66,66)"/>
<ellipse cx="125.3" cy="428.3" rx="3.6" ry="3.6" fill="rgb(66,66,66)"/>
<ellipse cx="114.8" cy="386.3" rx="4.3" ry="4.3" fill="rgb(55,55,55)"/>
<ellipse cx="103.0" cy="399.4" rx="5.8" ry="5.8" fill="rgb(55,55,55)"/>
<ellipse cx="96.4" cy="416.5" rx="5.8" ry="5.8" fill="rgb(55,55,55)"/>
<ellipse cx="100.4" cy="373.8" rx="3.8" ry="3.2" fill="rgb(43,43,43)"/>
<ellipse cx="110.9" cy="384.3" rx="7.2" ry="5.1" fill="rgb(43,43,43)"/>
<ellipse cx="89.8" cy="398.1" rx="8.7" ry="7.2" fill="rgb(43,43,43)"/>
<ellipse cx="89.8" cy="416.5" rx="7.2" ry="5.8" fill="rgb(43,43,43)"/>
<ellipse cx="134.5" cy="415.2" rx="3.6" ry="3.6" fill="rgb(43,43,43)"/>
<ellipse cx="117.4" cy="399.4" rx="5.8" ry="8.0" fill="rgb(32,32,32)"/>
<ellipse cx="128.0" cy="412.6" rx="4.3" ry="4.3" fill="rgb(32,32,32)"/>
<ellipse cx="92.5" cy="407.3" rx="5.1" ry="5.1" fill="rgb(19,19,19)"/>
<ellipse cx="69.5" cy="408.6" rx="2.9" ry="2.9" fill="rgb(19,19,19)"/>
<ellipse cx="67.5" cy="405.3" rx="3.5" ry="3.8" fill="rgb(5,5,5)"/>
</g>
<path d="M57.5,360.5 H147.5 V449.5 H57.5 Z" fill="none" stroke="#999" stroke-width="1"/>
<line x1="55.90" y1="444.42" x2="57.50" y2="444.42" stroke="#111" stroke-width="0.6"/>
<line x1="54.50" y1="439.80" x2="57.50" y2="439.80" stroke="#111" stroke-width="1"/>
<text x="51.50" y="441.10" font-size="3.3" text-anchor="end" fill="#555">0</text>
<line x1="55.90" y1="435.18" x2="57.50" y2="435.18" stroke="#111" stroke-width="0.6"/>
<line x1="55.90" y1="430.56" x2="57.50" y2="430.56" stroke="#111" stroke-width="0.6"/>
<line x1="55.90" y1="425.94" x2="57.50" y2="425.94" stroke="#111" stroke-width="0.6"/>
<line x1="55.90" y1="421.32" x2="57.50" y2="421.32" stroke="#111" stroke-width="0.6"/>
<line x1="54.50" y1="416.70" x2="57.50" y2="416.70" stroke="#111" stroke-width="1"/>
<text x="51.50" y="418.00" font-size="3.3" text-anchor="end" fill="#555">50</text>
<line x1="55.90" y1="412.08" x2="57.50" y2="412.08" stroke="#111" stroke-width="0.6"/>
<line x1="55.90" y1="407.46" x2="57.50" y2="407.46" stroke="#111" stroke-width="0.6"/>
<line x1="55.90" y1="402.84" x2="57.50" y2="402.84" stroke="#111" stroke-width="0.6"/>
<line x1="55.90" y1="398.22" x2="57.50" y2="398.22" stroke="#111" stroke-width="0.6"/>
<line x1="54.50" y1="393.60" x2="57.50" y2="393.60" stroke="#111" stroke-width="1"/>
<text x="51.50" y="394.90" font-size="3.3" text-anchor="end" fill="#555">100</text>
<line x1="55.90" y1="388.98" x2="57.50" y2="388.98" stroke="#111" stroke-width="0.6"/>
<line x1="55.90" y1="384.36" x2="57.50" y2="384.36" stroke="#111" stroke-width="0.6"/>
<line x1="55.90" y1="379.74" x2="57.50" y2="379.74" stroke="#111" stroke-width="0.6"/>
<line x1="55.90" y1="375.12" x2="57.50" y2="375.12" stroke="#111" stroke-width="0.6"/>
<line x1="54.50" y1="370.50" x2="57.50" y2="370.50" stroke="#111" stroke-width="1"/>
<text x="51.50" y="371.80" font-size="3.3" text-anchor="end" fill="#555">150</text>
<line x1="55.90" y1="365.88" x2="57.50" y2="365.88" stroke="#111" stroke-width="0.6"/>
<line x1="55.90" y1="361.26" x2="57.50" y2="361.26" stroke="#111" stroke-width="0.6"/>
<line x1="62.17" y1="449.50" x2="62.17" y2="451.10" stroke="#111" stroke-width="0.6"/>
<line x1="66.55" y1="449.50" x2="66.55" y2="452.50" stroke="#111" stroke-width="1"/>
<text x="66.55" y="456.10" font-size="3.3" text-anchor="middle" fill="#555">0</text>
<line x1="70.93" y1="449.50" x2="70.93" y2="451.10" stroke="#111" stroke-width="0.6"/>
<line x1="75.30" y1="449.50" x2="75.30" y2="451.10" stroke="#111" stroke-width="0.6"/>
<line x1="79.68" y1="449.50" x2="79.68" y2="451.10" stroke="#111" stroke-width="0.6"/>
<line x1="84.06" y1="449.50" x2="84.06" y2="451.10" stroke="#111" stroke-width="0.6"/>
<line x1="88.44" y1="449.50" x2="88.44" y2="452.50" stroke="#111" stroke-width="1"/>
<text x="88.44" y="456.10" font-size="3.3" text-anchor="middle" fill="#555">50</text>
<line x1="92.81" y1="449.50" x2="92.81" y2="451.10" stroke="#111" stroke-width="0.6"/>
<line x1="97.19" y1="449.50" x2="97.19" y2="451.10" stroke="#111" stroke-width="0.6"/>
<line x1="101.57" y1="449.50" x2="101.57" y2="451.10" stroke="#111" stroke-width="0.6"/>
<line x1="105.94" y1="449.50" x2="105.94" y2="451.10" stroke="#111" stroke-width="0.6"/>
<line x1="110.32" y1="449.50" x2="110.32" y2="452.50" stroke="#111" stroke-width="1"/>
<text x="110.32" y="456.10" font-size="3.3" text-anchor="middle" fill="#555">100</text>
<line x1="114.70" y1="449.50" x2="114.70" y2="451.10" stroke="#111" stroke-width="0.6"/>
<line x1="119.07" y1="449.50" x2="119.07" y2="451.10" stroke="#111" stroke-width="0.6"/>
<line x1="123.45" y1="449.50" x2="123.45" y2="451.10" stroke="#111" stroke-width="0.6"/>
<line x1="127.83" y1="449.50" x2="127.83" y2="451.10" stroke="#111" stroke-width="0.6"/>
<line x1="132.20" y1="449.50" x2="132.20" y2="452.50" stroke="#111" stroke-width="1"/>
<text x="132.20" y="456.10" font-size="3.3" text-anchor="middle" fill="#555">150</text>
<line x1="136.58" y1="449.50" x2="136.58" y2="451.10" stroke="#111" stroke-width="0.6"/>
<line x1="140.96" y1="449.50" x2="140.96" y2="451.10" stroke="#111" stroke-width="0.6"/>
<line x1="145.34" y1="449.50" x2="145.34" y2="451.10" stroke="#111" stroke-width="0.6"/>
<g filter="url(#spF)"><g transform="translate(168.95,439.80) scale(0.4377,-0.4620)"><g clip-path="url(#tclip)">
<path d="M39.0,127.8C41.0,128.8 49.0,129.3 51.0,129.2C53.0,129.1 60.8,126.9 63.0,126.3C65.2,125.7 75.5,121.7 78.0,121.5C80.5,121.3 91.2,125.4 93.0,124.0C94.8,122.6 98.8,107.9 100.0,105.0C101.2,102.1 107.1,91.9 108.0,89.0C108.9,86.1 111.0,71.9 111.0,70.0C111.0,68.1 109.3,67.4 108.0,66.6C106.7,65.8 97.3,61.4 95.0,60.0C92.7,58.6 82.4,51.7 80.0,50.0C77.6,48.3 68.1,41.5 66.0,40.0C63.9,38.5 57.0,32.2 55.0,32.0C53.0,31.8 44.0,36.6 42.0,37.5C40.0,38.4 33.0,42.0 31.5,43.0C30.0,44.0 24.9,48.1 24.0,49.6C23.1,51.1 21.2,58.9 21.0,61.0C20.8,63.1 21.1,72.6 21.0,75.2C20.9,77.8 19.5,89.6 19.5,92.2C19.5,94.8 20.4,104.3 21.0,106.4C21.6,108.5 25.5,116.0 27.0,117.8C28.5,119.6 37.0,126.8 39.0,127.8Z" fill="#a2e632"/>
<path d="M55.0,32.0C55.2,33.2 63.9,38.5 66.0,40.0C68.1,41.5 77.6,48.3 80.0,50.0C82.4,51.7 92.7,58.6 95.0,60.0C97.3,61.4 106.6,66.3 108.0,66.6C109.4,66.8 111.3,64.1 112.0,63.0C112.7,61.9 115.2,54.8 116.0,53.0C116.8,51.2 120.3,42.9 121.0,41.0C121.7,39.1 124.6,31.5 124.5,29.7C124.4,27.9 121.1,20.5 120.0,19.0C118.9,17.5 112.8,12.6 111.0,11.6C109.2,10.6 100.9,7.6 99.0,7.3C97.1,7.0 89.9,7.7 88.0,8.5C86.1,9.3 78.0,15.5 76.0,17.0C74.0,18.5 65.8,24.8 64.0,26.0C62.2,27.2 54.8,30.8 55.0,32.0Z" fill="#8ee232"/>
<path d="M93.0,124.9C93.7,126.9 106.4,128.4 108.0,129.2C109.6,130.0 110.6,134.1 112.0,134.0C113.4,133.9 122.7,128.8 125.0,128.0C127.3,127.2 138.2,124.1 140.0,124.0C141.8,123.9 145.5,127.5 146.0,127.0C146.5,126.5 146.0,120.0 145.5,117.8C145.0,115.5 140.5,102.4 140.0,100.0C139.5,97.6 138.8,91.5 139.0,89.4C139.2,87.3 142.2,76.8 142.0,75.0C141.8,73.2 138.3,68.8 137.0,68.0C135.7,67.2 127.8,66.0 126.0,66.0C124.2,66.0 116.2,67.7 115.0,68.0C113.8,68.3 111.6,68.2 111.0,70.0C110.4,71.8 108.9,86.1 108.0,89.0C107.1,91.9 101.2,102.0 100.0,105.0C98.8,108.0 92.3,122.9 93.0,124.9Z" fill="#62e432"/>
<path d="M64.5,137.7C64.8,140.1 69.2,144.6 72.0,147.7C74.8,150.8 77.8,154.3 81.0,156.2C84.2,158.1 87.5,159.0 91.5,159.0C95.5,159.0 101.8,158.3 105.0,156.2C108.2,154.1 110.8,149.5 111.0,146.3C111.2,143.1 108.0,139.6 106.0,137.0C104.0,134.4 102.7,132.2 99.0,131.0C95.3,129.8 88.8,129.2 84.0,129.5C79.2,129.8 73.2,131.6 70.0,133.0C66.8,134.4 64.2,135.2 64.5,137.7Z" fill="#f8ae10"/>
<path d="M109.0,145.0C109.8,146.7 113.7,144.4 117.0,144.4C120.3,144.4 125.0,146.1 129.0,145.0C133.0,143.9 138.0,140.6 141.0,137.7C144.0,134.8 147.2,130.1 147.0,127.8C146.8,125.5 143.7,124.0 140.0,124.0C136.3,124.0 129.7,126.3 125.0,128.0C120.3,129.7 114.7,131.2 112.0,134.0C109.3,136.8 108.2,143.3 109.0,145.0Z" fill="#f2c426"/>
<path d="M148.0,109.3C150.7,112.1 155.9,109.2 159.0,106.4C162.1,103.6 166.0,96.9 166.5,92.2C167.0,87.5 164.9,80.8 162.0,78.0C159.1,75.2 152.2,73.3 149.0,75.2C145.8,77.1 143.2,83.7 143.0,89.4C142.8,95.1 145.3,106.5 148.0,109.3Z" fill="#5ee432"/>
<g filter="url(#blurT)">
<ellipse cx="60" cy="80" rx="12.5" ry="12.5" fill="#6ee232"/>
<ellipse cx="40" cy="105" rx="10.0" ry="10.0" fill="#c4e82c"/>
<ellipse cx="85" cy="30" rx="12.5" ry="10.0" fill="#64e030"/>
<ellipse cx="30" cy="65" rx="10.0" ry="10.0" fill="#c0e830"/>
</g>
</g></g></g>
<g filter="url(#spF2)"><g transform="translate(168.95,439.80) scale(0.4377,-0.4620)"><g clip-path="url(#tclipS)">
<path d="M-1.0,78.0C-0.7,80.7 -0.2,84.7 1.0,87.0C2.2,89.3 4.3,91.3 6.0,92.0C7.7,92.7 9.5,92.3 11.0,91.0C12.5,89.7 14.2,87.2 15.0,84.0C15.8,80.8 16.3,75.5 16.0,72.0C15.7,68.5 14.5,64.8 13.0,63.0C11.5,61.2 9.0,60.8 7.0,61.0C5.0,61.2 2.3,62.3 1.0,64.0C-0.3,65.7 -0.7,68.7 -1.0,71.0C-1.3,73.3 -1.3,75.3 -1.0,78.0Z" fill="#a2e632"/>
<path d="M130.0,57.0a9.0,7.5 0 1,0 18.0,0a9.0,7.5 0 1,0 -18.0,0Z" fill="#f6b014"/>
<path d="M145.5,56.0a8.0,6.5 0 1,0 16.0,0a8.0,6.5 0 1,0 -16.0,0Z" fill="#f4c020"/>
<path d="M128.0,43.0a6.0,4.5 0 1,0 12.0,0a6.0,4.5 0 1,0 -12.0,0Z" fill="#f2c020"/>
<path d="M129.0,27.0a6.0,7.0 0 1,0 12.0,0a6.0,7.0 0 1,0 -12.0,0Z" fill="#74e034"/>
<path d="M76.5,7.5a5.5,4.2 0 1,0 11.0,0a5.5,4.2 0 1,0 -11.0,0Z" fill="#a2e632"/>
<path d="M63.5,13.2C63.8,13.9 63.8,14.8 63.3,15.8C62.9,16.7 62.1,17.9 61.0,18.9C59.9,20.0 58.4,21.2 56.8,22.3C55.2,23.3 53.3,24.4 51.5,25.3C49.6,26.1 47.5,26.9 45.7,27.4C43.9,28.0 42.0,28.4 40.5,28.5C39.0,28.6 37.5,28.5 36.5,28.3C35.5,28.0 34.8,27.4 34.5,26.8C34.2,26.1 34.2,25.2 34.7,24.2C35.1,23.3 35.9,22.1 37.0,21.1C38.1,20.0 39.6,18.8 41.2,17.7C42.8,16.7 44.7,15.6 46.5,14.7C48.4,13.9 50.5,13.1 52.3,12.6C54.1,12.0 56.0,11.6 57.5,11.5C59.0,11.4 60.5,11.5 61.5,11.7C62.5,12.0 63.2,12.6 63.5,13.2Z" fill="#a2e632"/>
<path d="M68.3,8.5a3.2,3.2 0 1,0 6.4,0a3.2,3.2 0 1,0 -6.4,0Z" fill="#a2e632"/>
<g filter="url(#blurT)">
<ellipse cx="60" cy="80" rx="12.5" ry="12.5" fill="#6ee232"/>
<ellipse cx="40" cy="105" rx="10.0" ry="10.0" fill="#c4e82c"/>
<ellipse cx="85" cy="30" rx="12.5" ry="10.0" fill="#64e030"/>
<ellipse cx="30" cy="65" rx="10.0" ry="10.0" fill="#c0e830"/>
</g>
</g></g></g>
<text x="164.50" y="368.50" font-size="9.6">CD56</text>
<rect x="171.20" y="457.20" width="20.80" height="4.00" fill="url(#gFJ)"/>
<text x="150.60" y="460.20" font-size="3.0" fill="#555">-1620.4269</text>
<text x="196.00" y="460.20" font-size="3.0" fill="#555">262656.653</text>
<text x="150.60" y="465.40" font-size="3.0" fill="#555">FJComp-V0786_60-A</text>
<path d="M160.5,360.5 H250.5 V449.5 H160.5 Z" fill="none" stroke="#999" stroke-width="1"/>
<line x1="158.90" y1="444.42" x2="160.50" y2="444.42" stroke="#111" stroke-width="0.6"/>
<line x1="157.50" y1="439.80" x2="160.50" y2="439.80" stroke="#111" stroke-width="1"/>
<text x="154.50" y="441.10" font-size="3.3" text-anchor="end" fill="#555">0</text>
<line x1="158.90" y1="435.18" x2="160.50" y2="435.18" stroke="#111" stroke-width="0.6"/>
<line x1="158.90" y1="430.56" x2="160.50" y2="430.56" stroke="#111" stroke-width="0.6"/>
<line x1="158.90" y1="425.94" x2="160.50" y2="425.94" stroke="#111" stroke-width="0.6"/>
<line x1="158.90" y1="421.32" x2="160.50" y2="421.32" stroke="#111" stroke-width="0.6"/>
<line x1="157.50" y1="416.70" x2="160.50" y2="416.70" stroke="#111" stroke-width="1"/>
<text x="154.50" y="418.00" font-size="3.3" text-anchor="end" fill="#555">50</text>
<line x1="158.90" y1="412.08" x2="160.50" y2="412.08" stroke="#111" stroke-width="0.6"/>
<line x1="158.90" y1="407.46" x2="160.50" y2="407.46" stroke="#111" stroke-width="0.6"/>
<line x1="158.90" y1="402.84" x2="160.50" y2="402.84" stroke="#111" stroke-width="0.6"/>
<line x1="158.90" y1="398.22" x2="160.50" y2="398.22" stroke="#111" stroke-width="0.6"/>
<line x1="157.50" y1="393.60" x2="160.50" y2="393.60" stroke="#111" stroke-width="1"/>
<text x="154.50" y="394.90" font-size="3.3" text-anchor="end" fill="#555">100</text>
<line x1="158.90" y1="388.98" x2="160.50" y2="388.98" stroke="#111" stroke-width="0.6"/>
<line x1="158.90" y1="384.36" x2="160.50" y2="384.36" stroke="#111" stroke-width="0.6"/>
<line x1="158.90" y1="379.74" x2="160.50" y2="379.74" stroke="#111" stroke-width="0.6"/>
<line x1="158.90" y1="375.12" x2="160.50" y2="375.12" stroke="#111" stroke-width="0.6"/>
<line x1="157.50" y1="370.50" x2="160.50" y2="370.50" stroke="#111" stroke-width="1"/>
<text x="154.50" y="371.80" font-size="3.3" text-anchor="end" fill="#555">150</text>
<line x1="158.90" y1="365.88" x2="160.50" y2="365.88" stroke="#111" stroke-width="0.6"/>
<line x1="158.90" y1="361.26" x2="160.50" y2="361.26" stroke="#111" stroke-width="0.6"/>
<line x1="164.57" y1="449.50" x2="164.57" y2="451.10" stroke="#111" stroke-width="0.6"/>
<line x1="168.95" y1="449.50" x2="168.95" y2="452.50" stroke="#111" stroke-width="1"/>
<text x="168.95" y="456.10" font-size="3.3" text-anchor="middle" fill="#555">0</text>
<line x1="173.33" y1="449.50" x2="173.33" y2="451.10" stroke="#111" stroke-width="0.6"/>
<line x1="177.70" y1="449.50" x2="177.70" y2="451.10" stroke="#111" stroke-width="0.6"/>
<line x1="182.08" y1="449.50" x2="182.08" y2="451.10" stroke="#111" stroke-width="0.6"/>
<line x1="186.46" y1="449.50" x2="186.46" y2="451.10" stroke="#111" stroke-width="0.6"/>
<line x1="190.83" y1="449.50" x2="190.83" y2="452.50" stroke="#111" stroke-width="1"/>
<text x="190.83" y="456.10" font-size="3.3" text-anchor="middle" fill="#555">50</text>
<line x1="195.21" y1="449.50" x2="195.21" y2="451.10" stroke="#111" stroke-width="0.6"/>
<line x1="199.59" y1="449.50" x2="199.59" y2="451.10" stroke="#111" stroke-width="0.6"/>
<line x1="203.97" y1="449.50" x2="203.97" y2="451.10" stroke="#111" stroke-width="0.6"/>
<line x1="208.34" y1="449.50" x2="208.34" y2="451.10" stroke="#111" stroke-width="0.6"/>
<line x1="212.72" y1="449.50" x2="212.72" y2="452.50" stroke="#111" stroke-width="1"/>
<text x="212.72" y="456.10" font-size="3.3" text-anchor="middle" fill="#555">100</text>
<line x1="217.10" y1="449.50" x2="217.10" y2="451.10" stroke="#111" stroke-width="0.6"/>
<line x1="221.47" y1="449.50" x2="221.47" y2="451.10" stroke="#111" stroke-width="0.6"/>
<line x1="225.85" y1="449.50" x2="225.85" y2="451.10" stroke="#111" stroke-width="0.6"/>
<line x1="230.23" y1="449.50" x2="230.23" y2="451.10" stroke="#111" stroke-width="0.6"/>
<line x1="234.60" y1="449.50" x2="234.60" y2="452.50" stroke="#111" stroke-width="1"/>
<text x="234.60" y="456.10" font-size="3.3" text-anchor="middle" fill="#555">150</text>
<line x1="238.98" y1="449.50" x2="238.98" y2="451.10" stroke="#111" stroke-width="0.6"/>
<line x1="243.36" y1="449.50" x2="243.36" y2="451.10" stroke="#111" stroke-width="0.6"/>
<line x1="247.74" y1="449.50" x2="247.74" y2="451.10" stroke="#111" stroke-width="0.6"/>
<g filter="url(#spF)"><g transform="translate(271.75,439.80) scale(0.4377,-0.4620)"><g clip-path="url(#tclip)">
<path d="M39.0,127.8C41.0,128.8 49.0,129.3 51.0,129.2C53.0,129.1 60.8,126.9 63.0,126.3C65.2,125.7 75.5,121.7 78.0,121.5C80.5,121.3 91.2,125.4 93.0,124.0C94.8,122.6 98.8,107.9 100.0,105.0C101.2,102.1 107.1,91.9 108.0,89.0C108.9,86.1 111.0,71.9 111.0,70.0C111.0,68.1 109.3,67.4 108.0,66.6C106.7,65.8 97.3,61.4 95.0,60.0C92.7,58.6 82.4,51.7 80.0,50.0C77.6,48.3 68.1,41.5 66.0,40.0C63.9,38.5 57.0,32.2 55.0,32.0C53.0,31.8 44.0,36.6 42.0,37.5C40.0,38.4 33.0,42.0 31.5,43.0C30.0,44.0 24.9,48.1 24.0,49.6C23.1,51.1 21.2,58.9 21.0,61.0C20.8,63.1 21.1,72.6 21.0,75.2C20.9,77.8 19.5,89.6 19.5,92.2C19.5,94.8 20.4,104.3 21.0,106.4C21.6,108.5 25.5,116.0 27.0,117.8C28.5,119.6 37.0,126.8 39.0,127.8Z" fill="url(#gCD57a)"/>
<path d="M55.0,32.0C55.2,33.2 63.9,38.5 66.0,40.0C68.1,41.5 77.6,48.3 80.0,50.0C82.4,51.7 92.7,58.6 95.0,60.0C97.3,61.4 106.6,66.3 108.0,66.6C109.4,66.8 111.3,64.1 112.0,63.0C112.7,61.9 115.2,54.8 116.0,53.0C116.8,51.2 120.3,42.9 121.0,41.0C121.7,39.1 124.6,31.5 124.5,29.7C124.4,27.9 121.1,20.5 120.0,19.0C118.9,17.5 112.8,12.6 111.0,11.6C109.2,10.6 100.9,7.6 99.0,7.3C97.1,7.0 89.9,7.7 88.0,8.5C86.1,9.3 78.0,15.5 76.0,17.0C74.0,18.5 65.8,24.8 64.0,26.0C62.2,27.2 54.8,30.8 55.0,32.0Z" fill="url(#gCD57b)"/>
<path d="M93.0,124.9C93.7,126.9 106.4,128.4 108.0,129.2C109.6,130.0 110.6,134.1 112.0,134.0C113.4,133.9 122.7,128.8 125.0,128.0C127.3,127.2 138.2,124.1 140.0,124.0C141.8,123.9 145.5,127.5 146.0,127.0C146.5,126.5 146.0,120.0 145.5,117.8C145.0,115.5 140.5,102.4 140.0,100.0C139.5,97.6 138.8,91.5 139.0,89.4C139.2,87.3 142.2,76.8 142.0,75.0C141.8,73.2 138.3,68.8 137.0,68.0C135.7,67.2 127.8,66.0 126.0,66.0C124.2,66.0 116.2,67.7 115.0,68.0C113.8,68.3 111.6,68.2 111.0,70.0C110.4,71.8 108.9,86.1 108.0,89.0C107.1,91.9 101.2,102.0 100.0,105.0C98.8,108.0 92.3,122.9 93.0,124.9Z" fill="#1a985c"/>
<path d="M64.5,137.7C64.8,140.1 69.2,144.6 72.0,147.7C74.8,150.8 77.8,154.3 81.0,156.2C84.2,158.1 87.5,159.0 91.5,159.0C95.5,159.0 101.8,158.3 105.0,156.2C108.2,154.1 110.8,149.5 111.0,146.3C111.2,143.1 108.0,139.6 106.0,137.0C104.0,134.4 102.7,132.2 99.0,131.0C95.3,129.8 88.8,129.2 84.0,129.5C79.2,129.8 73.2,131.6 70.0,133.0C66.8,134.4 64.2,135.2 64.5,137.7Z" fill="#22a062"/>
<path d="M109.0,145.0C109.8,146.7 113.7,144.4 117.0,144.4C120.3,144.4 125.0,146.1 129.0,145.0C133.0,143.9 138.0,140.6 141.0,137.7C144.0,134.8 147.2,130.1 147.0,127.8C146.8,125.5 143.7,124.0 140.0,124.0C136.3,124.0 129.7,126.3 125.0,128.0C120.3,129.7 114.7,131.2 112.0,134.0C109.3,136.8 108.2,143.3 109.0,145.0Z" fill="#22a062"/>
<path d="M148.0,109.3C150.7,112.1 155.9,109.2 159.0,106.4C162.1,103.6 166.0,96.9 166.5,92.2C167.0,87.5 164.9,80.8 162.0,78.0C159.1,75.2 152.2,73.3 149.0,75.2C145.8,77.1 143.2,83.7 143.0,89.4C142.8,95.1 145.3,106.5 148.0,109.3Z" fill="#22a062"/>
<g filter="url(#blurT)">
<ellipse cx="118" cy="100" rx="12.5" ry="15.0" fill="#2878a8"/>
<ellipse cx="130" cy="110" rx="7.5" ry="7.5" fill="#2e80a0"/>
<ellipse cx="30" cy="110" rx="6.2" ry="6.2" fill="#f0b020"/>
</g>
</g></g></g>
<g filter="url(#spF2)"><g transform="translate(271.75,439.80) scale(0.4377,-0.4620)"><g clip-path="url(#tclipS)">
<path d="M-1.0,78.0C-0.7,80.7 -0.2,84.7 1.0,87.0C2.2,89.3 4.3,91.3 6.0,92.0C7.7,92.7 9.5,92.3 11.0,91.0C12.5,89.7 14.2,87.2 15.0,84.0C15.8,80.8 16.3,75.5 16.0,72.0C15.7,68.5 14.5,64.8 13.0,63.0C11.5,61.2 9.0,60.8 7.0,61.0C5.0,61.2 2.3,62.3 1.0,64.0C-0.3,65.7 -0.7,68.7 -1.0,71.0C-1.3,73.3 -1.3,75.3 -1.0,78.0Z" fill="#f89a1c"/>
<path d="M130.0,57.0a9.0,7.5 0 1,0 18.0,0a9.0,7.5 0 1,0 -18.0,0Z" fill="#22a062"/>
<path d="M145.5,56.0a8.0,6.5 0 1,0 16.0,0a8.0,6.5 0 1,0 -16.0,0Z" fill="#22a062"/>
<path d="M128.0,43.0a6.0,4.5 0 1,0 12.0,0a6.0,4.5 0 1,0 -12.0,0Z" fill="#22a062"/>
<path d="M129.0,27.0a6.0,7.0 0 1,0 12.0,0a6.0,7.0 0 1,0 -12.0,0Z" fill="#22a062"/>
<path d="M76.5,7.5a5.5,4.2 0 1,0 11.0,0a5.5,4.2 0 1,0 -11.0,0Z" fill="#22a062"/>
<path d="M63.5,13.2C63.8,13.9 63.8,14.8 63.3,15.8C62.9,16.7 62.1,17.9 61.0,18.9C59.9,20.0 58.4,21.2 56.8,22.3C55.2,23.3 53.3,24.4 51.5,25.3C49.6,26.1 47.5,26.9 45.7,27.4C43.9,28.0 42.0,28.4 40.5,28.5C39.0,28.6 37.5,28.5 36.5,28.3C35.5,28.0 34.8,27.4 34.5,26.8C34.2,26.1 34.2,25.2 34.7,24.2C35.1,23.3 35.9,22.1 37.0,21.1C38.1,20.0 39.6,18.8 41.2,17.7C42.8,16.7 44.7,15.6 46.5,14.7C48.4,13.9 50.5,13.1 52.3,12.6C54.1,12.0 56.0,11.6 57.5,11.5C59.0,11.4 60.5,11.5 61.5,11.7C62.5,12.0 63.2,12.6 63.5,13.2Z" fill="#dccc20"/>
<path d="M68.3,8.5a3.2,3.2 0 1,0 6.4,0a3.2,3.2 0 1,0 -6.4,0Z" fill="#44c040"/>
<g filter="url(#blurT)">
<ellipse cx="118" cy="100" rx="12.5" ry="15.0" fill="#2878a8"/>
<ellipse cx="130" cy="110" rx="7.5" ry="7.5" fill="#2e80a0"/>
<ellipse cx="30" cy="110" rx="6.2" ry="6.2" fill="#f0b020"/>
</g>
</g></g></g>
<text x="267.30" y="368.50" font-size="9.6">CD57</text>
<rect x="274.00" y="457.20" width="20.80" height="4.00" fill="url(#gFJ)"/>
<text x="253.40" y="460.20" font-size="3.0" fill="#555">-1620.4269</text>
<text x="298.80" y="460.20" font-size="3.0" fill="#555">262656.653</text>
<text x="253.40" y="465.40" font-size="3.0" fill="#555">FJComp-V655_20-A</text>
<path d="M262.5,360.5 H353.5 V449.5 H262.5 Z" fill="none" stroke="#999" stroke-width="1"/>
<line x1="260.90" y1="444.42" x2="262.50" y2="444.42" stroke="#111" stroke-width="0.6"/>
<line x1="259.50" y1="439.80" x2="262.50" y2="439.80" stroke="#111" stroke-width="1"/>
<text x="256.50" y="441.10" font-size="3.3" text-anchor="end" fill="#555">0</text>
<line x1="260.90" y1="435.18" x2="262.50" y2="435.18" stroke="#111" stroke-width="0.6"/>
<line x1="260.90" y1="430.56" x2="262.50" y2="430.56" stroke="#111" stroke-width="0.6"/>
<line x1="260.90" y1="425.94" x2="262.50" y2="425.94" stroke="#111" stroke-width="0.6"/>
<line x1="260.90" y1="421.32" x2="262.50" y2="421.32" stroke="#111" stroke-width="0.6"/>
<line x1="259.50" y1="416.70" x2="262.50" y2="416.70" stroke="#111" stroke-width="1"/>
<text x="256.50" y="418.00" font-size="3.3" text-anchor="end" fill="#555">50</text>
<line x1="260.90" y1="412.08" x2="262.50" y2="412.08" stroke="#111" stroke-width="0.6"/>
<line x1="260.90" y1="407.46" x2="262.50" y2="407.46" stroke="#111" stroke-width="0.6"/>
<line x1="260.90" y1="402.84" x2="262.50" y2="402.84" stroke="#111" stroke-width="0.6"/>
<line x1="260.90" y1="398.22" x2="262.50" y2="398.22" stroke="#111" stroke-width="0.6"/>
<line x1="259.50" y1="393.60" x2="262.50" y2="393.60" stroke="#111" stroke-width="1"/>
<text x="256.50" y="394.90" font-size="3.3" text-anchor="end" fill="#555">100</text>
<line x1="260.90" y1="388.98" x2="262.50" y2="388.98" stroke="#111" stroke-width="0.6"/>
<line x1="260.90" y1="384.36" x2="262.50" y2="384.36" stroke="#111" stroke-width="0.6"/>
<line x1="260.90" y1="379.74" x2="262.50" y2="379.74" stroke="#111" stroke-width="0.6"/>
<line x1="260.90" y1="375.12" x2="262.50" y2="375.12" stroke="#111" stroke-width="0.6"/>
<line x1="259.50" y1="370.50" x2="262.50" y2="370.50" stroke="#111" stroke-width="1"/>
<text x="256.50" y="371.80" font-size="3.3" text-anchor="end" fill="#555">150</text>
<line x1="260.90" y1="365.88" x2="262.50" y2="365.88" stroke="#111" stroke-width="0.6"/>
<line x1="260.90" y1="361.26" x2="262.50" y2="361.26" stroke="#111" stroke-width="0.6"/>
<line x1="267.37" y1="449.50" x2="267.37" y2="451.10" stroke="#111" stroke-width="0.6"/>
<line x1="271.75" y1="449.50" x2="271.75" y2="452.50" stroke="#111" stroke-width="1"/>
<text x="271.75" y="456.10" font-size="3.3" text-anchor="middle" fill="#555">0</text>
<line x1="276.13" y1="449.50" x2="276.13" y2="451.10" stroke="#111" stroke-width="0.6"/>
<line x1="280.50" y1="449.50" x2="280.50" y2="451.10" stroke="#111" stroke-width="0.6"/>
<line x1="284.88" y1="449.50" x2="284.88" y2="451.10" stroke="#111" stroke-width="0.6"/>
<line x1="289.26" y1="449.50" x2="289.26" y2="451.10" stroke="#111" stroke-width="0.6"/>
<line x1="293.63" y1="449.50" x2="293.63" y2="452.50" stroke="#111" stroke-width="1"/>
<text x="293.63" y="456.10" font-size="3.3" text-anchor="middle" fill="#555">50</text>
<line x1="298.01" y1="449.50" x2="298.01" y2="451.10" stroke="#111" stroke-width="0.6"/>
<line x1="302.39" y1="449.50" x2="302.39" y2="451.10" stroke="#111" stroke-width="0.6"/>
<line x1="306.77" y1="449.50" x2="306.77" y2="451.10" stroke="#111" stroke-width="0.6"/>
<line x1="311.14" y1="449.50" x2="311.14" y2="451.10" stroke="#111" stroke-width="0.6"/>
<line x1="315.52" y1="449.50" x2="315.52" y2="452.50" stroke="#111" stroke-width="1"/>
<text x="315.52" y="456.10" font-size="3.3" text-anchor="middle" fill="#555">100</text>
<line x1="319.90" y1="449.50" x2="319.90" y2="451.10" stroke="#111" stroke-width="0.6"/>
<line x1="324.27" y1="449.50" x2="324.27" y2="451.10" stroke="#111" stroke-width="0.6"/>
<line x1="328.65" y1="449.50" x2="328.65" y2="451.10" stroke="#111" stroke-width="0.6"/>
<line x1="333.03" y1="449.50" x2="333.03" y2="451.10" stroke="#111" stroke-width="0.6"/>
<line x1="337.40" y1="449.50" x2="337.40" y2="452.50" stroke="#111" stroke-width="1"/>
<text x="337.40" y="456.10" font-size="3.3" text-anchor="middle" fill="#555">150</text>
<line x1="341.78" y1="449.50" x2="341.78" y2="451.10" stroke="#111" stroke-width="0.6"/>
<line x1="346.16" y1="449.50" x2="346.16" y2="451.10" stroke="#111" stroke-width="0.6"/>
<line x1="350.54" y1="449.50" x2="350.54" y2="451.10" stroke="#111" stroke-width="0.6"/>
<g filter="url(#spF)"><g transform="translate(373.85,439.80) scale(0.4377,-0.4620)"><g clip-path="url(#tclip)">
<path d="M39.0,127.8C41.0,128.8 49.0,129.3 51.0,129.2C53.0,129.1 60.8,126.9 63.0,126.3C65.2,125.7 75.5,121.7 78.0,121.5C80.5,121.3 91.2,125.4 93.0,124.0C94.8,122.6 98.8,107.9 100.0,105.0C101.2,102.1 107.1,91.9 108.0,89.0C108.9,86.1 111.0,71.9 111.0,70.0C111.0,68.1 109.3,67.4 108.0,66.6C106.7,65.8 97.3,61.4 95.0,60.0C92.7,58.6 82.4,51.7 80.0,50.0C77.6,48.3 68.1,41.5 66.0,40.0C63.9,38.5 57.0,32.2 55.0,32.0C53.0,31.8 44.0,36.6 42.0,37.5C40.0,38.4 33.0,42.0 31.5,43.0C30.0,44.0 24.9,48.1 24.0,49.6C23.1,51.1 21.2,58.9 21.0,61.0C20.8,63.1 21.1,72.6 21.0,75.2C20.9,77.8 19.5,89.6 19.5,92.2C19.5,94.8 20.4,104.3 21.0,106.4C21.6,108.5 25.5,116.0 27.0,117.8C28.5,119.6 37.0,126.8 39.0,127.8Z" fill="#f6940f"/>
<path d="M55.0,32.0C55.2,33.2 63.9,38.5 66.0,40.0C68.1,41.5 77.6,48.3 80.0,50.0C82.4,51.7 92.7,58.6 95.0,60.0C97.3,61.4 106.6,66.3 108.0,66.6C109.4,66.8 111.3,64.1 112.0,63.0C112.7,61.9 115.2,54.8 116.0,53.0C116.8,51.2 120.3,42.9 121.0,41.0C121.7,39.1 124.6,31.5 124.5,29.7C124.4,27.9 121.1,20.5 120.0,19.0C118.9,17.5 112.8,12.6 111.0,11.6C109.2,10.6 100.9,7.6 99.0,7.3C97.1,7.0 89.9,7.7 88.0,8.5C86.1,9.3 78.0,15.5 76.0,17.0C74.0,18.5 65.8,24.8 64.0,26.0C62.2,27.2 54.8,30.8 55.0,32.0Z" fill="url(#gCD16b)"/>
<path d="M93.0,124.9C93.7,126.9 106.4,128.4 108.0,129.2C109.6,130.0 110.6,134.1 112.0,134.0C113.4,133.9 122.7,128.8 125.0,128.0C127.3,127.2 138.2,124.1 140.0,124.0C141.8,123.9 145.5,127.5 146.0,127.0C146.5,126.5 146.0,120.0 145.5,117.8C145.0,115.5 140.5,102.4 140.0,100.0C139.5,97.6 138.8,91.5 139.0,89.4C139.2,87.3 142.2,76.8 142.0,75.0C141.8,73.2 138.3,68.8 137.0,68.0C135.7,67.2 127.8,66.0 126.0,66.0C124.2,66.0 116.2,67.7 115.0,68.0C113.8,68.3 111.6,68.2 111.0,70.0C110.4,71.8 108.9,86.1 108.0,89.0C107.1,91.9 101.2,102.0 100.0,105.0C98.8,108.0 92.3,122.9 93.0,124.9Z" fill="url(#gCD16a)"/>
<path d="M64.5,137.7C64.8,140.1 69.2,144.6 72.0,147.7C74.8,150.8 77.8,154.3 81.0,156.2C84.2,158.1 87.5,159.0 91.5,159.0C95.5,159.0 101.8,158.3 105.0,156.2C108.2,154.1 110.8,149.5 111.0,146.3C111.2,143.1 108.0,139.6 106.0,137.0C104.0,134.4 102.7,132.2 99.0,131.0C95.3,129.8 88.8,129.2 84.0,129.5C79.2,129.8 73.2,131.6 70.0,133.0C66.8,134.4 64.2,135.2 64.5,137.7Z" fill="#1c9a54"/>
<path d="M109.0,145.0C109.8,146.7 113.7,144.4 117.0,144.4C120.3,144.4 125.0,146.1 129.0,145.0C133.0,143.9 138.0,140.6 141.0,137.7C144.0,134.8 147.2,130.1 147.0,127.8C146.8,125.5 143.7,124.0 140.0,124.0C136.3,124.0 129.7,126.3 125.0,128.0C120.3,129.7 114.7,131.2 112.0,134.0C109.3,136.8 108.2,143.3 109.0,145.0Z" fill="url(#gCD16c)"/>
<path d="M148.0,109.3C150.7,112.1 155.9,109.2 159.0,106.4C162.1,103.6 166.0,96.9 166.5,92.2C167.0,87.5 164.9,80.8 162.0,78.0C159.1,75.2 152.2,73.3 149.0,75.2C145.8,77.1 143.2,83.7 143.0,89.4C142.8,95.1 145.3,106.5 148.0,109.3Z" fill="#44c444"/>
<g filter="url(#blurT)">
<ellipse cx="145" cy="88" rx="6.2" ry="12.5" fill="#b8e020"/>
</g>
</g></g></g>
<g filter="url(#spF2)"><g transform="translate(373.85,439.80) scale(0.4377,-0.4620)"><g clip-path="url(#tclipS)">
<path d="M-1.0,78.0C-0.7,80.7 -0.2,84.7 1.0,87.0C2.2,89.3 4.3,91.3 6.0,92.0C7.7,92.7 9.5,92.3 11.0,91.0C12.5,89.7 14.2,87.2 15.0,84.0C15.8,80.8 16.3,75.5 16.0,72.0C15.7,68.5 14.5,64.8 13.0,63.0C11.5,61.2 9.0,60.8 7.0,61.0C5.0,61.2 2.3,62.3 1.0,64.0C-0.3,65.7 -0.7,68.7 -1.0,71.0C-1.3,73.3 -1.3,75.3 -1.0,78.0Z" fill="#cce020"/>
<path d="M130.0,57.0a9.0,7.5 0 1,0 18.0,0a9.0,7.5 0 1,0 -18.0,0Z" fill="#e0d022"/>
<path d="M145.5,56.0a8.0,6.5 0 1,0 16.0,0a8.0,6.5 0 1,0 -16.0,0Z" fill="#22a060"/>
<path d="M128.0,43.0a6.0,4.5 0 1,0 12.0,0a6.0,4.5 0 1,0 -12.0,0Z" fill="#22a060"/>
<path d="M129.0,27.0a6.0,7.0 0 1,0 12.0,0a6.0,7.0 0 1,0 -12.0,0Z" fill="#22a060"/>
<path d="M76.5,7.5a5.5,4.2 0 1,0 11.0,0a5.5,4.2 0 1,0 -11.0,0Z" fill="#f4a820"/>
<path d="M63.5,13.2C63.8,13.9 63.8,14.8 63.3,15.8C62.9,16.7 62.1,17.9 61.0,18.9C59.9,20.0 58.4,21.2 56.8,22.3C55.2,23.3 53.3,24.4 51.5,25.3C49.6,26.1 47.5,26.9 45.7,27.4C43.9,28.0 42.0,28.4 40.5,28.5C39.0,28.6 37.5,28.5 36.5,28.3C35.5,28.0 34.8,27.4 34.5,26.8C34.2,26.1 34.2,25.2 34.7,24.2C35.1,23.3 35.9,22.1 37.0,21.1C38.1,20.0 39.6,18.8 41.2,17.7C42.8,16.7 44.7,15.6 46.5,14.7C48.4,13.9 50.5,13.1 52.3,12.6C54.1,12.0 56.0,11.6 57.5,11.5C59.0,11.4 60.5,11.5 61.5,11.7C62.5,12.0 63.2,12.6 63.5,13.2Z" fill="#f4a020"/>
<path d="M68.3,8.5a3.2,3.2 0 1,0 6.4,0a3.2,3.2 0 1,0 -6.4,0Z" fill="#40c040"/>
<g filter="url(#blurT)">
<ellipse cx="145" cy="88" rx="6.2" ry="12.5" fill="#b8e020"/>
</g>
</g></g></g>
<text x="369.40" y="368.50" font-size="9.6">CD16</text>
<rect x="376.10" y="457.20" width="20.80" height="4.00" fill="url(#gFJ)"/>
<text x="355.50" y="460.20" font-size="3.0" fill="#555">-1620.4269</text>
<text x="400.90" y="460.20" font-size="3.0" fill="#555">262656.653</text>
<text x="355.50" y="465.40" font-size="3.0" fill="#555">FJComp-R630_40-A</text>
<path d="M364.5,360.5 H455.5 V449.5 H364.5 Z" fill="none" stroke="#999" stroke-width="1"/>
<line x1="362.90" y1="444.42" x2="364.50" y2="444.42" stroke="#111" stroke-width="0.6"/>
<line x1="361.50" y1="439.80" x2="364.50" y2="439.80" stroke="#111" stroke-width="1"/>
<text x="358.50" y="441.10" font-size="3.3" text-anchor="end" fill="#555">0</text>
<line x1="362.90" y1="435.18" x2="364.50" y2="435.18" stroke="#111" stroke-width="0.6"/>
<line x1="362.90" y1="430.56" x2="364.50" y2="430.56" stroke="#111" stroke-width="0.6"/>
<line x1="362.90" y1="425.94" x2="364.50" y2="425.94" stroke="#111" stroke-width="0.6"/>
<line x1="362.90" y1="421.32" x2="364.50" y2="421.32" stroke="#111" stroke-width="0.6"/>
<line x1="361.50" y1="416.70" x2="364.50" y2="416.70" stroke="#111" stroke-width="1"/>
<text x="358.50" y="418.00" font-size="3.3" text-anchor="end" fill="#555">50</text>
<line x1="362.90" y1="412.08" x2="364.50" y2="412.08" stroke="#111" stroke-width="0.6"/>
<line x1="362.90" y1="407.46" x2="364.50" y2="407.46" stroke="#111" stroke-width="0.6"/>
<line x1="362.90" y1="402.84" x2="364.50" y2="402.84" stroke="#111" stroke-width="0.6"/>
<line x1="362.90" y1="398.22" x2="364.50" y2="398.22" stroke="#111" stroke-width="0.6"/>
<line x1="361.50" y1="393.60" x2="364.50" y2="393.60" stroke="#111" stroke-width="1"/>
<text x="358.50" y="394.90" font-size="3.3" text-anchor="end" fill="#555">100</text>
<line x1="362.90" y1="388.98" x2="364.50" y2="388.98" stroke="#111" stroke-width="0.6"/>
<line x1="362.90" y1="384.36" x2="364.50" y2="384.36" stroke="#111" stroke-width="0.6"/>
<line x1="362.90" y1="379.74" x2="364.50" y2="379.74" stroke="#111" stroke-width="0.6"/>
<line x1="362.90" y1="375.12" x2="364.50" y2="375.12" stroke="#111" stroke-width="0.6"/>
<line x1="361.50" y1="370.50" x2="364.50" y2="370.50" stroke="#111" stroke-width="1"/>
<text x="358.50" y="371.80" font-size="3.3" text-anchor="end" fill="#555">150</text>
<line x1="362.90" y1="365.88" x2="364.50" y2="365.88" stroke="#111" stroke-width="0.6"/>
<line x1="362.90" y1="361.26" x2="364.50" y2="361.26" stroke="#111" stroke-width="0.6"/>
<line x1="369.47" y1="449.50" x2="369.47" y2="451.10" stroke="#111" stroke-width="0.6"/>
<line x1="373.85" y1="449.50" x2="373.85" y2="452.50" stroke="#111" stroke-width="1"/>
<text x="373.85" y="456.10" font-size="3.3" text-anchor="middle" fill="#555">0</text>
<line x1="378.23" y1="449.50" x2="378.23" y2="451.10" stroke="#111" stroke-width="0.6"/>
<line x1="382.60" y1="449.50" x2="382.60" y2="451.10" stroke="#111" stroke-width="0.6"/>
<line x1="386.98" y1="449.50" x2="386.98" y2="451.10" stroke="#111" stroke-width="0.6"/>
<line x1="391.36" y1="449.50" x2="391.36" y2="451.10" stroke="#111" stroke-width="0.6"/>
<line x1="395.74" y1="449.50" x2="395.74" y2="452.50" stroke="#111" stroke-width="1"/>
<text x="395.74" y="456.10" font-size="3.3" text-anchor="middle" fill="#555">50</text>
<line x1="400.11" y1="449.50" x2="400.11" y2="451.10" stroke="#111" stroke-width="0.6"/>
<line x1="404.49" y1="449.50" x2="404.49" y2="451.10" stroke="#111" stroke-width="0.6"/>
<line x1="408.87" y1="449.50" x2="408.87" y2="451.10" stroke="#111" stroke-width="0.6"/>
<line x1="413.24" y1="449.50" x2="413.24" y2="451.10" stroke="#111" stroke-width="0.6"/>
<line x1="417.62" y1="449.50" x2="417.62" y2="452.50" stroke="#111" stroke-width="1"/>
<text x="417.62" y="456.10" font-size="3.3" text-anchor="middle" fill="#555">100</text>
<line x1="422.00" y1="449.50" x2="422.00" y2="451.10" stroke="#111" stroke-width="0.6"/>
<line x1="426.37" y1="449.50" x2="426.37" y2="451.10" stroke="#111" stroke-width="0.6"/>
<line x1="430.75" y1="449.50" x2="430.75" y2="451.10" stroke="#111" stroke-width="0.6"/>
<line x1="435.13" y1="449.50" x2="435.13" y2="451.10" stroke="#111" stroke-width="0.6"/>
<line x1="439.50" y1="449.50" x2="439.50" y2="452.50" stroke="#111" stroke-width="1"/>
<text x="439.50" y="456.10" font-size="3.3" text-anchor="middle" fill="#555">150</text>
<line x1="443.88" y1="449.50" x2="443.88" y2="451.10" stroke="#111" stroke-width="0.6"/>
<line x1="448.26" y1="449.50" x2="448.26" y2="451.10" stroke="#111" stroke-width="0.6"/>
<line x1="452.64" y1="449.50" x2="452.64" y2="451.10" stroke="#111" stroke-width="0.6"/>
<g filter="url(#spF)"><g transform="translate(476.25,439.80) scale(0.4377,-0.4620)"><g clip-path="url(#tclip)">
<path d="M39.0,127.8C41.0,128.8 49.0,129.3 51.0,129.2C53.0,129.1 60.8,126.9 63.0,126.3C65.2,125.7 75.5,121.7 78.0,121.5C80.5,121.3 91.2,125.4 93.0,124.0C94.8,122.6 98.8,107.9 100.0,105.0C101.2,102.1 107.1,91.9 108.0,89.0C108.9,86.1 111.0,71.9 111.0,70.0C111.0,68.1 109.3,67.4 108.0,66.6C106.7,65.8 97.3,61.4 95.0,60.0C92.7,58.6 82.4,51.7 80.0,50.0C77.6,48.3 68.1,41.5 66.0,40.0C63.9,38.5 57.0,32.2 55.0,32.0C53.0,31.8 44.0,36.6 42.0,37.5C40.0,38.4 33.0,42.0 31.5,43.0C30.0,44.0 24.9,48.1 24.0,49.6C23.1,51.1 21.2,58.9 21.0,61.0C20.8,63.1 21.1,72.6 21.0,75.2C20.9,77.8 19.5,89.6 19.5,92.2C19.5,94.8 20.4,104.3 21.0,106.4C21.6,108.5 25.5,116.0 27.0,117.8C28.5,119.6 37.0,126.8 39.0,127.8Z" fill="#34c236"/>
<path d="M55.0,32.0C55.2,33.2 63.9,38.5 66.0,40.0C68.1,41.5 77.6,48.3 80.0,50.0C82.4,51.7 92.7,58.6 95.0,60.0C97.3,61.4 106.6,66.3 108.0,66.6C109.4,66.8 111.3,64.1 112.0,63.0C112.7,61.9 115.2,54.8 116.0,53.0C116.8,51.2 120.3,42.9 121.0,41.0C121.7,39.1 124.6,31.5 124.5,29.7C124.4,27.9 121.1,20.5 120.0,19.0C118.9,17.5 112.8,12.6 111.0,11.6C109.2,10.6 100.9,7.6 99.0,7.3C97.1,7.0 89.9,7.7 88.0,8.5C86.1,9.3 78.0,15.5 76.0,17.0C74.0,18.5 65.8,24.8 64.0,26.0C62.2,27.2 54.8,30.8 55.0,32.0Z" fill="#34c236"/>
<path d="M93.0,124.9C93.7,126.9 106.4,128.4 108.0,129.2C109.6,130.0 110.6,134.1 112.0,134.0C113.4,133.9 122.7,128.8 125.0,128.0C127.3,127.2 138.2,124.1 140.0,124.0C141.8,123.9 145.5,127.5 146.0,127.0C146.5,126.5 146.0,120.0 145.5,117.8C145.0,115.5 140.5,102.4 140.0,100.0C139.5,97.6 138.8,91.5 139.0,89.4C139.2,87.3 142.2,76.8 142.0,75.0C141.8,73.2 138.3,68.8 137.0,68.0C135.7,67.2 127.8,66.0 126.0,66.0C124.2,66.0 116.2,67.7 115.0,68.0C113.8,68.3 111.6,68.2 111.0,70.0C110.4,71.8 108.9,86.1 108.0,89.0C107.1,91.9 101.2,102.0 100.0,105.0C98.8,108.0 92.3,122.9 93.0,124.9Z" fill="#34c236"/>
<path d="M64.5,137.7C64.8,140.1 69.2,144.6 72.0,147.7C74.8,150.8 77.8,154.3 81.0,156.2C84.2,158.1 87.5,159.0 91.5,159.0C95.5,159.0 101.8,158.3 105.0,156.2C108.2,154.1 110.8,149.5 111.0,146.3C111.2,143.1 108.0,139.6 106.0,137.0C104.0,134.4 102.7,132.2 99.0,131.0C95.3,129.8 88.8,129.2 84.0,129.5C79.2,129.8 73.2,131.6 70.0,133.0C66.8,134.4 64.2,135.2 64.5,137.7Z" fill="#3ac636"/>
<path d="M109.0,145.0C109.8,146.7 113.7,144.4 117.0,144.4C120.3,144.4 125.0,146.1 129.0,145.0C133.0,143.9 138.0,140.6 141.0,137.7C144.0,134.8 147.2,130.1 147.0,127.8C146.8,125.5 143.7,124.0 140.0,124.0C136.3,124.0 129.7,126.3 125.0,128.0C120.3,129.7 114.7,131.2 112.0,134.0C109.3,136.8 108.2,143.3 109.0,145.0Z" fill="#34c236"/>
<path d="M148.0,109.3C150.7,112.1 155.9,109.2 159.0,106.4C162.1,103.6 166.0,96.9 166.5,92.2C167.0,87.5 164.9,80.8 162.0,78.0C159.1,75.2 152.2,73.3 149.0,75.2C145.8,77.1 143.2,83.7 143.0,89.4C142.8,95.1 145.3,106.5 148.0,109.3Z" fill="#34c236"/>
<g filter="url(#blurT)">
<ellipse cx="62" cy="84" rx="11.2" ry="22.5" fill="#1c48d0"/>
<ellipse cx="43" cy="116" rx="11.2" ry="12.5" fill="#1c4cd0"/>
<ellipse cx="119" cy="84" rx="11.2" ry="13.8" fill="#1c48d0"/>
<ellipse cx="93" cy="112" rx="12.5" ry="11.2" fill="#2454cc"/>
<ellipse cx="80" cy="78" rx="10.0" ry="7.5" fill="#2656c8"/>
<ellipse cx="45" cy="96" rx="7.5" ry="8.8" fill="#2a5ac8"/>
<ellipse cx="30" cy="90" rx="6.2" ry="7.5" fill="#2a5ac8"/>
<ellipse cx="100" cy="45" rx="7.5" ry="6.2" fill="#2a5ac8"/>
<ellipse cx="130" cy="110" rx="6.2" ry="7.5" fill="#2a5ac8"/>
<ellipse cx="45" cy="23" rx="6.2" ry="6.2" fill="#2c60c8"/>
<ellipse cx="8" cy="86" rx="6.2" ry="7.5" fill="#e8e020"/>
<ellipse cx="4" cy="72" rx="6.2" ry="7.5" fill="#f8a020"/>
<ellipse cx="140" cy="60" rx="7.5" ry="6.2" fill="#f0e020"/>
<ellipse cx="150" cy="56" rx="7.5" ry="6.2" fill="#e8e828"/>
</g>
</g></g></g>
<g filter="url(#spF2)"><g transform="translate(476.25,439.80) scale(0.4377,-0.4620)"><g clip-path="url(#tclipS)">
<path d="M-1.0,78.0C-0.7,80.7 -0.2,84.7 1.0,87.0C2.2,89.3 4.3,91.3 6.0,92.0C7.7,92.7 9.5,92.3 11.0,91.0C12.5,89.7 14.2,87.2 15.0,84.0C15.8,80.8 16.3,75.5 16.0,72.0C15.7,68.5 14.5,64.8 13.0,63.0C11.5,61.2 9.0,60.8 7.0,61.0C5.0,61.2 2.3,62.3 1.0,64.0C-0.3,65.7 -0.7,68.7 -1.0,71.0C-1.3,73.3 -1.3,75.3 -1.0,78.0Z" fill="#f6a020"/>
<path d="M130.0,57.0a9.0,7.5 0 1,0 18.0,0a9.0,7.5 0 1,0 -18.0,0Z" fill="#e4e020"/>
<path d="M145.5,56.0a8.0,6.5 0 1,0 16.0,0a8.0,6.5 0 1,0 -16.0,0Z" fill="#e8e024"/>
<path d="M128.0,43.0a6.0,4.5 0 1,0 12.0,0a6.0,4.5 0 1,0 -12.0,0Z" fill="#34c236"/>
<path d="M129.0,27.0a6.0,7.0 0 1,0 12.0,0a6.0,7.0 0 1,0 -12.0,0Z" fill="#34c236"/>
<path d="M76.5,7.5a5.5,4.2 0 1,0 11.0,0a5.5,4.2 0 1,0 -11.0,0Z" fill="#34c236"/>
<path d="M63.5,13.2C63.8,13.9 63.8,14.8 63.3,15.8C62.9,16.7 62.1,17.9 61.0,18.9C59.9,20.0 58.4,21.2 56.8,22.3C55.2,23.3 53.3,24.4 51.5,25.3C49.6,26.1 47.5,26.9 45.7,27.4C43.9,28.0 42.0,28.4 40.5,28.5C39.0,28.6 37.5,28.5 36.5,28.3C35.5,28.0 34.8,27.4 34.5,26.8C34.2,26.1 34.2,25.2 34.7,24.2C35.1,23.3 35.9,22.1 37.0,21.1C38.1,20.0 39.6,18.8 41.2,17.7C42.8,16.7 44.7,15.6 46.5,14.7C48.4,13.9 50.5,13.1 52.3,12.6C54.1,12.0 56.0,11.6 57.5,11.5C59.0,11.4 60.5,11.5 61.5,11.7C62.5,12.0 63.2,12.6 63.5,13.2Z" fill="#34c236"/>
<path d="M68.3,8.5a3.2,3.2 0 1,0 6.4,0a3.2,3.2 0 1,0 -6.4,0Z" fill="#34c236"/>
<g filter="url(#blurT)">
<ellipse cx="62" cy="84" rx="11.2" ry="22.5" fill="#1c48d0"/>
<ellipse cx="43" cy="116" rx="11.2" ry="12.5" fill="#1c4cd0"/>
<ellipse cx="119" cy="84" rx="11.2" ry="13.8" fill="#1c48d0"/>
<ellipse cx="93" cy="112" rx="12.5" ry="11.2" fill="#2454cc"/>
<ellipse cx="80" cy="78" rx="10.0" ry="7.5" fill="#2656c8"/>
<ellipse cx="45" cy="96" rx="7.5" ry="8.8" fill="#2a5ac8"/>
<ellipse cx="30" cy="90" rx="6.2" ry="7.5" fill="#2a5ac8"/>
<ellipse cx="100" cy="45" rx="7.5" ry="6.2" fill="#2a5ac8"/>
<ellipse cx="130" cy="110" rx="6.2" ry="7.5" fill="#2a5ac8"/>
<ellipse cx="45" cy="23" rx="6.2" ry="6.2" fill="#2c60c8"/>
<ellipse cx="8" cy="86" rx="6.2" ry="7.5" fill="#e8e020"/>
<ellipse cx="4" cy="72" rx="6.2" ry="7.5" fill="#f8a020"/>
<ellipse cx="140" cy="60" rx="7.5" ry="6.2" fill="#f0e020"/>
<ellipse cx="150" cy="56" rx="7.5" ry="6.2" fill="#e8e828"/>
</g>
</g></g></g>
<text x="471.80" y="368.50" font-size="9.6">NKG2C</text>
<rect x="478.50" y="457.20" width="20.80" height="4.00" fill="url(#gFJ)"/>
<text x="457.90" y="460.20" font-size="3.0" fill="#555">-1620.4269</text>
<text x="503.30" y="460.20" font-size="3.0" fill="#555">262656.653</text>
<text x="457.90" y="465.40" font-size="3.0" fill="#555">FJComp-Y0586_15-A</text>
<path d="M467.5,360.5 H557.5 V449.5 H467.5 Z" fill="none" stroke="#999" stroke-width="1"/>
<line x1="465.90" y1="444.42" x2="467.50" y2="444.42" stroke="#111" stroke-width="0.6"/>
<line x1="464.50" y1="439.80" x2="467.50" y2="439.80" stroke="#111" stroke-width="1"/>
<text x="461.50" y="441.10" font-size="3.3" text-anchor="end" fill="#555">0</text>
<line x1="465.90" y1="435.18" x2="467.50" y2="435.18" stroke="#111" stroke-width="0.6"/>
<line x1="465.90" y1="430.56" x2="467.50" y2="430.56" stroke="#111" stroke-width="0.6"/>
<line x1="465.90" y1="425.94" x2="467.50" y2="425.94" stroke="#111" stroke-width="0.6"/>
<line x1="465.90" y1="421.32" x2="467.50" y2="421.32" stroke="#111" stroke-width="0.6"/>
<line x1="464.50" y1="416.70" x2="467.50" y2="416.70" stroke="#111" stroke-width="1"/>
<text x="461.50" y="418.00" font-size="3.3" text-anchor="end" fill="#555">50</text>
<line x1="465.90" y1="412.08" x2="467.50" y2="412.08" stroke="#111" stroke-width="0.6"/>
<line x1="465.90" y1="407.46" x2="467.50" y2="407.46" stroke="#111" stroke-width="0.6"/>
<line x1="465.90" y1="402.84" x2="467.50" y2="402.84" stroke="#111" stroke-width="0.6"/>
<line x1="465.90" y1="398.22" x2="467.50" y2="398.22" stroke="#111" stroke-width="0.6"/>
<line x1="464.50" y1="393.60" x2="467.50" y2="393.60" stroke="#111" stroke-width="1"/>
<text x="461.50" y="394.90" font-size="3.3" text-anchor="end" fill="#555">100</text>
<line x1="465.90" y1="388.98" x2="467.50" y2="388.98" stroke="#111" stroke-width="0.6"/>
<line x1="465.90" y1="384.36" x2="467.50" y2="384.36" stroke="#111" stroke-width="0.6"/>
<line x1="465.90" y1="379.74" x2="467.50" y2="379.74" stroke="#111" stroke-width="0.6"/>
<line x1="465.90" y1="375.12" x2="467.50" y2="375.12" stroke="#111" stroke-width="0.6"/>
<line x1="464.50" y1="370.50" x2="467.50" y2="370.50" stroke="#111" stroke-width="1"/>
<text x="461.50" y="371.80" font-size="3.3" text-anchor="end" fill="#555">150</text>
<line x1="465.90" y1="365.88" x2="467.50" y2="365.88" stroke="#111" stroke-width="0.6"/>
<line x1="465.90" y1="361.26" x2="467.50" y2="361.26" stroke="#111" stroke-width="0.6"/>
<line x1="471.87" y1="449.50" x2="471.87" y2="451.10" stroke="#111" stroke-width="0.6"/>
<line x1="476.25" y1="449.50" x2="476.25" y2="452.50" stroke="#111" stroke-width="1"/>
<text x="476.25" y="456.10" font-size="3.3" text-anchor="middle" fill="#555">0</text>
<line x1="480.63" y1="449.50" x2="480.63" y2="451.10" stroke="#111" stroke-width="0.6"/>
<line x1="485.00" y1="449.50" x2="485.00" y2="451.10" stroke="#111" stroke-width="0.6"/>
<line x1="489.38" y1="449.50" x2="489.38" y2="451.10" stroke="#111" stroke-width="0.6"/>
<line x1="493.76" y1="449.50" x2="493.76" y2="451.10" stroke="#111" stroke-width="0.6"/>
<line x1="498.13" y1="449.50" x2="498.13" y2="452.50" stroke="#111" stroke-width="1"/>
<text x="498.13" y="456.10" font-size="3.3" text-anchor="middle" fill="#555">50</text>
<line x1="502.51" y1="449.50" x2="502.51" y2="451.10" stroke="#111" stroke-width="0.6"/>
<line x1="506.89" y1="449.50" x2="506.89" y2="451.10" stroke="#111" stroke-width="0.6"/>
<line x1="511.27" y1="449.50" x2="511.27" y2="451.10" stroke="#111" stroke-width="0.6"/>
<line x1="515.64" y1="449.50" x2="515.64" y2="451.10" stroke="#111" stroke-width="0.6"/>
<line x1="520.02" y1="449.50" x2="520.02" y2="452.50" stroke="#111" stroke-width="1"/>
<text x="520.02" y="456.10" font-size="3.3" text-anchor="middle" fill="#555">100</text>
<line x1="524.40" y1="449.50" x2="524.40" y2="451.10" stroke="#111" stroke-width="0.6"/>
<line x1="528.77" y1="449.50" x2="528.77" y2="451.10" stroke="#111" stroke-width="0.6"/>
<line x1="533.15" y1="449.50" x2="533.15" y2="451.10" stroke="#111" stroke-width="0.6"/>
<line x1="537.53" y1="449.50" x2="537.53" y2="451.10" stroke="#111" stroke-width="0.6"/>
<line x1="541.90" y1="449.50" x2="541.90" y2="452.50" stroke="#111" stroke-width="1"/>
<text x="541.90" y="456.10" font-size="3.3" text-anchor="middle" fill="#555">150</text>
<line x1="546.28" y1="449.50" x2="546.28" y2="451.10" stroke="#111" stroke-width="0.6"/>
<line x1="550.66" y1="449.50" x2="550.66" y2="451.10" stroke="#111" stroke-width="0.6"/>
<line x1="555.04" y1="449.50" x2="555.04" y2="451.10" stroke="#111" stroke-width="0.6"/>
<g filter="url(#spF)"><g transform="translate(579.75,439.80) scale(0.4377,-0.4620)"><g clip-path="url(#tclip)">
<path d="M39.0,127.8C41.0,128.8 49.0,129.3 51.0,129.2C53.0,129.1 60.8,126.9 63.0,126.3C65.2,125.7 75.5,121.7 78.0,121.5C80.5,121.3 91.2,125.4 93.0,124.0C94.8,122.6 98.8,107.9 100.0,105.0C101.2,102.1 107.1,91.9 108.0,89.0C108.9,86.1 111.0,71.9 111.0,70.0C111.0,68.1 109.3,67.4 108.0,66.6C106.7,65.8 97.3,61.4 95.0,60.0C92.7,58.6 82.4,51.7 80.0,50.0C77.6,48.3 68.1,41.5 66.0,40.0C63.9,38.5 57.0,32.2 55.0,32.0C53.0,31.8 44.0,36.6 42.0,37.5C40.0,38.4 33.0,42.0 31.5,43.0C30.0,44.0 24.9,48.1 24.0,49.6C23.1,51.1 21.2,58.9 21.0,61.0C20.8,63.1 21.1,72.6 21.0,75.2C20.9,77.8 19.5,89.6 19.5,92.2C19.5,94.8 20.4,104.3 21.0,106.4C21.6,108.5 25.5,116.0 27.0,117.8C28.5,119.6 37.0,126.8 39.0,127.8Z" fill="#22a062"/>
<path d="M55.0,32.0C55.2,33.2 63.9,38.5 66.0,40.0C68.1,41.5 77.6,48.3 80.0,50.0C82.4,51.7 92.7,58.6 95.0,60.0C97.3,61.4 106.6,66.3 108.0,66.6C109.4,66.8 111.3,64.1 112.0,63.0C112.7,61.9 115.2,54.8 116.0,53.0C116.8,51.2 120.3,42.9 121.0,41.0C121.7,39.1 124.6,31.5 124.5,29.7C124.4,27.9 121.1,20.5 120.0,19.0C118.9,17.5 112.8,12.6 111.0,11.6C109.2,10.6 100.9,7.6 99.0,7.3C97.1,7.0 89.9,7.7 88.0,8.5C86.1,9.3 78.0,15.5 76.0,17.0C74.0,18.5 65.8,24.8 64.0,26.0C62.2,27.2 54.8,30.8 55.0,32.0Z" fill="#22a062"/>
<path d="M93.0,124.9C93.7,126.9 106.4,128.4 108.0,129.2C109.6,130.0 110.6,134.1 112.0,134.0C113.4,133.9 122.7,128.8 125.0,128.0C127.3,127.2 138.2,124.1 140.0,124.0C141.8,123.9 145.5,127.5 146.0,127.0C146.5,126.5 146.0,120.0 145.5,117.8C145.0,115.5 140.5,102.4 140.0,100.0C139.5,97.6 138.8,91.5 139.0,89.4C139.2,87.3 142.2,76.8 142.0,75.0C141.8,73.2 138.3,68.8 137.0,68.0C135.7,67.2 127.8,66.0 126.0,66.0C124.2,66.0 116.2,67.7 115.0,68.0C113.8,68.3 111.6,68.2 111.0,70.0C110.4,71.8 108.9,86.1 108.0,89.0C107.1,91.9 101.2,102.0 100.0,105.0C98.8,108.0 92.3,122.9 93.0,124.9Z" fill="#22a062"/>
<path d="M64.5,137.7C64.8,140.1 69.2,144.6 72.0,147.7C74.8,150.8 77.8,154.3 81.0,156.2C84.2,158.1 87.5,159.0 91.5,159.0C95.5,159.0 101.8,158.3 105.0,156.2C108.2,154.1 110.8,149.5 111.0,146.3C111.2,143.1 108.0,139.6 106.0,137.0C104.0,134.4 102.7,132.2 99.0,131.0C95.3,129.8 88.8,129.2 84.0,129.5C79.2,129.8 73.2,131.6 70.0,133.0C66.8,134.4 64.2,135.2 64.5,137.7Z" fill="#76e63a"/>
<path d="M109.0,145.0C109.8,146.7 113.7,144.4 117.0,144.4C120.3,144.4 125.0,146.1 129.0,145.0C133.0,143.9 138.0,140.6 141.0,137.7C144.0,134.8 147.2,130.1 147.0,127.8C146.8,125.5 143.7,124.0 140.0,124.0C136.3,124.0 129.7,126.3 125.0,128.0C120.3,129.7 114.7,131.2 112.0,134.0C109.3,136.8 108.2,143.3 109.0,145.0Z" fill="#22a062"/>
<path d="M148.0,109.3C150.7,112.1 155.9,109.2 159.0,106.4C162.1,103.6 166.0,96.9 166.5,92.2C167.0,87.5 164.9,80.8 162.0,78.0C159.1,75.2 152.2,73.3 149.0,75.2C145.8,77.1 143.2,83.7 143.0,89.4C142.8,95.1 145.3,106.5 148.0,109.3Z" fill="#22a062"/>
<g filter="url(#blurT)">
<ellipse cx="132" cy="116" rx="20.3" ry="30.4" fill="#6cea3a"/>
<ellipse cx="32" cy="78" rx="13.5" ry="16.9" fill="#5ee83a"/>
<ellipse cx="72" cy="99" rx="15.2" ry="10.1" fill="#5ce03a"/>
<ellipse cx="75" cy="61" rx="10.1" ry="8.4" fill="#58d83a"/>
<ellipse cx="100" cy="15" rx="13.5" ry="8.4" fill="#50c840"/>
<ellipse cx="145" cy="56" rx="20.3" ry="10.1" fill="#66e43a"/>
<ellipse cx="55" cy="115" rx="10.1" ry="8.4" fill="#48c640"/>
<ellipse cx="100" cy="95" rx="10.1" ry="10.1" fill="#40bc48"/>
<ellipse cx="45" cy="45" rx="10.1" ry="8.4" fill="#44c044"/>
<ellipse cx="110" cy="40" rx="8.4" ry="8.4" fill="#44c044"/>
</g>
</g></g></g>
<g filter="url(#spF2)"><g transform="translate(579.75,439.80) scale(0.4377,-0.4620)"><g clip-path="url(#tclipS)">
<path d="M-1.0,78.0C-0.7,80.7 -0.2,84.7 1.0,87.0C2.2,89.3 4.3,91.3 6.0,92.0C7.7,92.7 9.5,92.3 11.0,91.0C12.5,89.7 14.2,87.2 15.0,84.0C15.8,80.8 16.3,75.5 16.0,72.0C15.7,68.5 14.5,64.8 13.0,63.0C11.5,61.2 9.0,60.8 7.0,61.0C5.0,61.2 2.3,62.3 1.0,64.0C-0.3,65.7 -0.7,68.7 -1.0,71.0C-1.3,73.3 -1.3,75.3 -1.0,78.0Z" fill="#22a062"/>
<path d="M130.0,57.0a9.0,7.5 0 1,0 18.0,0a9.0,7.5 0 1,0 -18.0,0Z" fill="#5cd43c"/>
<path d="M145.5,56.0a8.0,6.5 0 1,0 16.0,0a8.0,6.5 0 1,0 -16.0,0Z" fill="#6ee23a"/>
<path d="M128.0,43.0a6.0,4.5 0 1,0 12.0,0a6.0,4.5 0 1,0 -12.0,0Z" fill="#22a062"/>
<path d="M129.0,27.0a6.0,7.0 0 1,0 12.0,0a6.0,7.0 0 1,0 -12.0,0Z" fill="#22a062"/>
<path d="M76.5,7.5a5.5,4.2 0 1,0 11.0,0a5.5,4.2 0 1,0 -11.0,0Z" fill="#22a062"/>
<path d="M63.5,13.2C63.8,13.9 63.8,14.8 63.3,15.8C62.9,16.7 62.1,17.9 61.0,18.9C59.9,20.0 58.4,21.2 56.8,22.3C55.2,23.3 53.3,24.4 51.5,25.3C49.6,26.1 47.5,26.9 45.7,27.4C43.9,28.0 42.0,28.4 40.5,28.5C39.0,28.6 37.5,28.5 36.5,28.3C35.5,28.0 34.8,27.4 34.5,26.8C34.2,26.1 34.2,25.2 34.7,24.2C35.1,23.3 35.9,22.1 37.0,21.1C38.1,20.0 39.6,18.8 41.2,17.7C42.8,16.7 44.7,15.6 46.5,14.7C48.4,13.9 50.5,13.1 52.3,12.6C54.1,12.0 56.0,11.6 57.5,11.5C59.0,11.4 60.5,11.5 61.5,11.7C62.5,12.0 63.2,12.6 63.5,13.2Z" fill="#36b04a"/>
<path d="M68.3,8.5a3.2,3.2 0 1,0 6.4,0a3.2,3.2 0 1,0 -6.4,0Z" fill="#22a062"/>
<g filter="url(#blurT)">
<ellipse cx="132" cy="116" rx="20.3" ry="30.4" fill="#6cea3a"/>
<ellipse cx="32" cy="78" rx="13.5" ry="16.9" fill="#5ee83a"/>
<ellipse cx="72" cy="99" rx="15.2" ry="10.1" fill="#5ce03a"/>
<ellipse cx="75" cy="61" rx="10.1" ry="8.4" fill="#58d83a"/>
<ellipse cx="100" cy="15" rx="13.5" ry="8.4" fill="#50c840"/>
<ellipse cx="145" cy="56" rx="20.3" ry="10.1" fill="#66e43a"/>
<ellipse cx="55" cy="115" rx="10.1" ry="8.4" fill="#48c640"/>
<ellipse cx="100" cy="95" rx="10.1" ry="10.1" fill="#40bc48"/>
<ellipse cx="45" cy="45" rx="10.1" ry="8.4" fill="#44c044"/>
<ellipse cx="110" cy="40" rx="8.4" ry="8.4" fill="#44c044"/>
</g>
</g></g></g>
<text x="575.30" y="368.50" font-size="9.6">NKG2A</text>
<rect x="582.00" y="457.20" width="20.80" height="4.00" fill="url(#gFJ)"/>
<text x="561.40" y="460.20" font-size="3.0" fill="#555">-1620.4269</text>
<text x="606.80" y="460.20" font-size="3.0" fill="#555">262656.653</text>
<text x="561.40" y="465.40" font-size="3.0" fill="#555">FJComp-R670_30-A</text>
<path d="M570.5,360.5 H661.5 V449.5 H570.5 Z" fill="none" stroke="#999" stroke-width="1"/>
<line x1="568.90" y1="444.42" x2="570.50" y2="444.42" stroke="#111" stroke-width="0.6"/>
<line x1="567.50" y1="439.80" x2="570.50" y2="439.80" stroke="#111" stroke-width="1"/>
<text x="564.50" y="441.10" font-size="3.3" text-anchor="end" fill="#555">0</text>
<line x1="568.90" y1="435.18" x2="570.50" y2="435.18" stroke="#111" stroke-width="0.6"/>
<line x1="568.90" y1="430.56" x2="570.50" y2="430.56" stroke="#111" stroke-width="0.6"/>
<line x1="568.90" y1="425.94" x2="570.50" y2="425.94" stroke="#111" stroke-width="0.6"/>
<line x1="568.90" y1="421.32" x2="570.50" y2="421.32" stroke="#111" stroke-width="0.6"/>
<line x1="567.50" y1="416.70" x2="570.50" y2="416.70" stroke="#111" stroke-width="1"/>
<text x="564.50" y="418.00" font-size="3.3" text-anchor="end" fill="#555">50</text>
<line x1="568.90" y1="412.08" x2="570.50" y2="412.08" stroke="#111" stroke-width="0.6"/>
<line x1="568.90" y1="407.46" x2="570.50" y2="407.46" stroke="#111" stroke-width="0.6"/>
<line x1="568.90" y1="402.84" x2="570.50" y2="402.84" stroke="#111" stroke-width="0.6"/>
<line x1="568.90" y1="398.22" x2="570.50" y2="398.22" stroke="#111" stroke-width="0.6"/>
<line x1="567.50" y1="393.60" x2="570.50" y2="393.60" stroke="#111" stroke-width="1"/>
<text x="564.50" y="394.90" font-size="3.3" text-anchor="end" fill="#555">100</text>
<line x1="568.90" y1="388.98" x2="570.50" y2="388.98" stroke="#111" stroke-width="0.6"/>
<line x1="568.90" y1="384.36" x2="570.50" y2="384.36" stroke="#111" stroke-width="0.6"/>
<line x1="568.90" y1="379.74" x2="570.50" y2="379.74" stroke="#111" stroke-width="0.6"/>
<line x1="568.90" y1="375.12" x2="570.50" y2="375.12" stroke="#111" stroke-width="0.6"/>
<line x1="567.50" y1="370.50" x2="570.50" y2="370.50" stroke="#111" stroke-width="1"/>
<text x="564.50" y="371.80" font-size="3.3" text-anchor="end" fill="#555">150</text>
<line x1="568.90" y1="365.88" x2="570.50" y2="365.88" stroke="#111" stroke-width="0.6"/>
<line x1="568.90" y1="361.26" x2="570.50" y2="361.26" stroke="#111" stroke-width="0.6"/>
<line x1="575.37" y1="449.50" x2="575.37" y2="451.10" stroke="#111" stroke-width="0.6"/>
<line x1="579.75" y1="449.50" x2="579.75" y2="452.50" stroke="#111" stroke-width="1"/>
<text x="579.75" y="456.10" font-size="3.3" text-anchor="middle" fill="#555">0</text>
<line x1="584.13" y1="449.50" x2="584.13" y2="451.10" stroke="#111" stroke-width="0.6"/>
<line x1="588.50" y1="449.50" x2="588.50" y2="451.10" stroke="#111" stroke-width="0.6"/>
<line x1="592.88" y1="449.50" x2="592.88" y2="451.10" stroke="#111" stroke-width="0.6"/>
<line x1="597.26" y1="449.50" x2="597.26" y2="451.10" stroke="#111" stroke-width="0.6"/>
<line x1="601.63" y1="449.50" x2="601.63" y2="452.50" stroke="#111" stroke-width="1"/>
<text x="601.63" y="456.10" font-size="3.3" text-anchor="middle" fill="#555">50</text>
<line x1="606.01" y1="449.50" x2="606.01" y2="451.10" stroke="#111" stroke-width="0.6"/>
<line x1="610.39" y1="449.50" x2="610.39" y2="451.10" stroke="#111" stroke-width="0.6"/>
<line x1="614.77" y1="449.50" x2="614.77" y2="451.10" stroke="#111" stroke-width="0.6"/>
<line x1="619.14" y1="449.50" x2="619.14" y2="451.10" stroke="#111" stroke-width="0.6"/>
<line x1="623.52" y1="449.50" x2="623.52" y2="452.50" stroke="#111" stroke-width="1"/>
<text x="623.52" y="456.10" font-size="3.3" text-anchor="middle" fill="#555">100</text>
<line x1="627.90" y1="449.50" x2="627.90" y2="451.10" stroke="#111" stroke-width="0.6"/>
<line x1="632.27" y1="449.50" x2="632.27" y2="451.10" stroke="#111" stroke-width="0.6"/>
<line x1="636.65" y1="449.50" x2="636.65" y2="451.10" stroke="#111" stroke-width="0.6"/>
<line x1="641.03" y1="449.50" x2="641.03" y2="451.10" stroke="#111" stroke-width="0.6"/>
<line x1="645.40" y1="449.50" x2="645.40" y2="452.50" stroke="#111" stroke-width="1"/>
<text x="645.40" y="456.10" font-size="3.3" text-anchor="middle" fill="#555">150</text>
<line x1="649.78" y1="449.50" x2="649.78" y2="451.10" stroke="#111" stroke-width="0.6"/>
<line x1="654.16" y1="449.50" x2="654.16" y2="451.10" stroke="#111" stroke-width="0.6"/>
<line x1="658.54" y1="449.50" x2="658.54" y2="451.10" stroke="#111" stroke-width="0.6"/>
<g filter="url(#blurD)">
<g transform="translate(66.55,548.40) scale(0.4377,-0.4620)" fill="#d6d6d6">
<path d="M64.5,137.7C64.8,140.1 69.2,144.6 72.0,147.7C74.8,150.8 77.8,154.3 81.0,156.2C84.2,158.1 87.5,159.0 91.5,159.0C95.5,159.0 101.8,158.3 105.0,156.2C108.2,154.1 110.8,149.5 111.0,146.3C111.2,143.1 108.0,139.6 106.0,137.0C104.0,134.4 102.7,132.2 99.0,131.0C95.3,129.8 88.8,129.2 84.0,129.5C79.2,129.8 73.2,131.6 70.0,133.0C66.8,134.4 64.2,135.2 64.5,137.7Z"/>
<path d="M109.0,145.0C109.8,146.7 113.7,144.4 117.0,144.4C120.3,144.4 125.0,146.1 129.0,145.0C133.0,143.9 138.0,140.6 141.0,137.7C144.0,134.8 147.2,130.1 147.0,127.8C146.8,125.5 143.7,124.0 140.0,124.0C136.3,124.0 129.7,126.3 125.0,128.0C120.3,129.7 114.7,131.2 112.0,134.0C109.3,136.8 108.2,143.3 109.0,145.0Z"/>
<path d="M93.0,124.9C93.7,126.9 106.4,128.4 108.0,129.2C109.6,130.0 110.6,134.1 112.0,134.0C113.4,133.9 122.7,128.8 125.0,128.0C127.3,127.2 138.2,124.1 140.0,124.0C141.8,123.9 145.5,127.5 146.0,127.0C146.5,126.5 146.0,120.0 145.5,117.8C145.0,115.5 140.5,102.4 140.0,100.0C139.5,97.6 138.8,91.5 139.0,89.4C139.2,87.3 142.2,76.8 142.0,75.0C141.8,73.2 138.3,68.8 137.0,68.0C135.7,67.2 127.8,66.0 126.0,66.0C124.2,66.0 116.2,67.7 115.0,68.0C113.8,68.3 111.6,68.2 111.0,70.0C110.4,71.8 108.9,86.1 108.0,89.0C107.1,91.9 101.2,102.0 100.0,105.0C98.8,108.0 92.3,122.9 93.0,124.9Z"/>
<path d="M148.0,109.3C150.7,112.1 155.9,109.2 159.0,106.4C162.1,103.6 166.0,96.9 166.5,92.2C167.0,87.5 164.9,80.8 162.0,78.0C159.1,75.2 152.2,73.3 149.0,75.2C145.8,77.1 143.2,83.7 143.0,89.4C142.8,95.1 145.3,106.5 148.0,109.3Z"/>
<path d="M39.0,127.8C41.0,128.8 49.0,129.3 51.0,129.2C53.0,129.1 60.8,126.9 63.0,126.3C65.2,125.7 75.5,121.7 78.0,121.5C80.5,121.3 91.2,125.4 93.0,124.0C94.8,122.6 98.8,107.9 100.0,105.0C101.2,102.1 107.1,91.9 108.0,89.0C108.9,86.1 111.0,71.9 111.0,70.0C111.0,68.1 109.3,67.4 108.0,66.6C106.7,65.8 97.3,61.4 95.0,60.0C92.7,58.6 82.4,51.7 80.0,50.0C77.6,48.3 68.1,41.5 66.0,40.0C63.9,38.5 57.0,32.2 55.0,32.0C53.0,31.8 44.0,36.6 42.0,37.5C40.0,38.4 33.0,42.0 31.5,43.0C30.0,44.0 24.9,48.1 24.0,49.6C23.1,51.1 21.2,58.9 21.0,61.0C20.8,63.1 21.1,72.6 21.0,75.2C20.9,77.8 19.5,89.6 19.5,92.2C19.5,94.8 20.4,104.3 21.0,106.4C21.6,108.5 25.5,116.0 27.0,117.8C28.5,119.6 37.0,126.8 39.0,127.8Z"/>
<path d="M55.0,32.0C55.2,33.2 63.9,38.5 66.0,40.0C68.1,41.5 77.6,48.3 80.0,50.0C82.4,51.7 92.7,58.6 95.0,60.0C97.3,61.4 106.6,66.3 108.0,66.6C109.4,66.8 111.3,64.1 112.0,63.0C112.7,61.9 115.2,54.8 116.0,53.0C116.8,51.2 120.3,42.9 121.0,41.0C121.7,39.1 124.6,31.5 124.5,29.7C124.4,27.9 121.1,20.5 120.0,19.0C118.9,17.5 112.8,12.6 111.0,11.6C109.2,10.6 100.9,7.6 99.0,7.3C97.1,7.0 89.9,7.7 88.0,8.5C86.1,9.3 78.0,15.5 76.0,17.0C74.0,18.5 65.8,24.8 64.0,26.0C62.2,27.2 54.8,30.8 55.0,32.0Z"/>
<path d="M-1.0,78.0C-0.7,80.7 -0.2,84.7 1.0,87.0C2.2,89.3 4.3,91.3 6.0,92.0C7.7,92.7 9.5,92.3 11.0,91.0C12.5,89.7 14.2,87.2 15.0,84.0C15.8,80.8 16.3,75.5 16.0,72.0C15.7,68.5 14.5,64.8 13.0,63.0C11.5,61.2 9.0,60.8 7.0,61.0C5.0,61.2 2.3,62.3 1.0,64.0C-0.3,65.7 -0.7,68.7 -1.0,71.0C-1.3,73.3 -1.3,75.3 -1.0,78.0Z"/>
<path d="M130.0,57.0a9.0,7.5 0 1,0 18.0,0a9.0,7.5 0 1,0 -18.0,0Z"/>
<path d="M145.5,56.0a8.0,6.5 0 1,0 16.0,0a8.0,6.5 0 1,0 -16.0,0Z"/>
<path d="M128.0,43.0a6.0,4.5 0 1,0 12.0,0a6.0,4.5 0 1,0 -12.0,0Z"/>
<path d="M129.0,27.0a6.0,7.0 0 1,0 12.0,0a6.0,7.0 0 1,0 -12.0,0Z"/>
<path d="M76.5,7.5a5.5,4.2 0 1,0 11.0,0a5.5,4.2 0 1,0 -11.0,0Z"/>
<path d="M63.5,13.2C63.8,13.9 63.8,14.8 63.3,15.8C62.9,16.7 62.1,17.9 61.0,18.9C59.9,20.0 58.4,21.2 56.8,22.3C55.2,23.3 53.3,24.4 51.5,25.3C49.6,26.1 47.5,26.9 45.7,27.4C43.9,28.0 42.0,28.4 40.5,28.5C39.0,28.6 37.5,28.5 36.5,28.3C35.5,28.0 34.8,27.4 34.5,26.8C34.2,26.1 34.2,25.2 34.7,24.2C35.1,23.3 35.9,22.1 37.0,21.1C38.1,20.0 39.6,18.8 41.2,17.7C42.8,16.7 44.7,15.6 46.5,14.7C48.4,13.9 50.5,13.1 52.3,12.6C54.1,12.0 56.0,11.6 57.5,11.5C59.0,11.4 60.5,11.5 61.5,11.7C62.5,12.0 63.2,12.6 63.5,13.2Z"/>
<path d="M68.3,8.5a3.2,3.2 0 1,0 6.4,0a3.2,3.2 0 1,0 -6.4,0Z"/>
</g>
<ellipse cx="98" cy="513" rx="26" ry="22" fill="#9a9a9a" opacity="0.8"/>
<ellipse cx="79.0" cy="495.0" rx="5.2" ry="5.2" fill="rgb(150,150,150)"/>
<ellipse cx="105.0" cy="481.0" rx="9.1" ry="6.5" fill="rgb(140,140,140)"/>
<ellipse cx="133.0" cy="522.0" rx="5.2" ry="3.9" fill="rgb(140,140,140)"/>
<ellipse cx="73.0" cy="510.0" rx="3.9" ry="5.2" fill="rgb(140,140,140)"/>
<ellipse cx="104.0" cy="542.0" rx="3.9" ry="3.2" fill="rgb(140,140,140)"/>
<ellipse cx="120.0" cy="488.0" rx="6.5" ry="5.2" fill="rgb(130,130,130)"/>
<ellipse cx="91.0" cy="496.0" rx="5.2" ry="5.2" fill="rgb(130,130,130)"/>
<ellipse cx="70.0" cy="505.0" rx="3.2" ry="3.2" fill="rgb(130,130,130)"/>
<ellipse cx="110.0" cy="505.0" rx="6.5" ry="6.5" fill="rgb(120,120,120)"/>
<ellipse cx="125.0" cy="520.0" rx="5.2" ry="5.2" fill="rgb(120,120,120)"/>
<ellipse cx="89.2" cy="537.6" rx="4.5" ry="2.6" fill="rgb(109,109,109)"/>
<ellipse cx="103.0" cy="478.0" rx="3.9" ry="3.2" fill="rgb(109,109,109)"/>
<ellipse cx="92.0" cy="530.0" rx="5.2" ry="3.9" fill="rgb(109,109,109)"/>
<ellipse cx="104.0" cy="505.0" rx="3.9" ry="3.9" fill="rgb(99,99,99)"/>
<ellipse cx="112.0" cy="528.0" rx="6.5" ry="5.2" fill="rgb(99,99,99)"/>
<ellipse cx="100.0" cy="515.0" rx="5.2" ry="5.2" fill="rgb(88,88,88)"/>
<ellipse cx="96.4" cy="532.4" rx="3.9" ry="3.9" fill="rgb(77,77,77)"/>
<ellipse cx="122.7" cy="502.2" rx="3.9" ry="3.9" fill="rgb(77,77,77)"/>
<ellipse cx="128.0" cy="498.2" rx="2.9" ry="2.9" fill="rgb(55,55,55)"/>
<ellipse cx="125.3" cy="537.0" rx="2.3" ry="2.3" fill="rgb(55,55,55)"/>
<ellipse cx="77.4" cy="503.5" rx="2.6" ry="2.6" fill="rgb(43,43,43)"/>
<ellipse cx="97.7" cy="512.0" rx="4.1" ry="3.8" fill="rgb(43,43,43)"/>
<ellipse cx="80.6" cy="512.7" rx="4.6" ry="4.3" fill="rgb(43,43,43)"/>
<ellipse cx="108.9" cy="520.6" rx="2.9" ry="2.9" fill="rgb(43,43,43)"/>
<ellipse cx="135.8" cy="504.1" rx="3.5" ry="4.3" fill="rgb(36,36,36)"/>
<ellipse cx="117.4" cy="491.7" rx="3.2" ry="3.2" fill="rgb(32,32,32)"/>
<ellipse cx="85.2" cy="520.6" rx="4.3" ry="4.3" fill="rgb(32,32,32)"/>
<ellipse cx="118.1" cy="511.4" rx="4.1" ry="4.1" fill="rgb(32,32,32)"/>
<ellipse cx="131.9" cy="512.0" rx="5.5" ry="4.3" fill="rgb(32,32,32)"/>
<ellipse cx="93.8" cy="516.0" rx="4.1" ry="4.1" fill="rgb(19,19,19)"/>
<ellipse cx="102.3" cy="524.5" rx="4.3" ry="4.3" fill="rgb(19,19,19)"/>
<ellipse cx="82.0" cy="523.2" rx="5.2" ry="5.2" fill="rgb(11,11,11)"/>
<ellipse cx="108.9" cy="492.3" rx="6.5" ry="4.1" fill="rgb(5,5,5)"/>
<ellipse cx="88.5" cy="507.4" rx="5.5" ry="6.5" fill="rgb(5,5,5)"/>
<ellipse cx="114.2" cy="537.6" rx="8.0" ry="4.6" fill="rgb(5,5,5)"/>
</g>
<path d="M57.5,468.5 H147.5 V558.5 H57.5 Z" fill="none" stroke="#999" stroke-width="1"/>
<line x1="55.90" y1="553.02" x2="57.50" y2="553.02" stroke="#111" stroke-width="0.6"/>
<line x1="54.50" y1="548.40" x2="57.50" y2="548.40" stroke="#111" stroke-width="1"/>
<text x="51.50" y="549.70" font-size="3.3" text-anchor="end" fill="#555">0</text>
<line x1="55.90" y1="543.78" x2="57.50" y2="543.78" stroke="#111" stroke-width="0.6"/>
<line x1="55.90" y1="539.16" x2="57.50" y2="539.16" stroke="#111" stroke-width="0.6"/>
<line x1="55.90" y1="534.54" x2="57.50" y2="534.54" stroke="#111" stroke-width="0.6"/>
<line x1="55.90" y1="529.92" x2="57.50" y2="529.92" stroke="#111" stroke-width="0.6"/>
<line x1="54.50" y1="525.30" x2="57.50" y2="525.30" stroke="#111" stroke-width="1"/>
<text x="51.50" y="526.60" font-size="3.3" text-anchor="end" fill="#555">50</text>
<line x1="55.90" y1="520.68" x2="57.50" y2="520.68" stroke="#111" stroke-width="0.6"/>
<line x1="55.90" y1="516.06" x2="57.50" y2="516.06" stroke="#111" stroke-width="0.6"/>
<line x1="55.90" y1="511.44" x2="57.50" y2="511.44" stroke="#111" stroke-width="0.6"/>
<line x1="55.90" y1="506.82" x2="57.50" y2="506.82" stroke="#111" stroke-width="0.6"/>
<line x1="54.50" y1="502.20" x2="57.50" y2="502.20" stroke="#111" stroke-width="1"/>
<text x="51.50" y="503.50" font-size="3.3" text-anchor="end" fill="#555">100</text>
<line x1="55.90" y1="497.58" x2="57.50" y2="497.58" stroke="#111" stroke-width="0.6"/>
<line x1="55.90" y1="492.96" x2="57.50" y2="492.96" stroke="#111" stroke-width="0.6"/>
<line x1="55.90" y1="488.34" x2="57.50" y2="488.34" stroke="#111" stroke-width="0.6"/>
<line x1="55.90" y1="483.72" x2="57.50" y2="483.72" stroke="#111" stroke-width="0.6"/>
<line x1="54.50" y1="479.10" x2="57.50" y2="479.10" stroke="#111" stroke-width="1"/>
<text x="51.50" y="480.40" font-size="3.3" text-anchor="end" fill="#555">150</text>
<line x1="55.90" y1="474.48" x2="57.50" y2="474.48" stroke="#111" stroke-width="0.6"/>
<line x1="55.90" y1="469.86" x2="57.50" y2="469.86" stroke="#111" stroke-width="0.6"/>
<line x1="62.17" y1="558.50" x2="62.17" y2="560.10" stroke="#111" stroke-width="0.6"/>
<line x1="66.55" y1="558.50" x2="66.55" y2="561.50" stroke="#111" stroke-width="1"/>
<text x="66.55" y="565.10" font-size="3.3" text-anchor="middle" fill="#555">0</text>
<line x1="70.93" y1="558.50" x2="70.93" y2="560.10" stroke="#111" stroke-width="0.6"/>
<line x1="75.30" y1="558.50" x2="75.30" y2="560.10" stroke="#111" stroke-width="0.6"/>
<line x1="79.68" y1="558.50" x2="79.68" y2="560.10" stroke="#111" stroke-width="0.6"/>
<line x1="84.06" y1="558.50" x2="84.06" y2="560.10" stroke="#111" stroke-width="0.6"/>
<line x1="88.44" y1="558.50" x2="88.44" y2="561.50" stroke="#111" stroke-width="1"/>
<text x="88.44" y="565.10" font-size="3.3" text-anchor="middle" fill="#555">50</text>
<line x1="92.81" y1="558.50" x2="92.81" y2="560.10" stroke="#111" stroke-width="0.6"/>
<line x1="97.19" y1="558.50" x2="97.19" y2="560.10" stroke="#111" stroke-width="0.6"/>
<line x1="101.57" y1="558.50" x2="101.57" y2="560.10" stroke="#111" stroke-width="0.6"/>
<line x1="105.94" y1="558.50" x2="105.94" y2="560.10" stroke="#111" stroke-width="0.6"/>
<line x1="110.32" y1="558.50" x2="110.32" y2="561.50" stroke="#111" stroke-width="1"/>
<text x="110.32" y="565.10" font-size="3.3" text-anchor="middle" fill="#555">100</text>
<line x1="114.70" y1="558.50" x2="114.70" y2="560.10" stroke="#111" stroke-width="0.6"/>
<line x1="119.07" y1="558.50" x2="119.07" y2="560.10" stroke="#111" stroke-width="0.6"/>
<line x1="123.45" y1="558.50" x2="123.45" y2="560.10" stroke="#111" stroke-width="0.6"/>
<line x1="127.83" y1="558.50" x2="127.83" y2="560.10" stroke="#111" stroke-width="0.6"/>
<line x1="132.20" y1="558.50" x2="132.20" y2="561.50" stroke="#111" stroke-width="1"/>
<text x="132.20" y="565.10" font-size="3.3" text-anchor="middle" fill="#555">150</text>
<line x1="136.58" y1="558.50" x2="136.58" y2="560.10" stroke="#111" stroke-width="0.6"/>
<line x1="140.96" y1="558.50" x2="140.96" y2="560.10" stroke="#111" stroke-width="0.6"/>
<line x1="145.34" y1="558.50" x2="145.34" y2="560.10" stroke="#111" stroke-width="0.6"/>
<g filter="url(#spF)"><g transform="translate(168.95,548.40) scale(0.4377,-0.4620)"><g clip-path="url(#tclip)">
<path d="M39.0,127.8C41.0,128.8 49.0,129.3 51.0,129.2C53.0,129.1 60.8,126.9 63.0,126.3C65.2,125.7 75.5,121.7 78.0,121.5C80.5,121.3 91.2,125.4 93.0,124.0C94.8,122.6 98.8,107.9 100.0,105.0C101.2,102.1 107.1,91.9 108.0,89.0C108.9,86.1 111.0,71.9 111.0,70.0C111.0,68.1 109.3,67.4 108.0,66.6C106.7,65.8 97.3,61.4 95.0,60.0C92.7,58.6 82.4,51.7 80.0,50.0C77.6,48.3 68.1,41.5 66.0,40.0C63.9,38.5 57.0,32.2 55.0,32.0C53.0,31.8 44.0,36.6 42.0,37.5C40.0,38.4 33.0,42.0 31.5,43.0C30.0,44.0 24.9,48.1 24.0,49.6C23.1,51.1 21.2,58.9 21.0,61.0C20.8,63.1 21.1,72.6 21.0,75.2C20.9,77.8 19.5,89.6 19.5,92.2C19.5,94.8 20.4,104.3 21.0,106.4C21.6,108.5 25.5,116.0 27.0,117.8C28.5,119.6 37.0,126.8 39.0,127.8Z" fill="#b0e636"/>
<path d="M55.0,32.0C55.2,33.2 63.9,38.5 66.0,40.0C68.1,41.5 77.6,48.3 80.0,50.0C82.4,51.7 92.7,58.6 95.0,60.0C97.3,61.4 106.6,66.3 108.0,66.6C109.4,66.8 111.3,64.1 112.0,63.0C112.7,61.9 115.2,54.8 116.0,53.0C116.8,51.2 120.3,42.9 121.0,41.0C121.7,39.1 124.6,31.5 124.5,29.7C124.4,27.9 121.1,20.5 120.0,19.0C118.9,17.5 112.8,12.6 111.0,11.6C109.2,10.6 100.9,7.6 99.0,7.3C97.1,7.0 89.9,7.7 88.0,8.5C86.1,9.3 78.0,15.5 76.0,17.0C74.0,18.5 65.8,24.8 64.0,26.0C62.2,27.2 54.8,30.8 55.0,32.0Z" fill="#a0e432"/>
<path d="M93.0,124.9C93.7,126.9 106.4,128.4 108.0,129.2C109.6,130.0 110.6,134.1 112.0,134.0C113.4,133.9 122.7,128.8 125.0,128.0C127.3,127.2 138.2,124.1 140.0,124.0C141.8,123.9 145.5,127.5 146.0,127.0C146.5,126.5 146.0,120.0 145.5,117.8C145.0,115.5 140.5,102.4 140.0,100.0C139.5,97.6 138.8,91.5 139.0,89.4C139.2,87.3 142.2,76.8 142.0,75.0C141.8,73.2 138.3,68.8 137.0,68.0C135.7,67.2 127.8,66.0 126.0,66.0C124.2,66.0 116.2,67.7 115.0,68.0C113.8,68.3 111.6,68.2 111.0,70.0C110.4,71.8 108.9,86.1 108.0,89.0C107.1,91.9 101.2,102.0 100.0,105.0C98.8,108.0 92.3,122.9 93.0,124.9Z" fill="#7ee432"/>
<path d="M64.5,137.7C64.8,140.1 69.2,144.6 72.0,147.7C74.8,150.8 77.8,154.3 81.0,156.2C84.2,158.1 87.5,159.0 91.5,159.0C95.5,159.0 101.8,158.3 105.0,156.2C108.2,154.1 110.8,149.5 111.0,146.3C111.2,143.1 108.0,139.6 106.0,137.0C104.0,134.4 102.7,132.2 99.0,131.0C95.3,129.8 88.8,129.2 84.0,129.5C79.2,129.8 73.2,131.6 70.0,133.0C66.8,134.4 64.2,135.2 64.5,137.7Z" fill="#f4c418"/>
<path d="M109.0,145.0C109.8,146.7 113.7,144.4 117.0,144.4C120.3,144.4 125.0,146.1 129.0,145.0C133.0,143.9 138.0,140.6 141.0,137.7C144.0,134.8 147.2,130.1 147.0,127.8C146.8,125.5 143.7,124.0 140.0,124.0C136.3,124.0 129.7,126.3 125.0,128.0C120.3,129.7 114.7,131.2 112.0,134.0C109.3,136.8 108.2,143.3 109.0,145.0Z" fill="#e8d428"/>
<path d="M148.0,109.3C150.7,112.1 155.9,109.2 159.0,106.4C162.1,103.6 166.0,96.9 166.5,92.2C167.0,87.5 164.9,80.8 162.0,78.0C159.1,75.2 152.2,73.3 149.0,75.2C145.8,77.1 143.2,83.7 143.0,89.4C142.8,95.1 145.3,106.5 148.0,109.3Z" fill="#5ee432"/>
<g filter="url(#blurT)">
<ellipse cx="60" cy="80" rx="12.5" ry="12.5" fill="#6ee232"/>
<ellipse cx="40" cy="105" rx="10.0" ry="10.0" fill="#c4e82c"/>
<ellipse cx="85" cy="30" rx="12.5" ry="10.0" fill="#64e030"/>
<ellipse cx="30" cy="65" rx="10.0" ry="10.0" fill="#c0e830"/>
</g>
</g></g></g>
<g filter="url(#spF2)"><g transform="translate(168.95,548.40) scale(0.4377,-0.4620)"><g clip-path="url(#tclipS)">
<path d="M-1.0,78.0C-0.7,80.7 -0.2,84.7 1.0,87.0C2.2,89.3 4.3,91.3 6.0,92.0C7.7,92.7 9.5,92.3 11.0,91.0C12.5,89.7 14.2,87.2 15.0,84.0C15.8,80.8 16.3,75.5 16.0,72.0C15.7,68.5 14.5,64.8 13.0,63.0C11.5,61.2 9.0,60.8 7.0,61.0C5.0,61.2 2.3,62.3 1.0,64.0C-0.3,65.7 -0.7,68.7 -1.0,71.0C-1.3,73.3 -1.3,75.3 -1.0,78.0Z" fill="#b0e636"/>
<path d="M130.0,57.0a9.0,7.5 0 1,0 18.0,0a9.0,7.5 0 1,0 -18.0,0Z" fill="#c8dc28"/>
<path d="M145.5,56.0a8.0,6.5 0 1,0 16.0,0a8.0,6.5 0 1,0 -16.0,0Z" fill="#e8c820"/>
<path d="M128.0,43.0a6.0,4.5 0 1,0 12.0,0a6.0,4.5 0 1,0 -12.0,0Z" fill="#f2c020"/>
<path d="M129.0,27.0a6.0,7.0 0 1,0 12.0,0a6.0,7.0 0 1,0 -12.0,0Z" fill="#74e034"/>
<path d="M76.5,7.5a5.5,4.2 0 1,0 11.0,0a5.5,4.2 0 1,0 -11.0,0Z" fill="#b0e636"/>
<path d="M63.5,13.2C63.8,13.9 63.8,14.8 63.3,15.8C62.9,16.7 62.1,17.9 61.0,18.9C59.9,20.0 58.4,21.2 56.8,22.3C55.2,23.3 53.3,24.4 51.5,25.3C49.6,26.1 47.5,26.9 45.7,27.4C43.9,28.0 42.0,28.4 40.5,28.5C39.0,28.6 37.5,28.5 36.5,28.3C35.5,28.0 34.8,27.4 34.5,26.8C34.2,26.1 34.2,25.2 34.7,24.2C35.1,23.3 35.9,22.1 37.0,21.1C38.1,20.0 39.6,18.8 41.2,17.7C42.8,16.7 44.7,15.6 46.5,14.7C48.4,13.9 50.5,13.1 52.3,12.6C54.1,12.0 56.0,11.6 57.5,11.5C59.0,11.4 60.5,11.5 61.5,11.7C62.5,12.0 63.2,12.6 63.5,13.2Z" fill="#b0e636"/>
<path d="M68.3,8.5a3.2,3.2 0 1,0 6.4,0a3.2,3.2 0 1,0 -6.4,0Z" fill="#b0e636"/>
<g filter="url(#blurT)">
<ellipse cx="60" cy="80" rx="12.5" ry="12.5" fill="#6ee232"/>
<ellipse cx="40" cy="105" rx="10.0" ry="10.0" fill="#c4e82c"/>
<ellipse cx="85" cy="30" rx="12.5" ry="10.0" fill="#64e030"/>
<ellipse cx="30" cy="65" rx="10.0" ry="10.0" fill="#c0e830"/>
</g>
</g></g></g>
<rect x="171.20" y="565.80" width="20.80" height="4.00" fill="url(#gFJ)"/>
<text x="150.60" y="568.80" font-size="3.0" fill="#555">-1620.4269</text>
<text x="196.00" y="568.80" font-size="3.0" fill="#555">262656.653</text>
<text x="150.60" y="574.00" font-size="3.0" fill="#555">FJComp-V0786_60-A</text>
<path d="M160.5,468.5 H250.5 V558.5 H160.5 Z" fill="none" stroke="#999" stroke-width="1"/>
<line x1="158.90" y1="553.02" x2="160.50" y2="553.02" stroke="#111" stroke-width="0.6"/>
<line x1="157.50" y1="548.40" x2="160.50" y2="548.40" stroke="#111" stroke-width="1"/>
<text x="154.50" y="549.70" font-size="3.3" text-anchor="end" fill="#555">0</text>
<line x1="158.90" y1="543.78" x2="160.50" y2="543.78" stroke="#111" stroke-width="0.6"/>
<line x1="158.90" y1="539.16" x2="160.50" y2="539.16" stroke="#111" stroke-width="0.6"/>
<line x1="158.90" y1="534.54" x2="160.50" y2="534.54" stroke="#111" stroke-width="0.6"/>
<line x1="158.90" y1="529.92" x2="160.50" y2="529.92" stroke="#111" stroke-width="0.6"/>
<line x1="157.50" y1="525.30" x2="160.50" y2="525.30" stroke="#111" stroke-width="1"/>
<text x="154.50" y="526.60" font-size="3.3" text-anchor="end" fill="#555">50</text>
<line x1="158.90" y1="520.68" x2="160.50" y2="520.68" stroke="#111" stroke-width="0.6"/>
<line x1="158.90" y1="516.06" x2="160.50" y2="516.06" stroke="#111" stroke-width="0.6"/>
<line x1="158.90" y1="511.44" x2="160.50" y2="511.44" stroke="#111" stroke-width="0.6"/>
<line x1="158.90" y1="506.82" x2="160.50" y2="506.82" stroke="#111" stroke-width="0.6"/>
<line x1="157.50" y1="502.20" x2="160.50" y2="502.20" stroke="#111" stroke-width="1"/>
<text x="154.50" y="503.50" font-size="3.3" text-anchor="end" fill="#555">100</text>
<line x1="158.90" y1="497.58" x2="160.50" y2="497.58" stroke="#111" stroke-width="0.6"/>
<line x1="158.90" y1="492.96" x2="160.50" y2="492.96" stroke="#111" stroke-width="0.6"/>
<line x1="158.90" y1="488.34" x2="160.50" y2="488.34" stroke="#111" stroke-width="0.6"/>
<line x1="158.90" y1="483.72" x2="160.50" y2="483.72" stroke="#111" stroke-width="0.6"/>
<line x1="157.50" y1="479.10" x2="160.50" y2="479.10" stroke="#111" stroke-width="1"/>
<text x="154.50" y="480.40" font-size="3.3" text-anchor="end" fill="#555">150</text>
<line x1="158.90" y1="474.48" x2="160.50" y2="474.48" stroke="#111" stroke-width="0.6"/>
<line x1="158.90" y1="469.86" x2="160.50" y2="469.86" stroke="#111" stroke-width="0.6"/>
<line x1="164.57" y1="558.50" x2="164.57" y2="560.10" stroke="#111" stroke-width="0.6"/>
<line x1="168.95" y1="558.50" x2="168.95" y2="561.50" stroke="#111" stroke-width="1"/>
<text x="168.95" y="565.10" font-size="3.3" text-anchor="middle" fill="#555">0</text>
<line x1="173.33" y1="558.50" x2="173.33" y2="560.10" stroke="#111" stroke-width="0.6"/>
<line x1="177.70" y1="558.50" x2="177.70" y2="560.10" stroke="#111" stroke-width="0.6"/>
<line x1="182.08" y1="558.50" x2="182.08" y2="560.10" stroke="#111" stroke-width="0.6"/>
<line x1="186.46" y1="558.50" x2="186.46" y2="560.10" stroke="#111" stroke-width="0.6"/>
<line x1="190.83" y1="558.50" x2="190.83" y2="561.50" stroke="#111" stroke-width="1"/>
<text x="190.83" y="565.10" font-size="3.3" text-anchor="middle" fill="#555">50</text>
<line x1="195.21" y1="558.50" x2="195.21" y2="560.10" stroke="#111" stroke-width="0.6"/>
<line x1="199.59" y1="558.50" x2="199.59" y2="560.10" stroke="#111" stroke-width="0.6"/>
<line x1="203.97" y1="558.50" x2="203.97" y2="560.10" stroke="#111" stroke-width="0.6"/>
<line x1="208.34" y1="558.50" x2="208.34" y2="560.10" stroke="#111" stroke-width="0.6"/>
<line x1="212.72" y1="558.50" x2="212.72" y2="561.50" stroke="#111" stroke-width="1"/>
<text x="212.72" y="565.10" font-size="3.3" text-anchor="middle" fill="#555">100</text>
<line x1="217.10" y1="558.50" x2="217.10" y2="560.10" stroke="#111" stroke-width="0.6"/>
<line x1="221.47" y1="558.50" x2="221.47" y2="560.10" stroke="#111" stroke-width="0.6"/>
<line x1="225.85" y1="558.50" x2="225.85" y2="560.10" stroke="#111" stroke-width="0.6"/>
<line x1="230.23" y1="558.50" x2="230.23" y2="560.10" stroke="#111" stroke-width="0.6"/>
<line x1="234.60" y1="558.50" x2="234.60" y2="561.50" stroke="#111" stroke-width="1"/>
<text x="234.60" y="565.10" font-size="3.3" text-anchor="middle" fill="#555">150</text>
<line x1="238.98" y1="558.50" x2="238.98" y2="560.10" stroke="#111" stroke-width="0.6"/>
<line x1="243.36" y1="558.50" x2="243.36" y2="560.10" stroke="#111" stroke-width="0.6"/>
<line x1="247.74" y1="558.50" x2="247.74" y2="560.10" stroke="#111" stroke-width="0.6"/>
<g filter="url(#spF)"><g transform="translate(271.75,548.40) scale(0.4377,-0.4620)"><g clip-path="url(#tclip)">
<path d="M39.0,127.8C41.0,128.8 49.0,129.3 51.0,129.2C53.0,129.1 60.8,126.9 63.0,126.3C65.2,125.7 75.5,121.7 78.0,121.5C80.5,121.3 91.2,125.4 93.0,124.0C94.8,122.6 98.8,107.9 100.0,105.0C101.2,102.1 107.1,91.9 108.0,89.0C108.9,86.1 111.0,71.9 111.0,70.0C111.0,68.1 109.3,67.4 108.0,66.6C106.7,65.8 97.3,61.4 95.0,60.0C92.7,58.6 82.4,51.7 80.0,50.0C77.6,48.3 68.1,41.5 66.0,40.0C63.9,38.5 57.0,32.2 55.0,32.0C53.0,31.8 44.0,36.6 42.0,37.5C40.0,38.4 33.0,42.0 31.5,43.0C30.0,44.0 24.9,48.1 24.0,49.6C23.1,51.1 21.2,58.9 21.0,61.0C20.8,63.1 21.1,72.6 21.0,75.2C20.9,77.8 19.5,89.6 19.5,92.2C19.5,94.8 20.4,104.3 21.0,106.4C21.6,108.5 25.5,116.0 27.0,117.8C28.5,119.6 37.0,126.8 39.0,127.8Z" fill="url(#gCD57a)"/>
<path d="M55.0,32.0C55.2,33.2 63.9,38.5 66.0,40.0C68.1,41.5 77.6,48.3 80.0,50.0C82.4,51.7 92.7,58.6 95.0,60.0C97.3,61.4 106.6,66.3 108.0,66.6C109.4,66.8 111.3,64.1 112.0,63.0C112.7,61.9 115.2,54.8 116.0,53.0C116.8,51.2 120.3,42.9 121.0,41.0C121.7,39.1 124.6,31.5 124.5,29.7C124.4,27.9 121.1,20.5 120.0,19.0C118.9,17.5 112.8,12.6 111.0,11.6C109.2,10.6 100.9,7.6 99.0,7.3C97.1,7.0 89.9,7.7 88.0,8.5C86.1,9.3 78.0,15.5 76.0,17.0C74.0,18.5 65.8,24.8 64.0,26.0C62.2,27.2 54.8,30.8 55.0,32.0Z" fill="url(#gCD57b)"/>
<path d="M93.0,124.9C93.7,126.9 106.4,128.4 108.0,129.2C109.6,130.0 110.6,134.1 112.0,134.0C113.4,133.9 122.7,128.8 125.0,128.0C127.3,127.2 138.2,124.1 140.0,124.0C141.8,123.9 145.5,127.5 146.0,127.0C146.5,126.5 146.0,120.0 145.5,117.8C145.0,115.5 140.5,102.4 140.0,100.0C139.5,97.6 138.8,91.5 139.0,89.4C139.2,87.3 142.2,76.8 142.0,75.0C141.8,73.2 138.3,68.8 137.0,68.0C135.7,67.2 127.8,66.0 126.0,66.0C124.2,66.0 116.2,67.7 115.0,68.0C113.8,68.3 111.6,68.2 111.0,70.0C110.4,71.8 108.9,86.1 108.0,89.0C107.1,91.9 101.2,102.0 100.0,105.0C98.8,108.0 92.3,122.9 93.0,124.9Z" fill="#1a985c"/>
<path d="M64.5,137.7C64.8,140.1 69.2,144.6 72.0,147.7C74.8,150.8 77.8,154.3 81.0,156.2C84.2,158.1 87.5,159.0 91.5,159.0C95.5,159.0 101.8,158.3 105.0,156.2C108.2,154.1 110.8,149.5 111.0,146.3C111.2,143.1 108.0,139.6 106.0,137.0C104.0,134.4 102.7,132.2 99.0,131.0C95.3,129.8 88.8,129.2 84.0,129.5C79.2,129.8 73.2,131.6 70.0,133.0C66.8,134.4 64.2,135.2 64.5,137.7Z" fill="#22a062"/>
<path d="M109.0,145.0C109.8,146.7 113.7,144.4 117.0,144.4C120.3,144.4 125.0,146.1 129.0,145.0C133.0,143.9 138.0,140.6 141.0,137.7C144.0,134.8 147.2,130.1 147.0,127.8C146.8,125.5 143.7,124.0 140.0,124.0C136.3,124.0 129.7,126.3 125.0,128.0C120.3,129.7 114.7,131.2 112.0,134.0C109.3,136.8 108.2,143.3 109.0,145.0Z" fill="#22a062"/>
<path d="M148.0,109.3C150.7,112.1 155.9,109.2 159.0,106.4C162.1,103.6 166.0,96.9 166.5,92.2C167.0,87.5 164.9,80.8 162.0,78.0C159.1,75.2 152.2,73.3 149.0,75.2C145.8,77.1 143.2,83.7 143.0,89.4C142.8,95.1 145.3,106.5 148.0,109.3Z" fill="#22a062"/>
<g filter="url(#blurT)">
<ellipse cx="118" cy="100" rx="12.5" ry="15.0" fill="#2878a8"/>
<ellipse cx="130" cy="110" rx="7.5" ry="7.5" fill="#2e80a0"/>
<ellipse cx="30" cy="110" rx="6.2" ry="6.2" fill="#f0b020"/>
</g>
</g></g></g>
<g filter="url(#spF2)"><g transform="translate(271.75,548.40) scale(0.4377,-0.4620)"><g clip-path="url(#tclipS)">
<path d="M-1.0,78.0C-0.7,80.7 -0.2,84.7 1.0,87.0C2.2,89.3 4.3,91.3 6.0,92.0C7.7,92.7 9.5,92.3 11.0,91.0C12.5,89.7 14.2,87.2 15.0,84.0C15.8,80.8 16.3,75.5 16.0,72.0C15.7,68.5 14.5,64.8 13.0,63.0C11.5,61.2 9.0,60.8 7.0,61.0C5.0,61.2 2.3,62.3 1.0,64.0C-0.3,65.7 -0.7,68.7 -1.0,71.0C-1.3,73.3 -1.3,75.3 -1.0,78.0Z" fill="#f89a1c"/>
<path d="M130.0,57.0a9.0,7.5 0 1,0 18.0,0a9.0,7.5 0 1,0 -18.0,0Z" fill="#22a062"/>
<path d="M145.5,56.0a8.0,6.5 0 1,0 16.0,0a8.0,6.5 0 1,0 -16.0,0Z" fill="#22a062"/>
<path d="M128.0,43.0a6.0,4.5 0 1,0 12.0,0a6.0,4.5 0 1,0 -12.0,0Z" fill="#22a062"/>
<path d="M129.0,27.0a6.0,7.0 0 1,0 12.0,0a6.0,7.0 0 1,0 -12.0,0Z" fill="#22a062"/>
<path d="M76.5,7.5a5.5,4.2 0 1,0 11.0,0a5.5,4.2 0 1,0 -11.0,0Z" fill="#22a062"/>
<path d="M63.5,13.2C63.8,13.9 63.8,14.8 63.3,15.8C62.9,16.7 62.1,17.9 61.0,18.9C59.9,20.0 58.4,21.2 56.8,22.3C55.2,23.3 53.3,24.4 51.5,25.3C49.6,26.1 47.5,26.9 45.7,27.4C43.9,28.0 42.0,28.4 40.5,28.5C39.0,28.6 37.5,28.5 36.5,28.3C35.5,28.0 34.8,27.4 34.5,26.8C34.2,26.1 34.2,25.2 34.7,24.2C35.1,23.3 35.9,22.1 37.0,21.1C38.1,20.0 39.6,18.8 41.2,17.7C42.8,16.7 44.7,15.6 46.5,14.7C48.4,13.9 50.5,13.1 52.3,12.6C54.1,12.0 56.0,11.6 57.5,11.5C59.0,11.4 60.5,11.5 61.5,11.7C62.5,12.0 63.2,12.6 63.5,13.2Z" fill="#dccc20"/>
<path d="M68.3,8.5a3.2,3.2 0 1,0 6.4,0a3.2,3.2 0 1,0 -6.4,0Z" fill="#44c040"/>
<g filter="url(#blurT)">
<ellipse cx="118" cy="100" rx="12.5" ry="15.0" fill="#2878a8"/>
<ellipse cx="130" cy="110" rx="7.5" ry="7.5" fill="#2e80a0"/>
<ellipse cx="30" cy="110" rx="6.2" ry="6.2" fill="#f0b020"/>
</g>
</g></g></g>
<rect x="274.00" y="565.80" width="20.80" height="4.00" fill="url(#gFJ)"/>
<text x="253.40" y="568.80" font-size="3.0" fill="#555">-1620.4269</text>
<text x="298.80" y="568.80" font-size="3.0" fill="#555">262656.653</text>
<text x="253.40" y="574.00" font-size="3.0" fill="#555">FJComp-V655_20-A</text>
<path d="M262.5,468.5 H353.5 V558.5 H262.5 Z" fill="none" stroke="#999" stroke-width="1"/>
<line x1="260.90" y1="553.02" x2="262.50" y2="553.02" stroke="#111" stroke-width="0.6"/>
<line x1="259.50" y1="548.40" x2="262.50" y2="548.40" stroke="#111" stroke-width="1"/>
<text x="256.50" y="549.70" font-size="3.3" text-anchor="end" fill="#555">0</text>
<line x1="260.90" y1="543.78" x2="262.50" y2="543.78" stroke="#111" stroke-width="0.6"/>
<line x1="260.90" y1="539.16" x2="262.50" y2="539.16" stroke="#111" stroke-width="0.6"/>
<line x1="260.90" y1="534.54" x2="262.50" y2="534.54" stroke="#111" stroke-width="0.6"/>
<line x1="260.90" y1="529.92" x2="262.50" y2="529.92" stroke="#111" stroke-width="0.6"/>
<line x1="259.50" y1="525.30" x2="262.50" y2="525.30" stroke="#111" stroke-width="1"/>
<text x="256.50" y="526.60" font-size="3.3" text-anchor="end" fill="#555">50</text>
<line x1="260.90" y1="520.68" x2="262.50" y2="520.68" stroke="#111" stroke-width="0.6"/>
<line x1="260.90" y1="516.06" x2="262.50" y2="516.06" stroke="#111" stroke-width="0.6"/>
<line x1="260.90" y1="511.44" x2="262.50" y2="511.44" stroke="#111" stroke-width="0.6"/>
<line x1="260.90" y1="506.82" x2="262.50" y2="506.82" stroke="#111" stroke-width="0.6"/>
<line x1="259.50" y1="502.20" x2="262.50" y2="502.20" stroke="#111" stroke-width="1"/>
<text x="256.50" y="503.50" font-size="3.3" text-anchor="end" fill="#555">100</text>
<line x1="260.90" y1="497.58" x2="262.50" y2="497.58" stroke="#111" stroke-width="0.6"/>
<line x1="260.90" y1="492.96" x2="262.50" y2="492.96" stroke="#111" stroke-width="0.6"/>
<line x1="260.90" y1="488.34" x2="262.50" y2="488.34" stroke="#111" stroke-width="0.6"/>
<line x1="260.90" y1="483.72" x2="262.50" y2="483.72" stroke="#111" stroke-width="0.6"/>
<line x1="259.50" y1="479.10" x2="262.50" y2="479.10" stroke="#111" stroke-width="1"/>
<text x="256.50" y="480.40" font-size="3.3" text-anchor="end" fill="#555">150</text>
<line x1="260.90" y1="474.48" x2="262.50" y2="474.48" stroke="#111" stroke-width="0.6"/>
<line x1="260.90" y1="469.86" x2="262.50" y2="469.86" stroke="#111" stroke-width="0.6"/>
<line x1="267.37" y1="558.50" x2="267.37" y2="560.10" stroke="#111" stroke-width="0.6"/>
<line x1="271.75" y1="558.50" x2="271.75" y2="561.50" stroke="#111" stroke-width="1"/>
<text x="271.75" y="565.10" font-size="3.3" text-anchor="middle" fill="#555">0</text>
<line x1="276.13" y1="558.50" x2="276.13" y2="560.10" stroke="#111" stroke-width="0.6"/>
<line x1="280.50" y1="558.50" x2="280.50" y2="560.10" stroke="#111" stroke-width="0.6"/>
<line x1="284.88" y1="558.50" x2="284.88" y2="560.10" stroke="#111" stroke-width="0.6"/>
<line x1="289.26" y1="558.50" x2="289.26" y2="560.10" stroke="#111" stroke-width="0.6"/>
<line x1="293.63" y1="558.50" x2="293.63" y2="561.50" stroke="#111" stroke-width="1"/>
<text x="293.63" y="565.10" font-size="3.3" text-anchor="middle" fill="#555">50</text>
<line x1="298.01" y1="558.50" x2="298.01" y2="560.10" stroke="#111" stroke-width="0.6"/>
<line x1="302.39" y1="558.50" x2="302.39" y2="560.10" stroke="#111" stroke-width="0.6"/>
<line x1="306.77" y1="558.50" x2="306.77" y2="560.10" stroke="#111" stroke-width="0.6"/>
<line x1="311.14" y1="558.50" x2="311.14" y2="560.10" stroke="#111" stroke-width="0.6"/>
<line x1="315.52" y1="558.50" x2="315.52" y2="561.50" stroke="#111" stroke-width="1"/>
<text x="315.52" y="565.10" font-size="3.3" text-anchor="middle" fill="#555">100</text>
<line x1="319.90" y1="558.50" x2="319.90" y2="560.10" stroke="#111" stroke-width="0.6"/>
<line x1="324.27" y1="558.50" x2="324.27" y2="560.10" stroke="#111" stroke-width="0.6"/>
<line x1="328.65" y1="558.50" x2="328.65" y2="560.10" stroke="#111" stroke-width="0.6"/>
<line x1="333.03" y1="558.50" x2="333.03" y2="560.10" stroke="#111" stroke-width="0.6"/>
<line x1="337.40" y1="558.50" x2="337.40" y2="561.50" stroke="#111" stroke-width="1"/>
<text x="337.40" y="565.10" font-size="3.3" text-anchor="middle" fill="#555">150</text>
<line x1="341.78" y1="558.50" x2="341.78" y2="560.10" stroke="#111" stroke-width="0.6"/>
<line x1="346.16" y1="558.50" x2="346.16" y2="560.10" stroke="#111" stroke-width="0.6"/>
<line x1="350.54" y1="558.50" x2="350.54" y2="560.10" stroke="#111" stroke-width="0.6"/>
<g filter="url(#spF)"><g transform="translate(373.85,548.40) scale(0.4377,-0.4620)"><g clip-path="url(#tclip)">
<path d="M39.0,127.8C41.0,128.8 49.0,129.3 51.0,129.2C53.0,129.1 60.8,126.9 63.0,126.3C65.2,125.7 75.5,121.7 78.0,121.5C80.5,121.3 91.2,125.4 93.0,124.0C94.8,122.6 98.8,107.9 100.0,105.0C101.2,102.1 107.1,91.9 108.0,89.0C108.9,86.1 111.0,71.9 111.0,70.0C111.0,68.1 109.3,67.4 108.0,66.6C106.7,65.8 97.3,61.4 95.0,60.0C92.7,58.6 82.4,51.7 80.0,50.0C77.6,48.3 68.1,41.5 66.0,40.0C63.9,38.5 57.0,32.2 55.0,32.0C53.0,31.8 44.0,36.6 42.0,37.5C40.0,38.4 33.0,42.0 31.5,43.0C30.0,44.0 24.9,48.1 24.0,49.6C23.1,51.1 21.2,58.9 21.0,61.0C20.8,63.1 21.1,72.6 21.0,75.2C20.9,77.8 19.5,89.6 19.5,92.2C19.5,94.8 20.4,104.3 21.0,106.4C21.6,108.5 25.5,116.0 27.0,117.8C28.5,119.6 37.0,126.8 39.0,127.8Z" fill="#f6940f"/>
<path d="M55.0,32.0C55.2,33.2 63.9,38.5 66.0,40.0C68.1,41.5 77.6,48.3 80.0,50.0C82.4,51.7 92.7,58.6 95.0,60.0C97.3,61.4 106.6,66.3 108.0,66.6C109.4,66.8 111.3,64.1 112.0,63.0C112.7,61.9 115.2,54.8 116.0,53.0C116.8,51.2 120.3,42.9 121.0,41.0C121.7,39.1 124.6,31.5 124.5,29.7C124.4,27.9 121.1,20.5 120.0,19.0C118.9,17.5 112.8,12.6 111.0,11.6C109.2,10.6 100.9,7.6 99.0,7.3C97.1,7.0 89.9,7.7 88.0,8.5C86.1,9.3 78.0,15.5 76.0,17.0C74.0,18.5 65.8,24.8 64.0,26.0C62.2,27.2 54.8,30.8 55.0,32.0Z" fill="url(#gCD16b)"/>
<path d="M93.0,124.9C93.7,126.9 106.4,128.4 108.0,129.2C109.6,130.0 110.6,134.1 112.0,134.0C113.4,133.9 122.7,128.8 125.0,128.0C127.3,127.2 138.2,124.1 140.0,124.0C141.8,123.9 145.5,127.5 146.0,127.0C146.5,126.5 146.0,120.0 145.5,117.8C145.0,115.5 140.5,102.4 140.0,100.0C139.5,97.6 138.8,91.5 139.0,89.4C139.2,87.3 142.2,76.8 142.0,75.0C141.8,73.2 138.3,68.8 137.0,68.0C135.7,67.2 127.8,66.0 126.0,66.0C124.2,66.0 116.2,67.7 115.0,68.0C113.8,68.3 111.6,68.2 111.0,70.0C110.4,71.8 108.9,86.1 108.0,89.0C107.1,91.9 101.2,102.0 100.0,105.0C98.8,108.0 92.3,122.9 93.0,124.9Z" fill="url(#gCD16a)"/>
<path d="M64.5,137.7C64.8,140.1 69.2,144.6 72.0,147.7C74.8,150.8 77.8,154.3 81.0,156.2C84.2,158.1 87.5,159.0 91.5,159.0C95.5,159.0 101.8,158.3 105.0,156.2C108.2,154.1 110.8,149.5 111.0,146.3C111.2,143.1 108.0,139.6 106.0,137.0C104.0,134.4 102.7,132.2 99.0,131.0C95.3,129.8 88.8,129.2 84.0,129.5C79.2,129.8 73.2,131.6 70.0,133.0C66.8,134.4 64.2,135.2 64.5,137.7Z" fill="#1c9a54"/>
<path d="M109.0,145.0C109.8,146.7 113.7,144.4 117.0,144.4C120.3,144.4 125.0,146.1 129.0,145.0C133.0,143.9 138.0,140.6 141.0,137.7C144.0,134.8 147.2,130.1 147.0,127.8C146.8,125.5 143.7,124.0 140.0,124.0C136.3,124.0 129.7,126.3 125.0,128.0C120.3,129.7 114.7,131.2 112.0,134.0C109.3,136.8 108.2,143.3 109.0,145.0Z" fill="url(#gCD16c)"/>
<path d="M148.0,109.3C150.7,112.1 155.9,109.2 159.0,106.4C162.1,103.6 166.0,96.9 166.5,92.2C167.0,87.5 164.9,80.8 162.0,78.0C159.1,75.2 152.2,73.3 149.0,75.2C145.8,77.1 143.2,83.7 143.0,89.4C142.8,95.1 145.3,106.5 148.0,109.3Z" fill="#44c444"/>
<g filter="url(#blurT)">
<ellipse cx="145" cy="88" rx="6.2" ry="12.5" fill="#b8e020"/>
</g>
</g></g></g>
<g filter="url(#spF2)"><g transform="translate(373.85,548.40) scale(0.4377,-0.4620)"><g clip-path="url(#tclipS)">
<path d="M-1.0,78.0C-0.7,80.7 -0.2,84.7 1.0,87.0C2.2,89.3 4.3,91.3 6.0,92.0C7.7,92.7 9.5,92.3 11.0,91.0C12.5,89.7 14.2,87.2 15.0,84.0C15.8,80.8 16.3,75.5 16.0,72.0C15.7,68.5 14.5,64.8 13.0,63.0C11.5,61.2 9.0,60.8 7.0,61.0C5.0,61.2 2.3,62.3 1.0,64.0C-0.3,65.7 -0.7,68.7 -1.0,71.0C-1.3,73.3 -1.3,75.3 -1.0,78.0Z" fill="#cce020"/>
<path d="M130.0,57.0a9.0,7.5 0 1,0 18.0,0a9.0,7.5 0 1,0 -18.0,0Z" fill="#e0d022"/>
<path d="M145.5,56.0a8.0,6.5 0 1,0 16.0,0a8.0,6.5 0 1,0 -16.0,0Z" fill="#22a060"/>
<path d="M128.0,43.0a6.0,4.5 0 1,0 12.0,0a6.0,4.5 0 1,0 -12.0,0Z" fill="#22a060"/>
<path d="M129.0,27.0a6.0,7.0 0 1,0 12.0,0a6.0,7.0 0 1,0 -12.0,0Z" fill="#22a060"/>
<path d="M76.5,7.5a5.5,4.2 0 1,0 11.0,0a5.5,4.2 0 1,0 -11.0,0Z" fill="#f4a820"/>
<path d="M63.5,13.2C63.8,13.9 63.8,14.8 63.3,15.8C62.9,16.7 62.1,17.9 61.0,18.9C59.9,20.0 58.4,21.2 56.8,22.3C55.2,23.3 53.3,24.4 51.5,25.3C49.6,26.1 47.5,26.9 45.7,27.4C43.9,28.0 42.0,28.4 40.5,28.5C39.0,28.6 37.5,28.5 36.5,28.3C35.5,28.0 34.8,27.4 34.5,26.8C34.2,26.1 34.2,25.2 34.7,24.2C35.1,23.3 35.9,22.1 37.0,21.1C38.1,20.0 39.6,18.8 41.2,17.7C42.8,16.7 44.7,15.6 46.5,14.7C48.4,13.9 50.5,13.1 52.3,12.6C54.1,12.0 56.0,11.6 57.5,11.5C59.0,11.4 60.5,11.5 61.5,11.7C62.5,12.0 63.2,12.6 63.5,13.2Z" fill="#f4a020"/>
<path d="M68.3,8.5a3.2,3.2 0 1,0 6.4,0a3.2,3.2 0 1,0 -6.4,0Z" fill="#40c040"/>
<g filter="url(#blurT)">
<ellipse cx="145" cy="88" rx="6.2" ry="12.5" fill="#b8e020"/>
</g>
</g></g></g>
<rect x="376.10" y="565.80" width="20.80" height="4.00" fill="url(#gFJ)"/>
<text x="355.50" y="568.80" font-size="3.0" fill="#555">-1620.4269</text>
<text x="400.90" y="568.80" font-size="3.0" fill="#555">262656.653</text>
<text x="355.50" y="574.00" font-size="3.0" fill="#555">FJComp-R630_40-A</text>
<path d="M364.5,468.5 H455.5 V558.5 H364.5 Z" fill="none" stroke="#999" stroke-width="1"/>
<line x1="362.90" y1="553.02" x2="364.50" y2="553.02" stroke="#111" stroke-width="0.6"/>
<line x1="361.50" y1="548.40" x2="364.50" y2="548.40" stroke="#111" stroke-width="1"/>
<text x="358.50" y="549.70" font-size="3.3" text-anchor="end" fill="#555">0</text>
<line x1="362.90" y1="543.78" x2="364.50" y2="543.78" stroke="#111" stroke-width="0.6"/>
<line x1="362.90" y1="539.16" x2="364.50" y2="539.16" stroke="#111" stroke-width="0.6"/>
<line x1="362.90" y1="534.54" x2="364.50" y2="534.54" stroke="#111" stroke-width="0.6"/>
<line x1="362.90" y1="529.92" x2="364.50" y2="529.92" stroke="#111" stroke-width="0.6"/>
<line x1="361.50" y1="525.30" x2="364.50" y2="525.30" stroke="#111" stroke-width="1"/>
<text x="358.50" y="526.60" font-size="3.3" text-anchor="end" fill="#555">50</text>
<line x1="362.90" y1="520.68" x2="364.50" y2="520.68" stroke="#111" stroke-width="0.6"/>
<line x1="362.90" y1="516.06" x2="364.50" y2="516.06" stroke="#111" stroke-width="0.6"/>
<line x1="362.90" y1="511.44" x2="364.50" y2="511.44" stroke="#111" stroke-width="0.6"/>
<line x1="362.90" y1="506.82" x2="364.50" y2="506.82" stroke="#111" stroke-width="0.6"/>
<line x1="361.50" y1="502.20" x2="364.50" y2="502.20" stroke="#111" stroke-width="1"/>
<text x="358.50" y="503.50" font-size="3.3" text-anchor="end" fill="#555">100</text>
<line x1="362.90" y1="497.58" x2="364.50" y2="497.58" stroke="#111" stroke-width="0.6"/>
<line x1="362.90" y1="492.96" x2="364.50" y2="492.96" stroke="#111" stroke-width="0.6"/>
<line x1="362.90" y1="488.34" x2="364.50" y2="488.34" stroke="#111" stroke-width="0.6"/>
<line x1="362.90" y1="483.72" x2="364.50" y2="483.72" stroke="#111" stroke-width="0.6"/>
<line x1="361.50" y1="479.10" x2="364.50" y2="479.10" stroke="#111" stroke-width="1"/>
<text x="358.50" y="480.40" font-size="3.3" text-anchor="end" fill="#555">150</text>
<line x1="362.90" y1="474.48" x2="364.50" y2="474.48" stroke="#111" stroke-width="0.6"/>
<line x1="362.90" y1="469.86" x2="364.50" y2="469.86" stroke="#111" stroke-width="0.6"/>
<line x1="369.47" y1="558.50" x2="369.47" y2="560.10" stroke="#111" stroke-width="0.6"/>
<line x1="373.85" y1="558.50" x2="373.85" y2="561.50" stroke="#111" stroke-width="1"/>
<text x="373.85" y="565.10" font-size="3.3" text-anchor="middle" fill="#555">0</text>
<line x1="378.23" y1="558.50" x2="378.23" y2="560.10" stroke="#111" stroke-width="0.6"/>
<line x1="382.60" y1="558.50" x2="382.60" y2="560.10" stroke="#111" stroke-width="0.6"/>
<line x1="386.98" y1="558.50" x2="386.98" y2="560.10" stroke="#111" stroke-width="0.6"/>
<line x1="391.36" y1="558.50" x2="391.36" y2="560.10" stroke="#111" stroke-width="0.6"/>
<line x1="395.74" y1="558.50" x2="395.74" y2="561.50" stroke="#111" stroke-width="1"/>
<text x="395.74" y="565.10" font-size="3.3" text-anchor="middle" fill="#555">50</text>
<line x1="400.11" y1="558.50" x2="400.11" y2="560.10" stroke="#111" stroke-width="0.6"/>
<line x1="404.49" y1="558.50" x2="404.49" y2="560.10" stroke="#111" stroke-width="0.6"/>
<line x1="408.87" y1="558.50" x2="408.87" y2="560.10" stroke="#111" stroke-width="0.6"/>
<line x1="413.24" y1="558.50" x2="413.24" y2="560.10" stroke="#111" stroke-width="0.6"/>
<line x1="417.62" y1="558.50" x2="417.62" y2="561.50" stroke="#111" stroke-width="1"/>
<text x="417.62" y="565.10" font-size="3.3" text-anchor="middle" fill="#555">100</text>
<line x1="422.00" y1="558.50" x2="422.00" y2="560.10" stroke="#111" stroke-width="0.6"/>
<line x1="426.37" y1="558.50" x2="426.37" y2="560.10" stroke="#111" stroke-width="0.6"/>
<line x1="430.75" y1="558.50" x2="430.75" y2="560.10" stroke="#111" stroke-width="0.6"/>
<line x1="435.13" y1="558.50" x2="435.13" y2="560.10" stroke="#111" stroke-width="0.6"/>
<line x1="439.50" y1="558.50" x2="439.50" y2="561.50" stroke="#111" stroke-width="1"/>
<text x="439.50" y="565.10" font-size="3.3" text-anchor="middle" fill="#555">150</text>
<line x1="443.88" y1="558.50" x2="443.88" y2="560.10" stroke="#111" stroke-width="0.6"/>
<line x1="448.26" y1="558.50" x2="448.26" y2="560.10" stroke="#111" stroke-width="0.6"/>
<line x1="452.64" y1="558.50" x2="452.64" y2="560.10" stroke="#111" stroke-width="0.6"/>
<g filter="url(#spF)"><g transform="translate(476.25,548.40) scale(0.4377,-0.4620)"><g clip-path="url(#tclip)">
<path d="M39.0,127.8C41.0,128.8 49.0,129.3 51.0,129.2C53.0,129.1 60.8,126.9 63.0,126.3C65.2,125.7 75.5,121.7 78.0,121.5C80.5,121.3 91.2,125.4 93.0,124.0C94.8,122.6 98.8,107.9 100.0,105.0C101.2,102.1 107.1,91.9 108.0,89.0C108.9,86.1 111.0,71.9 111.0,70.0C111.0,68.1 109.3,67.4 108.0,66.6C106.7,65.8 97.3,61.4 95.0,60.0C92.7,58.6 82.4,51.7 80.0,50.0C77.6,48.3 68.1,41.5 66.0,40.0C63.9,38.5 57.0,32.2 55.0,32.0C53.0,31.8 44.0,36.6 42.0,37.5C40.0,38.4 33.0,42.0 31.5,43.0C30.0,44.0 24.9,48.1 24.0,49.6C23.1,51.1 21.2,58.9 21.0,61.0C20.8,63.1 21.1,72.6 21.0,75.2C20.9,77.8 19.5,89.6 19.5,92.2C19.5,94.8 20.4,104.3 21.0,106.4C21.6,108.5 25.5,116.0 27.0,117.8C28.5,119.6 37.0,126.8 39.0,127.8Z" fill="#34c236"/>
<path d="M55.0,32.0C55.2,33.2 63.9,38.5 66.0,40.0C68.1,41.5 77.6,48.3 80.0,50.0C82.4,51.7 92.7,58.6 95.0,60.0C97.3,61.4 106.6,66.3 108.0,66.6C109.4,66.8 111.3,64.1 112.0,63.0C112.7,61.9 115.2,54.8 116.0,53.0C116.8,51.2 120.3,42.9 121.0,41.0C121.7,39.1 124.6,31.5 124.5,29.7C124.4,27.9 121.1,20.5 120.0,19.0C118.9,17.5 112.8,12.6 111.0,11.6C109.2,10.6 100.9,7.6 99.0,7.3C97.1,7.0 89.9,7.7 88.0,8.5C86.1,9.3 78.0,15.5 76.0,17.0C74.0,18.5 65.8,24.8 64.0,26.0C62.2,27.2 54.8,30.8 55.0,32.0Z" fill="#34c236"/>
<path d="M93.0,124.9C93.7,126.9 106.4,128.4 108.0,129.2C109.6,130.0 110.6,134.1 112.0,134.0C113.4,133.9 122.7,128.8 125.0,128.0C127.3,127.2 138.2,124.1 140.0,124.0C141.8,123.9 145.5,127.5 146.0,127.0C146.5,126.5 146.0,120.0 145.5,117.8C145.0,115.5 140.5,102.4 140.0,100.0C139.5,97.6 138.8,91.5 139.0,89.4C139.2,87.3 142.2,76.8 142.0,75.0C141.8,73.2 138.3,68.8 137.0,68.0C135.7,67.2 127.8,66.0 126.0,66.0C124.2,66.0 116.2,67.7 115.0,68.0C113.8,68.3 111.6,68.2 111.0,70.0C110.4,71.8 108.9,86.1 108.0,89.0C107.1,91.9 101.2,102.0 100.0,105.0C98.8,108.0 92.3,122.9 93.0,124.9Z" fill="#34c236"/>
<path d="M64.5,137.7C64.8,140.1 69.2,144.6 72.0,147.7C74.8,150.8 77.8,154.3 81.0,156.2C84.2,158.1 87.5,159.0 91.5,159.0C95.5,159.0 101.8,158.3 105.0,156.2C108.2,154.1 110.8,149.5 111.0,146.3C111.2,143.1 108.0,139.6 106.0,137.0C104.0,134.4 102.7,132.2 99.0,131.0C95.3,129.8 88.8,129.2 84.0,129.5C79.2,129.8 73.2,131.6 70.0,133.0C66.8,134.4 64.2,135.2 64.5,137.7Z" fill="#3ac636"/>
<path d="M109.0,145.0C109.8,146.7 113.7,144.4 117.0,144.4C120.3,144.4 125.0,146.1 129.0,145.0C133.0,143.9 138.0,140.6 141.0,137.7C144.0,134.8 147.2,130.1 147.0,127.8C146.8,125.5 143.7,124.0 140.0,124.0C136.3,124.0 129.7,126.3 125.0,128.0C120.3,129.7 114.7,131.2 112.0,134.0C109.3,136.8 108.2,143.3 109.0,145.0Z" fill="#34c236"/>
<path d="M148.0,109.3C150.7,112.1 155.9,109.2 159.0,106.4C162.1,103.6 166.0,96.9 166.5,92.2C167.0,87.5 164.9,80.8 162.0,78.0C159.1,75.2 152.2,73.3 149.0,75.2C145.8,77.1 143.2,83.7 143.0,89.4C142.8,95.1 145.3,106.5 148.0,109.3Z" fill="#34c236"/>
<g filter="url(#blurT)">
<ellipse cx="60" cy="92" rx="10.0" ry="16.2" fill="#1c48d0"/>
<ellipse cx="75" cy="112" rx="10.0" ry="8.8" fill="#2050d0"/>
<ellipse cx="117" cy="98" rx="8.8" ry="10.0" fill="#2454cc"/>
<ellipse cx="62" cy="70" rx="7.5" ry="7.5" fill="#2a5ac8"/>
<ellipse cx="95" cy="105" rx="7.5" ry="7.5" fill="#2a5ac8"/>
<ellipse cx="8" cy="86" rx="7.5" ry="10.0" fill="#e0e020"/>
<ellipse cx="40" cy="105" rx="6.2" ry="6.2" fill="#2a5ac8"/>
</g>
</g></g></g>
<g filter="url(#spF2)"><g transform="translate(476.25,548.40) scale(0.4377,-0.4620)"><g clip-path="url(#tclipS)">
<path d="M-1.0,78.0C-0.7,80.7 -0.2,84.7 1.0,87.0C2.2,89.3 4.3,91.3 6.0,92.0C7.7,92.7 9.5,92.3 11.0,91.0C12.5,89.7 14.2,87.2 15.0,84.0C15.8,80.8 16.3,75.5 16.0,72.0C15.7,68.5 14.5,64.8 13.0,63.0C11.5,61.2 9.0,60.8 7.0,61.0C5.0,61.2 2.3,62.3 1.0,64.0C-0.3,65.7 -0.7,68.7 -1.0,71.0C-1.3,73.3 -1.3,75.3 -1.0,78.0Z" fill="#e8e024"/>
<path d="M130.0,57.0a9.0,7.5 0 1,0 18.0,0a9.0,7.5 0 1,0 -18.0,0Z" fill="#c8e020"/>
<path d="M145.5,56.0a8.0,6.5 0 1,0 16.0,0a8.0,6.5 0 1,0 -16.0,0Z" fill="#a8e030"/>
<path d="M128.0,43.0a6.0,4.5 0 1,0 12.0,0a6.0,4.5 0 1,0 -12.0,0Z" fill="#34c236"/>
<path d="M129.0,27.0a6.0,7.0 0 1,0 12.0,0a6.0,7.0 0 1,0 -12.0,0Z" fill="#34c236"/>
<path d="M76.5,7.5a5.5,4.2 0 1,0 11.0,0a5.5,4.2 0 1,0 -11.0,0Z" fill="#34c236"/>
<path d="M63.5,13.2C63.8,13.9 63.8,14.8 63.3,15.8C62.9,16.7 62.1,17.9 61.0,18.9C59.9,20.0 58.4,21.2 56.8,22.3C55.2,23.3 53.3,24.4 51.5,25.3C49.6,26.1 47.5,26.9 45.7,27.4C43.9,28.0 42.0,28.4 40.5,28.5C39.0,28.6 37.5,28.5 36.5,28.3C35.5,28.0 34.8,27.4 34.5,26.8C34.2,26.1 34.2,25.2 34.7,24.2C35.1,23.3 35.9,22.1 37.0,21.1C38.1,20.0 39.6,18.8 41.2,17.7C42.8,16.7 44.7,15.6 46.5,14.7C48.4,13.9 50.5,13.1 52.3,12.6C54.1,12.0 56.0,11.6 57.5,11.5C59.0,11.4 60.5,11.5 61.5,11.7C62.5,12.0 63.2,12.6 63.5,13.2Z" fill="#34c236"/>
<path d="M68.3,8.5a3.2,3.2 0 1,0 6.4,0a3.2,3.2 0 1,0 -6.4,0Z" fill="#34c236"/>
<g filter="url(#blurT)">
<ellipse cx="60" cy="92" rx="10.0" ry="16.2" fill="#1c48d0"/>
<ellipse cx="75" cy="112" rx="10.0" ry="8.8" fill="#2050d0"/>
<ellipse cx="117" cy="98" rx="8.8" ry="10.0" fill="#2454cc"/>
<ellipse cx="62" cy="70" rx="7.5" ry="7.5" fill="#2a5ac8"/>
<ellipse cx="95" cy="105" rx="7.5" ry="7.5" fill="#2a5ac8"/>
<ellipse cx="8" cy="86" rx="7.5" ry="10.0" fill="#e0e020"/>
<ellipse cx="40" cy="105" rx="6.2" ry="6.2" fill="#2a5ac8"/>
</g>
</g></g></g>
<rect x="478.50" y="565.80" width="20.80" height="4.00" fill="url(#gFJ)"/>
<text x="457.90" y="568.80" font-size="3.0" fill="#555">-1620.4269</text>
<text x="503.30" y="568.80" font-size="3.0" fill="#555">262656.653</text>
<text x="457.90" y="574.00" font-size="3.0" fill="#555">FJComp-Y0586_15-A</text>
<path d="M467.5,468.5 H557.5 V558.5 H467.5 Z" fill="none" stroke="#999" stroke-width="1"/>
<line x1="465.90" y1="553.02" x2="467.50" y2="553.02" stroke="#111" stroke-width="0.6"/>
<line x1="464.50" y1="548.40" x2="467.50" y2="548.40" stroke="#111" stroke-width="1"/>
<text x="461.50" y="549.70" font-size="3.3" text-anchor="end" fill="#555">0</text>
<line x1="465.90" y1="543.78" x2="467.50" y2="543.78" stroke="#111" stroke-width="0.6"/>
<line x1="465.90" y1="539.16" x2="467.50" y2="539.16" stroke="#111" stroke-width="0.6"/>
<line x1="465.90" y1="534.54" x2="467.50" y2="534.54" stroke="#111" stroke-width="0.6"/>
<line x1="465.90" y1="529.92" x2="467.50" y2="529.92" stroke="#111" stroke-width="0.6"/>
<line x1="464.50" y1="525.30" x2="467.50" y2="525.30" stroke="#111" stroke-width="1"/>
<text x="461.50" y="526.60" font-size="3.3" text-anchor="end" fill="#555">50</text>
<line x1="465.90" y1="520.68" x2="467.50" y2="520.68" stroke="#111" stroke-width="0.6"/>
<line x1="465.90" y1="516.06" x2="467.50" y2="516.06" stroke="#111" stroke-width="0.6"/>
<line x1="465.90" y1="511.44" x2="467.50" y2="511.44" stroke="#111" stroke-width="0.6"/>
<line x1="465.90" y1="506.82" x2="467.50" y2="506.82" stroke="#111" stroke-width="0.6"/>
<line x1="464.50" y1="502.20" x2="467.50" y2="502.20" stroke="#111" stroke-width="1"/>
<text x="461.50" y="503.50" font-size="3.3" text-anchor="end" fill="#555">100</text>
<line x1="465.90" y1="497.58" x2="467.50" y2="497.58" stroke="#111" stroke-width="0.6"/>
<line x1="465.90" y1="492.96" x2="467.50" y2="492.96" stroke="#111" stroke-width="0.6"/>
<line x1="465.90" y1="488.34" x2="467.50" y2="488.34" stroke="#111" stroke-width="0.6"/>
<line x1="465.90" y1="483.72" x2="467.50" y2="483.72" stroke="#111" stroke-width="0.6"/>
<line x1="464.50" y1="479.10" x2="467.50" y2="479.10" stroke="#111" stroke-width="1"/>
<text x="461.50" y="480.40" font-size="3.3" text-anchor="end" fill="#555">150</text>
<line x1="465.90" y1="474.48" x2="467.50" y2="474.48" stroke="#111" stroke-width="0.6"/>
<line x1="465.90" y1="469.86" x2="467.50" y2="469.86" stroke="#111" stroke-width="0.6"/>
<line x1="471.87" y1="558.50" x2="471.87" y2="560.10" stroke="#111" stroke-width="0.6"/>
<line x1="476.25" y1="558.50" x2="476.25" y2="561.50" stroke="#111" stroke-width="1"/>
<text x="476.25" y="565.10" font-size="3.3" text-anchor="middle" fill="#555">0</text>
<line x1="480.63" y1="558.50" x2="480.63" y2="560.10" stroke="#111" stroke-width="0.6"/>
<line x1="485.00" y1="558.50" x2="485.00" y2="560.10" stroke="#111" stroke-width="0.6"/>
<line x1="489.38" y1="558.50" x2="489.38" y2="560.10" stroke="#111" stroke-width="0.6"/>
<line x1="493.76" y1="558.50" x2="493.76" y2="560.10" stroke="#111" stroke-width="0.6"/>
<line x1="498.13" y1="558.50" x2="498.13" y2="561.50" stroke="#111" stroke-width="1"/>
<text x="498.13" y="565.10" font-size="3.3" text-anchor="middle" fill="#555">50</text>
<line x1="502.51" y1="558.50" x2="502.51" y2="560.10" stroke="#111" stroke-width="0.6"/>
<line x1="506.89" y1="558.50" x2="506.89" y2="560.10" stroke="#111" stroke-width="0.6"/>
<line x1="511.27" y1="558.50" x2="511.27" y2="560.10" stroke="#111" stroke-width="0.6"/>
<line x1="515.64" y1="558.50" x2="515.64" y2="560.10" stroke="#111" stroke-width="0.6"/>
<line x1="520.02" y1="558.50" x2="520.02" y2="561.50" stroke="#111" stroke-width="1"/>
<text x="520.02" y="565.10" font-size="3.3" text-anchor="middle" fill="#555">100</text>
<line x1="524.40" y1="558.50" x2="524.40" y2="560.10" stroke="#111" stroke-width="0.6"/>
<line x1="528.77" y1="558.50" x2="528.77" y2="560.10" stroke="#111" stroke-width="0.6"/>
<line x1="533.15" y1="558.50" x2="533.15" y2="560.10" stroke="#111" stroke-width="0.6"/>
<line x1="537.53" y1="558.50" x2="537.53" y2="560.10" stroke="#111" stroke-width="0.6"/>
<line x1="541.90" y1="558.50" x2="541.90" y2="561.50" stroke="#111" stroke-width="1"/>
<text x="541.90" y="565.10" font-size="3.3" text-anchor="middle" fill="#555">150</text>
<line x1="546.28" y1="558.50" x2="546.28" y2="560.10" stroke="#111" stroke-width="0.6"/>
<line x1="550.66" y1="558.50" x2="550.66" y2="560.10" stroke="#111" stroke-width="0.6"/>
<line x1="555.04" y1="558.50" x2="555.04" y2="560.10" stroke="#111" stroke-width="0.6"/>
<g filter="url(#spF)"><g transform="translate(579.75,548.40) scale(0.4377,-0.4620)"><g clip-path="url(#tclip)">
<path d="M39.0,127.8C41.0,128.8 49.0,129.3 51.0,129.2C53.0,129.1 60.8,126.9 63.0,126.3C65.2,125.7 75.5,121.7 78.0,121.5C80.5,121.3 91.2,125.4 93.0,124.0C94.8,122.6 98.8,107.9 100.0,105.0C101.2,102.1 107.1,91.9 108.0,89.0C108.9,86.1 111.0,71.9 111.0,70.0C111.0,68.1 109.3,67.4 108.0,66.6C106.7,65.8 97.3,61.4 95.0,60.0C92.7,58.6 82.4,51.7 80.0,50.0C77.6,48.3 68.1,41.5 66.0,40.0C63.9,38.5 57.0,32.2 55.0,32.0C53.0,31.8 44.0,36.6 42.0,37.5C40.0,38.4 33.0,42.0 31.5,43.0C30.0,44.0 24.9,48.1 24.0,49.6C23.1,51.1 21.2,58.9 21.0,61.0C20.8,63.1 21.1,72.6 21.0,75.2C20.9,77.8 19.5,89.6 19.5,92.2C19.5,94.8 20.4,104.3 21.0,106.4C21.6,108.5 25.5,116.0 27.0,117.8C28.5,119.6 37.0,126.8 39.0,127.8Z" fill="#22a062"/>
<path d="M55.0,32.0C55.2,33.2 63.9,38.5 66.0,40.0C68.1,41.5 77.6,48.3 80.0,50.0C82.4,51.7 92.7,58.6 95.0,60.0C97.3,61.4 106.6,66.3 108.0,66.6C109.4,66.8 111.3,64.1 112.0,63.0C112.7,61.9 115.2,54.8 116.0,53.0C116.8,51.2 120.3,42.9 121.0,41.0C121.7,39.1 124.6,31.5 124.5,29.7C124.4,27.9 121.1,20.5 120.0,19.0C118.9,17.5 112.8,12.6 111.0,11.6C109.2,10.6 100.9,7.6 99.0,7.3C97.1,7.0 89.9,7.7 88.0,8.5C86.1,9.3 78.0,15.5 76.0,17.0C74.0,18.5 65.8,24.8 64.0,26.0C62.2,27.2 54.8,30.8 55.0,32.0Z" fill="#22a062"/>
<path d="M93.0,124.9C93.7,126.9 106.4,128.4 108.0,129.2C109.6,130.0 110.6,134.1 112.0,134.0C113.4,133.9 122.7,128.8 125.0,128.0C127.3,127.2 138.2,124.1 140.0,124.0C141.8,123.9 145.5,127.5 146.0,127.0C146.5,126.5 146.0,120.0 145.5,117.8C145.0,115.5 140.5,102.4 140.0,100.0C139.5,97.6 138.8,91.5 139.0,89.4C139.2,87.3 142.2,76.8 142.0,75.0C141.8,73.2 138.3,68.8 137.0,68.0C135.7,67.2 127.8,66.0 126.0,66.0C124.2,66.0 116.2,67.7 115.0,68.0C113.8,68.3 111.6,68.2 111.0,70.0C110.4,71.8 108.9,86.1 108.0,89.0C107.1,91.9 101.2,102.0 100.0,105.0C98.8,108.0 92.3,122.9 93.0,124.9Z" fill="#22a062"/>
<path d="M64.5,137.7C64.8,140.1 69.2,144.6 72.0,147.7C74.8,150.8 77.8,154.3 81.0,156.2C84.2,158.1 87.5,159.0 91.5,159.0C95.5,159.0 101.8,158.3 105.0,156.2C108.2,154.1 110.8,149.5 111.0,146.3C111.2,143.1 108.0,139.6 106.0,137.0C104.0,134.4 102.7,132.2 99.0,131.0C95.3,129.8 88.8,129.2 84.0,129.5C79.2,129.8 73.2,131.6 70.0,133.0C66.8,134.4 64.2,135.2 64.5,137.7Z" fill="#70e43a"/>
<path d="M109.0,145.0C109.8,146.7 113.7,144.4 117.0,144.4C120.3,144.4 125.0,146.1 129.0,145.0C133.0,143.9 138.0,140.6 141.0,137.7C144.0,134.8 147.2,130.1 147.0,127.8C146.8,125.5 143.7,124.0 140.0,124.0C136.3,124.0 129.7,126.3 125.0,128.0C120.3,129.7 114.7,131.2 112.0,134.0C109.3,136.8 108.2,143.3 109.0,145.0Z" fill="#22a062"/>
<path d="M148.0,109.3C150.7,112.1 155.9,109.2 159.0,106.4C162.1,103.6 166.0,96.9 166.5,92.2C167.0,87.5 164.9,80.8 162.0,78.0C159.1,75.2 152.2,73.3 149.0,75.2C145.8,77.1 143.2,83.7 143.0,89.4C142.8,95.1 145.3,106.5 148.0,109.3Z" fill="#22a062"/>
<g filter="url(#blurT)">
<ellipse cx="132" cy="112" rx="20.3" ry="27.0" fill="#66e83a"/>
<ellipse cx="32" cy="80" rx="11.8" ry="15.2" fill="#5ce43a"/>
<ellipse cx="72" cy="102" rx="15.2" ry="10.1" fill="#58e03a"/>
<ellipse cx="70" cy="65" rx="10.1" ry="8.4" fill="#50d43c"/>
<ellipse cx="140" cy="56" rx="13.5" ry="8.4" fill="#5cd83a"/>
<ellipse cx="45" cy="20" rx="13.5" ry="6.8" fill="#48c840"/>
<ellipse cx="100" cy="60" rx="8.4" ry="8.4" fill="#44c044"/>
<ellipse cx="95" cy="15" rx="10.1" ry="6.8" fill="#48c840"/>
</g>
</g></g></g>
<g filter="url(#spF2)"><g transform="translate(579.75,548.40) scale(0.4377,-0.4620)"><g clip-path="url(#tclipS)">
<path d="M-1.0,78.0C-0.7,80.7 -0.2,84.7 1.0,87.0C2.2,89.3 4.3,91.3 6.0,92.0C7.7,92.7 9.5,92.3 11.0,91.0C12.5,89.7 14.2,87.2 15.0,84.0C15.8,80.8 16.3,75.5 16.0,72.0C15.7,68.5 14.5,64.8 13.0,63.0C11.5,61.2 9.0,60.8 7.0,61.0C5.0,61.2 2.3,62.3 1.0,64.0C-0.3,65.7 -0.7,68.7 -1.0,71.0C-1.3,73.3 -1.3,75.3 -1.0,78.0Z" fill="#22a062"/>
<path d="M130.0,57.0a9.0,7.5 0 1,0 18.0,0a9.0,7.5 0 1,0 -18.0,0Z" fill="#5cd43c"/>
<path d="M145.5,56.0a8.0,6.5 0 1,0 16.0,0a8.0,6.5 0 1,0 -16.0,0Z" fill="#6ee23a"/>
<path d="M128.0,43.0a6.0,4.5 0 1,0 12.0,0a6.0,4.5 0 1,0 -12.0,0Z" fill="#22a062"/>
<path d="M129.0,27.0a6.0,7.0 0 1,0 12.0,0a6.0,7.0 0 1,0 -12.0,0Z" fill="#22a062"/>
<path d="M76.5,7.5a5.5,4.2 0 1,0 11.0,0a5.5,4.2 0 1,0 -11.0,0Z" fill="#22a062"/>
<path d="M63.5,13.2C63.8,13.9 63.8,14.8 63.3,15.8C62.9,16.7 62.1,17.9 61.0,18.9C59.9,20.0 58.4,21.2 56.8,22.3C55.2,23.3 53.3,24.4 51.5,25.3C49.6,26.1 47.5,26.9 45.7,27.4C43.9,28.0 42.0,28.4 40.5,28.5C39.0,28.6 37.5,28.5 36.5,28.3C35.5,28.0 34.8,27.4 34.5,26.8C34.2,26.1 34.2,25.2 34.7,24.2C35.1,23.3 35.9,22.1 37.0,21.1C38.1,20.0 39.6,18.8 41.2,17.7C42.8,16.7 44.7,15.6 46.5,14.7C48.4,13.9 50.5,13.1 52.3,12.6C54.1,12.0 56.0,11.6 57.5,11.5C59.0,11.4 60.5,11.5 61.5,11.7C62.5,12.0 63.2,12.6 63.5,13.2Z" fill="#36b04a"/>
<path d="M68.3,8.5a3.2,3.2 0 1,0 6.4,0a3.2,3.2 0 1,0 -6.4,0Z" fill="#22a062"/>
<g filter="url(#blurT)">
<ellipse cx="132" cy="112" rx="20.3" ry="27.0" fill="#66e83a"/>
<ellipse cx="32" cy="80" rx="11.8" ry="15.2" fill="#5ce43a"/>
<ellipse cx="72" cy="102" rx="15.2" ry="10.1" fill="#58e03a"/>
<ellipse cx="70" cy="65" rx="10.1" ry="8.4" fill="#50d43c"/>
<ellipse cx="140" cy="56" rx="13.5" ry="8.4" fill="#5cd83a"/>
<ellipse cx="45" cy="20" rx="13.5" ry="6.8" fill="#48c840"/>
<ellipse cx="100" cy="60" rx="8.4" ry="8.4" fill="#44c044"/>
<ellipse cx="95" cy="15" rx="10.1" ry="6.8" fill="#48c840"/>
</g>
</g></g></g>
<rect x="582.00" y="565.80" width="20.80" height="4.00" fill="url(#gFJ)"/>
<text x="561.40" y="568.80" font-size="3.0" fill="#555">-1620.4269</text>
<text x="606.80" y="568.80" font-size="3.0" fill="#555">262656.653</text>
<text x="561.40" y="574.00" font-size="3.0" fill="#555">FJComp-R670_30-A</text>
<path d="M570.5,468.5 H661.5 V558.5 H570.5 Z" fill="none" stroke="#999" stroke-width="1"/>
<line x1="568.90" y1="553.02" x2="570.50" y2="553.02" stroke="#111" stroke-width="0.6"/>
<line x1="567.50" y1="548.40" x2="570.50" y2="548.40" stroke="#111" stroke-width="1"/>
<text x="564.50" y="549.70" font-size="3.3" text-anchor="end" fill="#555">0</text>
<line x1="568.90" y1="543.78" x2="570.50" y2="543.78" stroke="#111" stroke-width="0.6"/>
<line x1="568.90" y1="539.16" x2="570.50" y2="539.16" stroke="#111" stroke-width="0.6"/>
<line x1="568.90" y1="534.54" x2="570.50" y2="534.54" stroke="#111" stroke-width="0.6"/>
<line x1="568.90" y1="529.92" x2="570.50" y2="529.92" stroke="#111" stroke-width="0.6"/>
<line x1="567.50" y1="525.30" x2="570.50" y2="525.30" stroke="#111" stroke-width="1"/>
<text x="564.50" y="526.60" font-size="3.3" text-anchor="end" fill="#555">50</text>
<line x1="568.90" y1="520.68" x2="570.50" y2="520.68" stroke="#111" stroke-width="0.6"/>
<line x1="568.90" y1="516.06" x2="570.50" y2="516.06" stroke="#111" stroke-width="0.6"/>
<line x1="568.90" y1="511.44" x2="570.50" y2="511.44" stroke="#111" stroke-width="0.6"/>
<line x1="568.90" y1="506.82" x2="570.50" y2="506.82" stroke="#111" stroke-width="0.6"/>
<line x1="567.50" y1="502.20" x2="570.50" y2="502.20" stroke="#111" stroke-width="1"/>
<text x="564.50" y="503.50" font-size="3.3" text-anchor="end" fill="#555">100</text>
<line x1="568.90" y1="497.58" x2="570.50" y2="497.58" stroke="#111" stroke-width="0.6"/>
<line x1="568.90" y1="492.96" x2="570.50" y2="492.96" stroke="#111" stroke-width="0.6"/>
<line x1="568.90" y1="488.34" x2="570.50" y2="488.34" stroke="#111" stroke-width="0.6"/>
<line x1="568.90" y1="483.72" x2="570.50" y2="483.72" stroke="#111" stroke-width="0.6"/>
<line x1="567.50" y1="479.10" x2="570.50" y2="479.10" stroke="#111" stroke-width="1"/>
<text x="564.50" y="480.40" font-size="3.3" text-anchor="end" fill="#555">150</text>
<line x1="568.90" y1="474.48" x2="570.50" y2="474.48" stroke="#111" stroke-width="0.6"/>
<line x1="568.90" y1="469.86" x2="570.50" y2="469.86" stroke="#111" stroke-width="0.6"/>
<line x1="575.37" y1="558.50" x2="575.37" y2="560.10" stroke="#111" stroke-width="0.6"/>
<line x1="579.75" y1="558.50" x2="579.75" y2="561.50" stroke="#111" stroke-width="1"/>
<text x="579.75" y="565.10" font-size="3.3" text-anchor="middle" fill="#555">0</text>
<line x1="584.13" y1="558.50" x2="584.13" y2="560.10" stroke="#111" stroke-width="0.6"/>
<line x1="588.50" y1="558.50" x2="588.50" y2="560.10" stroke="#111" stroke-width="0.6"/>
<line x1="592.88" y1="558.50" x2="592.88" y2="560.10" stroke="#111" stroke-width="0.6"/>
<line x1="597.26" y1="558.50" x2="597.26" y2="560.10" stroke="#111" stroke-width="0.6"/>
<line x1="601.63" y1="558.50" x2="601.63" y2="561.50" stroke="#111" stroke-width="1"/>
<text x="601.63" y="565.10" font-size="3.3" text-anchor="middle" fill="#555">50</text>
<line x1="606.01" y1="558.50" x2="606.01" y2="560.10" stroke="#111" stroke-width="0.6"/>
<line x1="610.39" y1="558.50" x2="610.39" y2="560.10" stroke="#111" stroke-width="0.6"/>
<line x1="614.77" y1="558.50" x2="614.77" y2="560.10" stroke="#111" stroke-width="0.6"/>
<line x1="619.14" y1="558.50" x2="619.14" y2="560.10" stroke="#111" stroke-width="0.6"/>
<line x1="623.52" y1="558.50" x2="623.52" y2="561.50" stroke="#111" stroke-width="1"/>
<text x="623.52" y="565.10" font-size="3.3" text-anchor="middle" fill="#555">100</text>
<line x1="627.90" y1="558.50" x2="627.90" y2="560.10" stroke="#111" stroke-width="0.6"/>
<line x1="632.27" y1="558.50" x2="632.27" y2="560.10" stroke="#111" stroke-width="0.6"/>
<line x1="636.65" y1="558.50" x2="636.65" y2="560.10" stroke="#111" stroke-width="0.6"/>
<line x1="641.03" y1="558.50" x2="641.03" y2="560.10" stroke="#111" stroke-width="0.6"/>
<line x1="645.40" y1="558.50" x2="645.40" y2="561.50" stroke="#111" stroke-width="1"/>
<text x="645.40" y="565.10" font-size="3.3" text-anchor="middle" fill="#555">150</text>
<line x1="649.78" y1="558.50" x2="649.78" y2="560.10" stroke="#111" stroke-width="0.6"/>
<line x1="654.16" y1="558.50" x2="654.16" y2="560.10" stroke="#111" stroke-width="0.6"/>
<line x1="658.54" y1="558.50" x2="658.54" y2="560.10" stroke="#111" stroke-width="0.6"/>
<text x="134.30" y="482.80" font-size="7.2">B</text>
<line x1="136.80" y1="485.00" x2="137.20" y2="493.50" stroke="#000" stroke-width="0.8"/>
<path d="M135.1,493 L139.4,493 L137.3,497.2 Z" fill="#000"/>
<text x="135.40" y="549.40" font-size="7.2">A</text>
<line x1="133.20" y1="545.80" x2="124.50" y2="541.70" stroke="#000" stroke-width="0.8"/>
<path d="M125.8,539.4 L124.2,543.8 L120.6,540 Z" fill="#000"/>
<text x="46.60" y="561.00" font-size="9" transform="rotate(-90 46.60 561.00)">tSNE-2</text>
<text x="63.00" y="575.20" font-size="9">tSNE-1</text>
<text x="0.50" y="604.10" font-size="13.5" font-weight="bold">g</text>
<line x1="45.80" y1="608.60" x2="45.80" y2="738.50" stroke="#333" stroke-width="0.9"/>
<line x1="45.80" y1="738.50" x2="131.00" y2="738.50" stroke="#333" stroke-width="0.9"/>
<line x1="41.80" y1="609.00" x2="45.80" y2="609.00" stroke="#333" stroke-width="0.9"/>
<text x="37.80" y="612.50" font-size="10" text-anchor="end" fill="#222">2.0</text>
<line x1="41.80" y1="641.60" x2="45.80" y2="641.60" stroke="#333" stroke-width="0.9"/>
<text x="37.80" y="645.10" font-size="10" text-anchor="end" fill="#222">1.5</text>
<line x1="41.80" y1="674.00" x2="45.80" y2="674.00" stroke="#333" stroke-width="0.9"/>
<text x="37.80" y="677.50" font-size="10" text-anchor="end" fill="#222">1.0</text>
<line x1="41.80" y1="706.40" x2="45.80" y2="706.40" stroke="#333" stroke-width="0.9"/>
<text x="37.80" y="709.90" font-size="10" text-anchor="end" fill="#222">0.5</text>
<line x1="41.80" y1="738.50" x2="45.80" y2="738.50" stroke="#333" stroke-width="0.9"/>
<text x="37.80" y="742.00" font-size="10" text-anchor="end" fill="#222">0.0</text>
<line x1="70.10" y1="738.50" x2="70.10" y2="742.00" stroke="#333" stroke-width="0.9"/>
<line x1="107.10" y1="738.50" x2="107.10" y2="742.00" stroke="#333" stroke-width="0.9"/>
<line x1="45.80" y1="674.20" x2="131.00" y2="674.20" stroke="#aaa" stroke-width="0.8" stroke-dasharray="1,1.9"/>
<text x="18.60" y="667.30" font-size="10.1" text-anchor="middle" fill="#222" transform="rotate(-90 18.60 667.30)">Ratio CD57<tspan font-size="6.5" dy="-3.8">-</tspan><tspan dy="3.8">:CD57</tspan><tspan font-size="6.5" dy="-3.8">+</tspan></text>
<text x="73.50" y="749.30" font-size="9.1" text-anchor="end" fill="#222" transform="rotate(-45 73.50 749.30)">Infected</text>
<text x="110.50" y="749.30" font-size="9.1" text-anchor="end" fill="#222" transform="rotate(-45 110.50 749.30)">Uninfected</text>
<circle cx="70.10" cy="666.50" r="1.9" fill="none" stroke="#f05038" stroke-width="0.8"/>
<circle cx="70.10" cy="679.70" r="1.9" fill="none" stroke="#f05038" stroke-width="0.8"/>
<circle cx="70.10" cy="684.60" r="1.9" fill="none" stroke="#f05038" stroke-width="0.8"/>
<circle cx="66.50" cy="692.00" r="1.9" fill="none" stroke="#f05038" stroke-width="0.8"/>
<circle cx="73.60" cy="689.70" r="1.9" fill="none" stroke="#f05038" stroke-width="0.8"/>
<circle cx="66.50" cy="696.90" r="1.9" fill="none" stroke="#f05038" stroke-width="0.8"/>
<circle cx="73.60" cy="698.80" r="1.9" fill="none" stroke="#f05038" stroke-width="0.8"/>
<circle cx="66.50" cy="701.50" r="1.9" fill="none" stroke="#f05038" stroke-width="0.8"/>
<circle cx="59.60" cy="707.40" r="1.9" fill="none" stroke="#f05038" stroke-width="0.8"/>
<circle cx="66.50" cy="708.00" r="1.9" fill="none" stroke="#f05038" stroke-width="0.8"/>
<circle cx="73.60" cy="708.20" r="1.9" fill="none" stroke="#f05038" stroke-width="0.8"/>
<circle cx="80.70" cy="708.00" r="1.9" fill="none" stroke="#f05038" stroke-width="0.8"/>
<circle cx="59.60" cy="711.50" r="1.9" fill="none" stroke="#f05038" stroke-width="0.8"/>
<line x1="70.10" y1="684.60" x2="70.10" y2="708.00" stroke="#f05038" stroke-width="0.9"/>
<line x1="63.50" y1="684.60" x2="76.50" y2="684.60" stroke="#f05038" stroke-width="0.9"/>
<line x1="58.00" y1="698.80" x2="82.70" y2="698.80" stroke="#f05038" stroke-width="0.9"/>
<rect x="105.50" y="629.30" width="3.6" height="3.6" fill="none" stroke="#2a5ef0" stroke-width="0.8"/>
<rect x="105.50" y="639.40" width="3.6" height="3.6" fill="none" stroke="#2a5ef0" stroke-width="0.8"/>
<rect x="101.40" y="645.30" width="3.6" height="3.6" fill="none" stroke="#2a5ef0" stroke-width="0.8"/>
<rect x="109.70" y="647.00" width="3.6" height="3.6" fill="none" stroke="#2a5ef0" stroke-width="0.8"/>
<rect x="105.50" y="654.70" width="3.6" height="3.6" fill="none" stroke="#2a5ef0" stroke-width="0.8"/>
<rect x="101.40" y="665.60" width="3.6" height="3.6" fill="none" stroke="#2a5ef0" stroke-width="0.8"/>
<rect x="109.70" y="665.60" width="3.6" height="3.6" fill="none" stroke="#2a5ef0" stroke-width="0.8"/>
<rect x="105.50" y="681.30" width="3.6" height="3.6" fill="none" stroke="#2a5ef0" stroke-width="0.8"/>
<rect x="101.40" y="694.70" width="3.6" height="3.6" fill="none" stroke="#2a5ef0" stroke-width="0.8"/>
<rect x="109.70" y="693.60" width="3.6" height="3.6" fill="none" stroke="#2a5ef0" stroke-width="0.8"/>
<rect x="105.50" y="703.60" width="3.6" height="3.6" fill="none" stroke="#2a5ef0" stroke-width="0.8"/>
<rect x="105.50" y="711.30" width="3.6" height="3.6" fill="none" stroke="#2a5ef0" stroke-width="0.8"/>
<rect x="97.40" y="713.60" width="3.6" height="3.6" fill="none" stroke="#2a5ef0" stroke-width="0.8"/>
<rect x="113.20" y="713.60" width="3.6" height="3.6" fill="none" stroke="#2a5ef0" stroke-width="0.8"/>
<line x1="107.30" y1="647.40" x2="107.30" y2="713.10" stroke="#2a5ef0" stroke-width="0.9"/>
<line x1="103.20" y1="647.40" x2="111.40" y2="647.40" stroke="#2a5ef0" stroke-width="0.9"/>
<line x1="100.00" y1="713.10" x2="114.60" y2="713.10" stroke="#2a5ef0" stroke-width="0.9"/>
<line x1="95.00" y1="675.10" x2="119.90" y2="675.10" stroke="#2a5ef0" stroke-width="0.9"/>
<text x="154.80" y="601.20" font-size="13.5" font-weight="bold">h</text>
<text x="173.60" y="602.00" font-size="10.3" fill="#222">Fold change to peak</text>
<rect x="225.50" y="617.40" width="13.80" height="14.90" fill="#ffe2e2"/>
<rect x="225.50" y="632.10" width="13.80" height="14.90" fill="#ffc2c2"/>
<rect x="225.50" y="646.80" width="13.80" height="14.90" fill="#f84444"/>
<rect x="225.50" y="661.50" width="13.80" height="14.90" fill="#ffc6c6"/>
<rect x="225.50" y="676.20" width="13.80" height="14.90" fill="#ffffff"/>
<rect x="225.50" y="690.90" width="13.80" height="14.90" fill="#fd2c1c"/>
<rect x="225.50" y="705.60" width="13.80" height="14.90" fill="#f95252"/>
<rect x="225.50" y="720.30" width="13.80" height="14.90" fill="#f96c6c"/>
<rect x="225.50" y="617.40" width="13.80" height="117.60" fill="none" stroke="#333" stroke-width="0.8"/>
<line x1="221.50" y1="624.75" x2="225.50" y2="624.75" stroke="#333" stroke-width="0.8"/>
<text x="220.60" y="628.05" font-size="9.0" text-anchor="end" fill="#222">CD56<tspan font-size="7" dy="-3.4">bright</tspan><tspan dy="3.4"></tspan></text>
<line x1="221.50" y1="639.45" x2="225.50" y2="639.45" stroke="#333" stroke-width="0.8"/>
<text x="220.60" y="642.75" font-size="9.0" text-anchor="end" fill="#222">CD57<tspan font-size="6" dy="-3.4">-</tspan><tspan dy="3.4"></tspan></text>
<line x1="221.50" y1="654.15" x2="225.50" y2="654.15" stroke="#333" stroke-width="0.8"/>
<text x="220.60" y="657.45" font-size="9.0" text-anchor="end" fill="#222">CD57<tspan font-size="6" dy="-3.4">+</tspan><tspan dy="3.4"></tspan></text>
<line x1="221.50" y1="668.85" x2="225.50" y2="668.85" stroke="#333" stroke-width="0.8"/>
<text x="220.60" y="672.15" font-size="9.0" text-anchor="end" fill="#222">CD57<tspan font-size="6" dy="-3.4">-</tspan><tspan dy="3.4">NKG2C</tspan><tspan font-size="6" dy="-3.4">-</tspan><tspan dy="3.4"></tspan></text>
<line x1="221.50" y1="683.55" x2="225.50" y2="683.55" stroke="#333" stroke-width="0.8"/>
<text x="220.60" y="686.85" font-size="9.0" text-anchor="end" fill="#222">CD57<tspan font-size="6" dy="-3.4">-</tspan><tspan dy="3.4">NKG2C</tspan><tspan font-size="6" dy="-3.4">+</tspan><tspan dy="3.4"></tspan></text>
<line x1="221.50" y1="698.25" x2="225.50" y2="698.25" stroke="#333" stroke-width="0.8"/>
<text x="220.60" y="701.55" font-size="9.0" text-anchor="end" fill="#222">CD57<tspan font-size="6" dy="-3.4">+</tspan><tspan dy="3.4">NKG2C</tspan><tspan font-size="6" dy="-3.4">-</tspan><tspan dy="3.4"></tspan></text>
<line x1="221.50" y1="712.95" x2="225.50" y2="712.95" stroke="#333" stroke-width="0.8"/>
<text x="220.60" y="716.25" font-size="9.0" text-anchor="end" fill="#222">CD57<tspan font-size="6" dy="-3.4">+</tspan><tspan dy="3.4">NKG2C</tspan><tspan font-size="6" dy="-3.4">+</tspan><tspan dy="3.4"></tspan></text>
<line x1="221.50" y1="727.65" x2="225.50" y2="727.65" stroke="#333" stroke-width="0.8"/>
<text x="220.60" y="730.95" font-size="9.0" text-anchor="end" fill="#222">CD57<tspan font-size="6" dy="-3.4">+</tspan><tspan dy="3.4">FCεR1γ</tspan><tspan font-size="6" dy="-3.4">-</tspan><tspan dy="3.4"></tspan></text>
<text x="232.20" y="745.00" font-size="8.75" text-anchor="middle" fill="#222">Ki67</text>
<rect x="247.40" y="617.40" width="15.40" height="117.60" fill="url(#gFold)" stroke="#333" stroke-width="0.8"/>
<line x1="262.80" y1="648.70" x2="265.00" y2="648.70" stroke="#333" stroke-width="0.8"/>
<text x="265.60" y="651.90" font-size="9" fill="#222">4.0</text>
<line x1="262.80" y1="693.40" x2="265.00" y2="693.40" stroke="#333" stroke-width="0.8"/>
<text x="265.60" y="696.60" font-size="9" fill="#222">3.5</text>
<text x="291.20" y="674.60" font-size="9.2" text-anchor="middle" fill="#222" transform="rotate(-90 291.20 674.60)">Fold change to peak</text>
<text x="321.50" y="604.00" font-size="13.5" font-weight="bold">i</text>
<rect x="360.40" y="626.10" width="103.10" height="102.40" fill="none" stroke="#555" stroke-width="0.8"/>
<line x1="360.40" y1="626.10" x2="360.40" y2="728.50" stroke="#333" stroke-width="0.9"/>
<line x1="360.40" y1="728.50" x2="463.50" y2="728.50" stroke="#333" stroke-width="0.9"/>
<line x1="356.90" y1="626.20" x2="360.40" y2="626.20" stroke="#333" stroke-width="0.9"/>
<text x="355.40" y="629.10" font-size="8" text-anchor="end" fill="#222">15</text>
<line x1="356.90" y1="660.10" x2="360.40" y2="660.10" stroke="#333" stroke-width="0.9"/>
<text x="355.40" y="663.00" font-size="8" text-anchor="end" fill="#222">10</text>
<line x1="356.90" y1="694.40" x2="360.40" y2="694.40" stroke="#333" stroke-width="0.9"/>
<text x="355.40" y="697.30" font-size="8" text-anchor="end" fill="#222">5</text>
<line x1="356.90" y1="728.50" x2="360.40" y2="728.50" stroke="#333" stroke-width="0.9"/>
<text x="355.40" y="731.40" font-size="8" text-anchor="end" fill="#222">0</text>
<line x1="360.40" y1="728.50" x2="360.40" y2="732.00" stroke="#333" stroke-width="0.9"/>
<text x="360.40" y="741.60" font-size="8" text-anchor="middle" fill="#222">0.0</text>
<line x1="394.60" y1="728.50" x2="394.60" y2="732.00" stroke="#333" stroke-width="0.9"/>
<text x="394.60" y="741.60" font-size="8" text-anchor="middle" fill="#222">0.5</text>
<line x1="428.80" y1="728.50" x2="428.80" y2="732.00" stroke="#333" stroke-width="0.9"/>
<text x="428.80" y="741.60" font-size="8" text-anchor="middle" fill="#222">1.0</text>
<line x1="462.90" y1="728.50" x2="462.90" y2="732.00" stroke="#333" stroke-width="0.9"/>
<text x="462.90" y="741.60" font-size="8" text-anchor="middle" fill="#222">1.5</text>
<text x="414.00" y="638.10" font-size="8.6" fill="#222">r = -0.586</text>
<text x="414.00" y="648.40" font-size="8.6" fill="#222">p = 0.0384</text>
<circle cx="389.10" cy="653.40" r="1.7" fill="#f22a18"/>
<circle cx="393.30" cy="677.30" r="1.7" fill="#f22a18"/>
<circle cx="392.70" cy="684.10" r="1.7" fill="#f22a18"/>
<circle cx="392.70" cy="691.20" r="1.7" fill="#f22a18"/>
<circle cx="399.70" cy="680.70" r="1.7" fill="#f22a18"/>
<circle cx="402.60" cy="684.10" r="1.7" fill="#f22a18"/>
<circle cx="404.10" cy="697.80" r="1.7" fill="#f22a18"/>
<circle cx="409.40" cy="694.40" r="1.7" fill="#f22a18"/>
<circle cx="411.90" cy="687.60" r="1.7" fill="#f22a18"/>
<circle cx="417.40" cy="687.60" r="1.7" fill="#f22a18"/>
<circle cx="422.50" cy="680.70" r="1.7" fill="#f22a18"/>
<circle cx="436.70" cy="708.30" r="1.7" fill="#f22a18"/>
<line x1="389.10" y1="676.00" x2="436.70" y2="703.10" stroke="#f22a18" stroke-width="0.8"/>
<text x="332.60" y="676.50" font-size="10.3" text-anchor="middle" fill="#222" transform="rotate(-90 332.60 676.50)">Duration FFA positive</text>
<text x="343.00" y="683.80" font-size="10.3" text-anchor="middle" fill="#222" transform="rotate(-90 343.00 683.80)">(Days)</text>
<text x="412.70" y="756.20" font-size="9.06" text-anchor="middle" fill="#222">Ratio CD57<tspan font-size="6" dy="-3.4">-</tspan><tspan dy="3.4">/CD57</tspan><tspan font-size="6.5" dy="-3.4">+</tspan></text>
<text x="475.60" y="605.50" font-size="13.5" font-weight="bold">j</text>
<text x="492.60" y="605.00" font-size="10.6" fill="#222">Baseline NK cell subset frequency</text>
<rect x="560.40" y="629.20" width="28.70" height="28.90" fill="#fee8b6"/>
<rect x="588.90" y="629.20" width="28.80" height="28.90" fill="#e9cddb"/>
<rect x="560.40" y="657.90" width="28.70" height="29.00" fill="#a73a6f"/>
<rect x="588.90" y="657.90" width="28.80" height="29.00" fill="#fee0a2"/>
<rect x="560.40" y="686.70" width="28.70" height="29.00" fill="#fee8b6"/>
<rect x="588.90" y="686.70" width="28.80" height="29.00" fill="#c0608c"/>
<rect x="560.40" y="629.20" width="57.10" height="86.30" fill="none" stroke="#333" stroke-width="0.8"/>
<text x="575.00" y="649.57" font-size="8.5" text-anchor="middle" font-weight="bold">*</text>
<text x="575.00" y="676.88" font-size="8.5" text-anchor="middle" font-weight="bold">**</text>
<text x="603.40" y="676.88" font-size="8.5" text-anchor="middle" font-weight="bold">*</text>
<text x="575.00" y="705.17" font-size="8.5" text-anchor="middle" font-weight="bold">*</text>
<text x="603.40" y="705.17" font-size="8.5" text-anchor="middle" font-weight="bold">*</text>
<line x1="556.40" y1="644.00" x2="560.40" y2="644.00" stroke="#333" stroke-width="0.8"/>
<line x1="556.40" y1="672.30" x2="560.40" y2="672.30" stroke="#333" stroke-width="0.8"/>
<line x1="556.40" y1="700.90" x2="560.40" y2="700.90" stroke="#333" stroke-width="0.8"/>
<line x1="575.00" y1="715.50" x2="575.00" y2="719.50" stroke="#333" stroke-width="0.8"/>
<line x1="603.40" y1="715.50" x2="603.40" y2="719.50" stroke="#333" stroke-width="0.8"/>
<text x="552.40" y="647.60" font-size="10" text-anchor="end" fill="#222">CD56<tspan font-size="7" dy="-3.8">dim</tspan><tspan dy="3.8">CD57</tspan><tspan font-size="7" dy="-3.8">-</tspan><tspan dy="3.8"></tspan></text>
<text x="487.40" y="670.10" font-size="10" fill="#222">CD56<tspan font-size="7" dy="-3.8">dim</tspan><tspan dy="3.8"></tspan></text>
<text x="552.40" y="682.20" font-size="10" text-anchor="end" fill="#222">CD57<tspan font-size="7" dy="-3.8">+</tspan><tspan dy="3.8">NKG2C</tspan><tspan font-size="7" dy="-3.8">-</tspan><tspan dy="3.8"></tspan></text>
<text x="487.40" y="697.40" font-size="10" fill="#222">CD56<tspan font-size="7" dy="-3.8">dim</tspan><tspan dy="3.8"></tspan></text>
<text x="552.40" y="710.50" font-size="10" text-anchor="end" fill="#222">CD57<tspan font-size="7" dy="-3.8">+</tspan><tspan dy="3.8">NKG2C</tspan><tspan font-size="7" dy="-3.8">+</tspan><tspan dy="3.8"></tspan></text>
<text x="573.30" y="721.30" font-size="9.4" text-anchor="end" fill="#222" transform="rotate(-90 573.30 721.30)">Duration FFA</text>
<text x="583.40" y="721.30" font-size="9.4" text-anchor="end" fill="#222" transform="rotate(-90 583.40 721.30)">positive</text>
<text x="600.60" y="721.30" font-size="9.4" text-anchor="end" fill="#222" transform="rotate(-90 600.60 721.30)">Time to FFA</text>
<text x="611.60" y="721.30" font-size="9.4" text-anchor="end" fill="#222" transform="rotate(-90 611.60 721.30)">positive</text>
<rect x="633.20" y="629.20" width="16.30" height="86.30" fill="url(#gSp)" stroke="#333" stroke-width="0.8"/>
<line x1="649.50" y1="631.70" x2="652.00" y2="631.70" stroke="#333" stroke-width="0.8"/>
<text x="655.20" y="635.10" font-size="9.5" fill="#222">1.0</text>
<line x1="649.50" y1="651.20" x2="652.00" y2="651.20" stroke="#333" stroke-width="0.8"/>
<text x="655.20" y="654.60" font-size="9.5" fill="#222">0.5</text>
<line x1="649.50" y1="672.20" x2="652.00" y2="672.20" stroke="#333" stroke-width="0.8"/>
<text x="655.20" y="675.60" font-size="9.5" fill="#222">0</text>
<line x1="649.50" y1="693.60" x2="652.00" y2="693.60" stroke="#333" stroke-width="0.8"/>
<text x="652.20" y="697.00" font-size="9.5" fill="#222">-0.5</text>
<line x1="649.50" y1="712.40" x2="652.00" y2="712.40" stroke="#333" stroke-width="0.8"/>
<text x="652.20" y="715.80" font-size="9.5" fill="#222">-1.0</text>
<text x="684.30" y="675.50" font-size="8.7" text-anchor="middle" fill="#222" transform="rotate(-90 684.30 675.50)">Spearman r</text>
</svg></body></html>
